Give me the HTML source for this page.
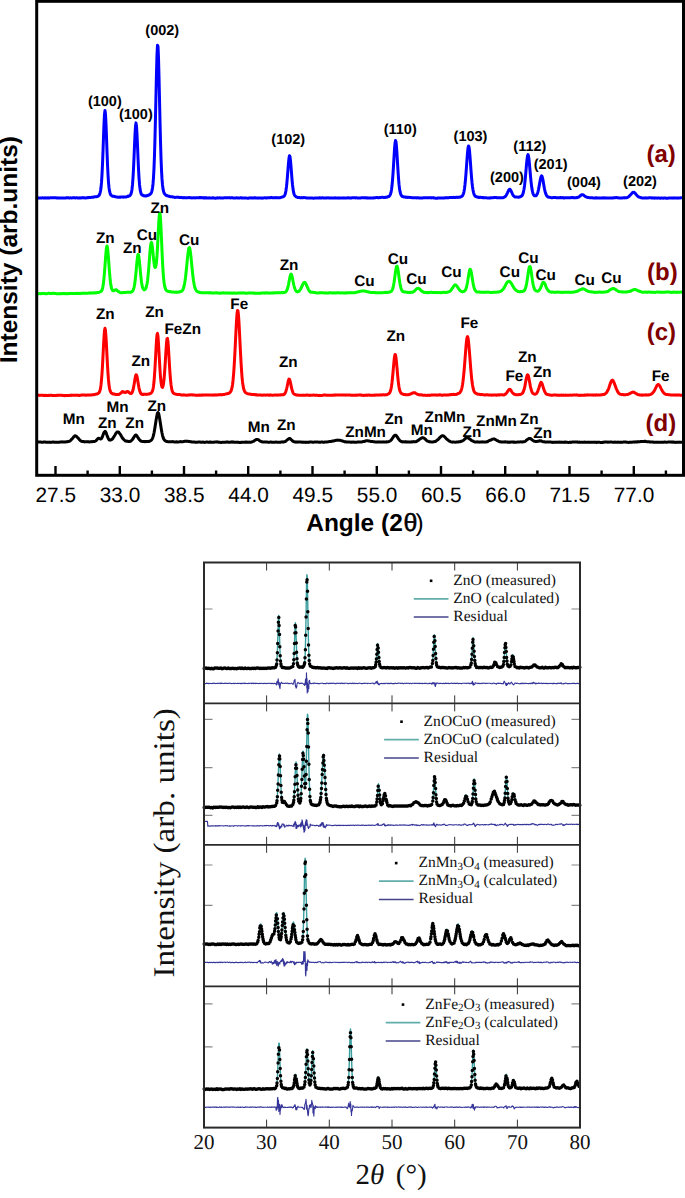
<!DOCTYPE html>
<html><head><meta charset="utf-8"><style>
html,body{margin:0;padding:0;background:#fff;}
svg{display:block;text-rendering:geometricPrecision;}
</style></head><body>
<svg width="685" height="1198" viewBox="0 0 685 1198">
<rect width="685" height="1198" fill="#fff"/>

<g fill="none" stroke-width="3" stroke-linejoin="round" stroke-linecap="round"><path d="M38.0,197.84 L38.5,197.98 L39.0,198.05 L39.5,197.95 L40.0,197.95 L40.5,197.93 L41.0,197.98 L41.5,198.06 L42.0,197.90 L42.5,197.78 L43.0,197.93 L43.5,197.91 L44.0,198.00 L44.5,197.83 L45.0,197.85 L45.5,197.94 L46.0,197.86 L46.5,198.02 L47.0,198.12 L47.5,197.92 L48.0,197.78 L48.5,197.84 L49.0,198.00 L49.5,197.95 L50.0,197.86 L50.5,197.86 L51.0,197.74 L51.5,197.71 L52.0,197.76 L52.5,197.81 L53.0,197.77 L53.5,197.73 L54.0,197.71 L54.5,197.76 L55.0,197.75 L55.5,197.66 L56.0,197.84 L56.5,197.88 L57.0,197.93 L57.5,197.84 L58.0,198.01 L58.5,198.09 L59.0,197.92 L59.5,197.87 L60.0,197.95 L60.5,198.00 L61.0,198.10 L61.5,198.02 L62.0,198.08 L62.5,198.08 L63.0,197.97 L63.5,197.97 L64.0,198.07 L64.5,198.12 L65.0,198.05 L65.5,198.03 L66.0,197.85 L66.5,197.78 L67.0,197.90 L67.5,197.87 L68.0,197.77 L68.5,197.82 L69.0,197.90 L69.5,197.94 L70.0,197.88 L70.5,197.86 L71.0,197.86 L71.5,197.94 L72.0,197.92 L72.5,197.87 L73.0,197.86 L73.5,197.71 L74.0,197.61 L74.5,197.74 L75.0,197.91 L75.5,197.91 L76.0,197.85 L76.5,197.74 L77.0,197.76 L77.5,197.92 L78.0,197.96 L78.5,197.92 L79.0,197.99 L79.5,197.85 L80.0,197.83 L80.5,197.94 L81.0,197.91 L81.5,197.85 L82.0,197.74 L82.5,197.75 L83.0,197.88 L83.5,197.68 L84.0,197.76 L84.5,197.83 L85.0,197.90 L85.5,197.89 L86.0,197.91 L86.5,197.82 L87.0,197.77 L87.5,197.69 L88.0,197.51 L88.5,197.63 L89.0,197.61 L89.5,197.47 L90.0,197.46 L90.5,197.44 L91.0,197.37 L91.5,197.30 L92.0,197.30 L92.5,197.31 L93.0,197.29 L93.5,197.21 L94.0,197.00 L94.5,196.89 L95.0,196.76 L95.5,196.75 L96.0,196.79 L96.5,196.74 L97.0,196.64 L97.5,196.50 L98.0,196.13 L98.5,195.89 L99.0,195.43 L99.5,194.52 L100.0,193.16 L100.5,191.01 L101.0,187.77 L101.5,182.41 L102.0,174.58 L102.5,164.23 L103.0,151.42 L103.5,137.28 L104.0,123.93 L104.5,114.16 L105.0,110.42 L105.5,114.10 L106.0,124.08 L106.5,137.39 L107.0,151.40 L107.5,164.23 L108.0,174.55 L108.5,182.32 L109.0,187.65 L109.5,190.99 L110.0,192.98 L110.5,194.38 L111.0,195.13 L111.5,195.51 L112.0,195.88 L112.5,196.22 L113.0,196.23 L113.5,196.26 L114.0,196.34 L114.5,196.58 L115.0,196.60 L115.5,196.78 L116.0,196.92 L116.5,196.98 L117.0,196.93 L117.5,197.13 L118.0,197.22 L118.5,197.20 L119.0,197.10 L119.5,197.15 L120.0,197.12 L120.5,197.14 L121.0,197.08 L121.5,197.12 L122.0,196.98 L122.5,196.94 L123.0,197.10 L123.5,197.17 L124.0,197.04 L124.5,197.10 L125.0,196.95 L125.5,197.02 L126.0,196.98 L126.5,196.82 L127.0,196.62 L127.5,196.37 L128.0,196.39 L128.5,196.09 L129.0,196.03 L129.5,195.89 L130.0,195.48 L130.5,194.71 L131.0,193.79 L131.5,192.14 L132.0,189.24 L132.5,184.64 L133.0,177.93 L133.5,168.95 L134.0,157.93 L134.5,146.01 L135.0,134.63 L135.5,126.12 L136.0,122.87 L136.5,126.11 L137.0,134.47 L137.5,145.83 L138.0,157.77 L138.5,168.81 L139.0,177.81 L139.5,184.21 L140.0,188.63 L140.5,191.47 L141.0,193.37 L141.5,194.44 L142.0,194.93 L142.5,195.18 L143.0,195.46 L143.5,195.70 L144.0,195.88 L144.5,195.83 L145.0,195.94 L145.5,195.94 L146.0,195.85 L146.5,195.90 L147.0,195.68 L147.5,195.61 L148.0,195.31 L148.5,195.05 L149.0,195.00 L149.5,194.63 L150.0,194.38 L150.5,193.94 L151.0,193.37 L151.5,192.29 L152.0,190.63 L152.5,187.99 L153.0,183.96 L153.5,177.51 L154.0,168.07 L154.5,154.83 L155.0,137.41 L155.5,116.76 L156.0,94.09 L156.5,72.16 L157.0,54.52 L157.5,45.20 L158.0,46.42 L158.5,57.92 L159.0,76.58 L159.5,98.84 L160.0,121.25 L160.5,141.24 L161.0,157.73 L161.5,170.17 L162.0,178.95 L162.5,184.89 L163.0,188.87 L163.5,191.26 L164.0,192.85 L164.5,193.74 L165.0,194.29 L165.5,194.85 L166.0,195.28 L166.5,195.39 L167.0,195.70 L167.5,195.78 L168.0,195.88 L168.5,196.21 L169.0,196.22 L169.5,196.31 L170.0,196.62 L170.5,196.69 L171.0,196.67 L171.5,196.68 L172.0,196.73 L172.5,196.93 L173.0,196.90 L173.5,197.12 L174.0,197.13 L174.5,197.33 L175.0,197.46 L175.5,197.37 L176.0,197.31 L176.5,197.34 L177.0,197.26 L177.5,197.37 L178.0,197.27 L178.5,197.20 L179.0,197.45 L179.5,197.42 L180.0,197.49 L180.5,197.51 L181.0,197.48 L181.5,197.39 L182.0,197.59 L182.5,197.75 L183.0,197.86 L183.5,197.69 L184.0,197.60 L184.5,197.66 L185.0,197.82 L185.5,197.80 L186.0,197.83 L186.5,197.85 L187.0,197.74 L187.5,197.75 L188.0,197.69 L188.5,197.63 L189.0,197.55 L189.5,197.55 L190.0,197.76 L190.5,197.75 L191.0,197.80 L191.5,197.84 L192.0,197.96 L192.5,197.88 L193.0,197.80 L193.5,197.75 L194.0,197.71 L194.5,197.85 L195.0,197.96 L195.5,197.86 L196.0,197.80 L196.5,197.82 L197.0,197.85 L197.5,197.87 L198.0,197.79 L198.5,197.66 L199.0,197.64 L199.5,197.57 L200.0,197.67 L200.5,197.60 L201.0,197.55 L201.5,197.68 L202.0,197.67 L202.5,197.82 L203.0,197.83 L203.5,197.95 L204.0,197.82 L204.5,197.84 L205.0,197.94 L205.5,197.79 L206.0,197.95 L206.5,197.83 L207.0,197.93 L207.5,198.06 L208.0,198.11 L208.5,197.99 L209.0,197.84 L209.5,197.86 L210.0,198.00 L210.5,197.90 L211.0,198.02 L211.5,197.88 L212.0,198.01 L212.5,197.83 L213.0,197.80 L213.5,197.95 L214.0,198.03 L214.5,198.11 L215.0,198.15 L215.5,198.15 L216.0,198.14 L216.5,197.97 L217.0,197.93 L217.5,197.82 L218.0,197.91 L218.5,197.96 L219.0,197.87 L219.5,197.76 L220.0,197.94 L220.5,198.03 L221.0,198.01 L221.5,197.99 L222.0,198.08 L222.5,198.02 L223.0,197.96 L223.5,197.90 L224.0,197.83 L224.5,197.72 L225.0,197.82 L225.5,197.83 L226.0,197.88 L226.5,197.76 L227.0,197.77 L227.5,197.70 L228.0,197.66 L228.5,197.67 L229.0,197.84 L229.5,197.84 L230.0,197.83 L230.5,197.90 L231.0,197.83 L231.5,197.71 L232.0,197.78 L232.5,197.83 L233.0,197.90 L233.5,197.89 L234.0,197.96 L234.5,198.02 L235.0,197.91 L235.5,197.92 L236.0,197.91 L236.5,197.84 L237.0,197.84 L237.5,197.88 L238.0,198.02 L238.5,198.12 L239.0,197.99 L239.5,198.02 L240.0,197.86 L240.5,197.75 L241.0,197.81 L241.5,197.96 L242.0,197.85 L242.5,197.95 L243.0,198.06 L243.5,197.96 L244.0,198.01 L244.5,198.09 L245.0,198.00 L245.5,198.04 L246.0,198.08 L246.5,198.06 L247.0,198.13 L247.5,198.19 L248.0,198.25 L248.5,198.17 L249.0,198.00 L249.5,197.90 L250.0,197.83 L250.5,197.88 L251.0,197.97 L251.5,197.82 L252.0,197.90 L252.5,197.97 L253.0,197.91 L253.5,197.92 L254.0,197.82 L254.5,197.92 L255.0,197.78 L255.5,197.96 L256.0,198.04 L256.5,198.04 L257.0,197.93 L257.5,198.05 L258.0,198.15 L258.5,197.97 L259.0,198.03 L259.5,198.09 L260.0,198.08 L260.5,198.09 L261.0,198.02 L261.5,198.11 L262.0,198.18 L262.5,198.06 L263.0,198.10 L263.5,198.01 L264.0,197.87 L264.5,197.82 L265.0,197.73 L265.5,197.89 L266.0,198.02 L266.5,197.86 L267.0,197.89 L267.5,197.85 L268.0,197.74 L268.5,197.71 L269.0,197.67 L269.5,197.79 L270.0,197.65 L270.5,197.61 L271.0,197.65 L271.5,197.55 L272.0,197.66 L272.5,197.72 L273.0,197.84 L273.5,197.72 L274.0,197.66 L274.5,197.69 L275.0,197.63 L275.5,197.67 L276.0,197.59 L276.5,197.66 L277.0,197.73 L277.5,197.77 L278.0,197.84 L278.5,197.75 L279.0,197.66 L279.5,197.69 L280.0,197.66 L280.5,197.56 L281.0,197.41 L281.5,197.24 L282.0,197.03 L282.5,197.03 L283.0,196.74 L283.5,196.60 L284.0,196.22 L284.5,195.70 L285.0,194.66 L285.5,193.03 L286.0,190.23 L286.5,186.50 L287.0,181.61 L287.5,175.61 L288.0,169.13 L288.5,162.87 L289.0,158.07 L289.5,155.67 L290.0,156.69 L290.5,160.64 L291.0,166.42 L291.5,172.93 L292.0,179.28 L292.5,184.68 L293.0,188.85 L293.5,191.91 L294.0,193.89 L294.5,195.10 L295.0,195.78 L295.5,196.26 L296.0,196.65 L296.5,196.99 L297.0,197.22 L297.5,197.30 L298.0,197.50 L298.5,197.50 L299.0,197.62 L299.5,197.58 L300.0,197.67 L300.5,197.81 L301.0,197.71 L301.5,197.61 L302.0,197.67 L302.5,197.70 L303.0,197.67 L303.5,197.55 L304.0,197.58 L304.5,197.62 L305.0,197.64 L305.5,197.80 L306.0,197.83 L306.5,197.90 L307.0,197.99 L307.5,198.02 L308.0,197.96 L308.5,198.00 L309.0,198.00 L309.5,198.00 L310.0,198.00 L310.5,197.93 L311.0,197.95 L311.5,197.97 L312.0,198.07 L312.5,198.10 L313.0,198.14 L313.5,198.15 L314.0,198.16 L314.5,198.12 L315.0,198.00 L315.5,197.90 L316.0,197.97 L316.5,198.06 L317.0,198.03 L317.5,197.89 L318.0,197.99 L318.5,197.96 L319.0,197.94 L319.5,197.80 L320.0,197.84 L320.5,197.93 L321.0,197.91 L321.5,197.87 L322.0,197.93 L322.5,197.78 L323.0,197.83 L323.5,197.99 L324.0,198.03 L324.5,197.97 L325.0,198.01 L325.5,198.02 L326.0,197.91 L326.5,197.82 L327.0,197.97 L327.5,197.89 L328.0,197.78 L328.5,197.92 L329.0,197.93 L329.5,197.89 L330.0,197.91 L330.5,197.99 L331.0,197.87 L331.5,197.94 L332.0,198.00 L332.5,198.08 L333.0,197.96 L333.5,197.99 L334.0,197.89 L334.5,197.92 L335.0,197.83 L335.5,197.95 L336.0,198.06 L336.5,197.97 L337.0,197.88 L337.5,198.03 L338.0,198.07 L338.5,198.13 L339.0,197.93 L339.5,198.05 L340.0,198.06 L340.5,197.96 L341.0,197.94 L341.5,198.01 L342.0,198.08 L342.5,197.94 L343.0,197.98 L343.5,197.86 L344.0,198.03 L344.5,197.98 L345.0,198.09 L345.5,198.11 L346.0,198.09 L346.5,197.97 L347.0,197.97 L347.5,197.85 L348.0,197.77 L348.5,197.88 L349.0,197.85 L349.5,197.95 L350.0,197.87 L350.5,197.95 L351.0,198.01 L351.5,197.93 L352.0,197.81 L352.5,197.81 L353.0,197.84 L353.5,197.75 L354.0,197.71 L354.5,197.64 L355.0,197.75 L355.5,197.92 L356.0,197.83 L356.5,197.72 L357.0,197.84 L357.5,197.96 L358.0,198.08 L358.5,198.07 L359.0,197.97 L359.5,198.05 L360.0,197.90 L360.5,197.96 L361.0,197.82 L361.5,197.81 L362.0,197.84 L362.5,197.82 L363.0,197.74 L363.5,197.71 L364.0,197.86 L364.5,197.86 L365.0,197.89 L365.5,197.80 L366.0,197.89 L366.5,197.83 L367.0,197.87 L367.5,197.99 L368.0,198.10 L368.5,197.89 L369.0,197.97 L369.5,198.04 L370.0,197.93 L370.5,197.87 L371.0,197.88 L371.5,197.99 L372.0,197.91 L372.5,198.00 L373.0,198.02 L373.5,197.85 L374.0,197.96 L374.5,197.76 L375.0,197.66 L375.5,197.74 L376.0,197.61 L376.5,197.61 L377.0,197.54 L377.5,197.58 L378.0,197.72 L378.5,197.83 L379.0,197.64 L379.5,197.51 L380.0,197.65 L380.5,197.49 L381.0,197.45 L381.5,197.36 L382.0,197.28 L382.5,197.20 L383.0,197.31 L383.5,197.40 L384.0,197.44 L384.5,197.49 L385.0,197.45 L385.5,197.32 L386.0,197.27 L386.5,197.30 L387.0,197.19 L387.5,196.94 L388.0,196.64 L388.5,196.61 L389.0,196.34 L389.5,195.85 L390.0,195.22 L390.5,194.15 L391.0,192.43 L391.5,189.64 L392.0,185.77 L392.5,180.48 L393.0,173.66 L393.5,165.87 L394.0,157.35 L394.5,149.41 L395.0,143.36 L395.5,140.58 L396.0,141.85 L396.5,146.82 L397.0,154.10 L397.5,162.67 L398.0,170.79 L398.5,178.20 L399.0,184.15 L399.5,188.61 L400.0,191.50 L400.5,193.41 L401.0,194.84 L401.5,195.62 L402.0,196.08 L402.5,196.56 L403.0,196.61 L403.5,196.80 L404.0,196.92 L404.5,196.92 L405.0,197.02 L405.5,197.20 L406.0,197.39 L406.5,197.27 L407.0,197.35 L407.5,197.29 L408.0,197.46 L408.5,197.38 L409.0,197.31 L409.5,197.38 L410.0,197.53 L410.5,197.52 L411.0,197.46 L411.5,197.62 L412.0,197.74 L412.5,197.85 L413.0,197.76 L413.5,197.73 L414.0,197.66 L414.5,197.71 L415.0,197.68 L415.5,197.66 L416.0,197.79 L416.5,197.93 L417.0,197.92 L417.5,197.77 L418.0,197.83 L418.5,197.81 L419.0,197.96 L419.5,197.99 L420.0,198.04 L420.5,198.04 L421.0,197.99 L421.5,198.06 L422.0,198.10 L422.5,197.96 L423.0,197.82 L423.5,197.79 L424.0,197.82 L424.5,197.71 L425.0,197.71 L425.5,197.77 L426.0,197.66 L426.5,197.82 L427.0,197.87 L427.5,197.81 L428.0,197.77 L428.5,197.75 L429.0,197.73 L429.5,197.85 L430.0,197.85 L430.5,197.86 L431.0,197.76 L431.5,197.91 L432.0,197.85 L432.5,197.80 L433.0,197.69 L433.5,197.88 L434.0,197.87 L434.5,197.99 L435.0,198.08 L435.5,198.15 L436.0,198.16 L436.5,198.19 L437.0,198.22 L437.5,198.20 L438.0,197.98 L438.5,197.95 L439.0,197.94 L439.5,198.06 L440.0,198.07 L440.5,198.06 L441.0,198.07 L441.5,197.95 L442.0,198.04 L442.5,198.02 L443.0,197.93 L443.5,197.88 L444.0,198.00 L444.5,197.95 L445.0,197.80 L445.5,197.69 L446.0,197.77 L446.5,197.79 L447.0,197.90 L447.5,197.76 L448.0,197.73 L448.5,197.80 L449.0,197.64 L449.5,197.54 L450.0,197.60 L450.5,197.55 L451.0,197.46 L451.5,197.45 L452.0,197.54 L452.5,197.57 L453.0,197.44 L453.5,197.35 L454.0,197.51 L454.5,197.54 L455.0,197.42 L455.5,197.53 L456.0,197.34 L456.5,197.29 L457.0,197.39 L457.5,197.40 L458.0,197.25 L458.5,197.31 L459.0,197.23 L459.5,197.21 L460.0,197.17 L460.5,196.94 L461.0,196.77 L461.5,196.49 L462.0,196.22 L462.5,195.68 L463.0,194.81 L463.5,193.49 L464.0,191.56 L464.5,188.50 L465.0,184.42 L465.5,179.41 L466.0,173.32 L466.5,166.39 L467.0,159.29 L467.5,152.80 L468.0,148.12 L468.5,145.99 L469.0,146.91 L469.5,150.57 L470.0,156.59 L470.5,163.48 L471.0,170.42 L471.5,176.87 L472.0,182.49 L472.5,186.74 L473.0,189.96 L473.5,192.30 L474.0,194.06 L474.5,195.18 L475.0,195.97 L475.5,196.36 L476.0,196.63 L476.5,196.81 L477.0,196.93 L477.5,197.04 L478.0,197.21 L478.5,197.39 L479.0,197.36 L479.5,197.41 L480.0,197.37 L480.5,197.34 L481.0,197.40 L481.5,197.46 L482.0,197.51 L482.5,197.67 L483.0,197.55 L483.5,197.61 L484.0,197.77 L484.5,197.80 L485.0,197.78 L485.5,197.71 L486.0,197.67 L486.5,197.81 L487.0,197.89 L487.5,197.89 L488.0,197.95 L488.5,198.01 L489.0,198.03 L489.5,197.90 L490.0,197.84 L490.5,197.90 L491.0,197.81 L491.5,197.86 L492.0,197.82 L492.5,197.75 L493.0,197.73 L493.5,197.62 L494.0,197.61 L494.5,197.62 L495.0,197.51 L495.5,197.48 L496.0,197.48 L496.5,197.66 L497.0,197.70 L497.5,197.64 L498.0,197.80 L498.5,197.69 L499.0,197.69 L499.5,197.75 L500.0,197.77 L500.5,197.71 L501.0,197.76 L501.5,197.69 L502.0,197.70 L502.5,197.63 L503.0,197.68 L503.5,197.60 L504.0,197.29 L504.5,196.97 L505.0,196.83 L505.5,196.28 L506.0,195.54 L506.5,194.72 L507.0,193.79 L507.5,192.86 L508.0,191.66 L508.5,190.64 L509.0,189.86 L509.5,189.23 L510.0,189.31 L510.5,189.99 L511.0,190.85 L511.5,191.91 L512.0,192.98 L512.5,194.17 L513.0,195.18 L513.5,195.72 L514.0,196.27 L514.5,196.61 L515.0,196.91 L515.5,196.93 L516.0,196.96 L516.5,196.97 L517.0,197.02 L517.5,197.12 L518.0,197.19 L518.5,197.20 L519.0,197.14 L519.5,196.88 L520.0,196.74 L520.5,196.66 L521.0,196.37 L521.5,196.07 L522.0,195.69 L522.5,194.77 L523.0,193.68 L523.5,191.75 L524.0,189.18 L524.5,185.88 L525.0,181.38 L525.5,176.16 L526.0,170.36 L526.5,164.67 L527.0,159.67 L527.5,155.94 L528.0,154.60 L528.5,156.00 L529.0,159.54 L529.5,164.53 L530.0,170.40 L530.5,176.08 L531.0,181.28 L531.5,185.50 L532.0,189.11 L532.5,191.66 L533.0,193.51 L533.5,194.75 L534.0,195.31 L534.5,195.69 L535.0,195.82 L535.5,195.87 L536.0,195.73 L536.5,195.16 L537.0,194.33 L537.5,193.28 L538.0,191.66 L538.5,189.48 L539.0,186.91 L539.5,184.15 L540.0,181.29 L540.5,178.79 L541.0,176.80 L541.5,175.92 L542.0,176.21 L542.5,177.82 L543.0,180.26 L543.5,183.26 L544.0,186.16 L544.5,188.82 L545.0,191.15 L545.5,193.03 L546.0,194.40 L546.5,195.45 L547.0,196.04 L547.5,196.64 L548.0,196.98 L548.5,197.15 L549.0,197.13 L549.5,197.19 L550.0,197.35 L550.5,197.46 L551.0,197.59 L551.5,197.71 L552.0,197.63 L552.5,197.64 L553.0,197.60 L553.5,197.51 L554.0,197.46 L554.5,197.47 L555.0,197.42 L555.5,197.53 L556.0,197.66 L556.5,197.71 L557.0,197.78 L557.5,197.70 L558.0,197.64 L558.5,197.71 L559.0,197.85 L559.5,197.82 L560.0,197.67 L560.5,197.57 L561.0,197.59 L561.5,197.70 L562.0,197.61 L562.5,197.60 L563.0,197.73 L563.5,197.91 L564.0,197.84 L564.5,197.88 L565.0,197.87 L565.5,197.73 L566.0,197.71 L566.5,197.65 L567.0,197.64 L567.5,197.79 L568.0,197.86 L568.5,197.72 L569.0,197.64 L569.5,197.77 L570.0,197.68 L570.5,197.68 L571.0,197.66 L571.5,197.58 L572.0,197.52 L572.5,197.51 L573.0,197.57 L573.5,197.78 L574.0,197.83 L574.5,197.74 L575.0,197.79 L575.5,197.70 L576.0,197.68 L576.5,197.57 L577.0,197.63 L577.5,197.42 L578.0,197.31 L578.5,197.07 L579.0,196.82 L579.5,196.43 L580.0,196.08 L580.5,195.57 L581.0,195.20 L581.5,194.88 L582.0,194.67 L582.5,194.64 L583.0,194.78 L583.5,195.01 L584.0,195.50 L584.5,195.92 L585.0,196.31 L585.5,196.53 L586.0,196.88 L586.5,197.06 L587.0,197.22 L587.5,197.41 L588.0,197.57 L588.5,197.60 L589.0,197.62 L589.5,197.71 L590.0,197.76 L590.5,197.77 L591.0,197.69 L591.5,197.72 L592.0,197.82 L592.5,197.86 L593.0,197.89 L593.5,198.00 L594.0,198.04 L594.5,198.06 L595.0,197.88 L595.5,197.83 L596.0,197.92 L596.5,197.82 L597.0,197.97 L597.5,197.85 L598.0,197.99 L598.5,197.89 L599.0,198.00 L599.5,198.09 L600.0,197.99 L600.5,198.09 L601.0,197.94 L601.5,198.05 L602.0,197.98 L602.5,197.95 L603.0,197.83 L603.5,197.89 L604.0,197.84 L604.5,197.92 L605.0,198.02 L605.5,198.02 L606.0,197.85 L606.5,198.01 L607.0,198.12 L607.5,198.11 L608.0,198.02 L608.5,198.01 L609.0,198.11 L609.5,198.04 L610.0,198.10 L610.5,198.08 L611.0,198.01 L611.5,198.12 L612.0,198.04 L612.5,198.04 L613.0,197.87 L613.5,197.88 L614.0,197.75 L614.5,197.87 L615.0,197.73 L615.5,197.65 L616.0,197.62 L616.5,197.60 L617.0,197.69 L617.5,197.72 L618.0,197.70 L618.5,197.91 L619.0,198.03 L619.5,198.03 L620.0,198.08 L620.5,198.11 L621.0,197.96 L621.5,198.03 L622.0,197.89 L622.5,197.90 L623.0,197.83 L623.5,197.72 L624.0,197.82 L624.5,197.92 L625.0,197.79 L625.5,197.85 L626.0,197.70 L626.5,197.64 L627.0,197.63 L627.5,197.48 L628.0,197.05 L628.5,196.72 L629.0,196.32 L629.5,195.83 L630.0,195.44 L630.5,194.85 L631.0,194.31 L631.5,193.74 L632.0,193.18 L632.5,192.59 L633.0,192.37 L633.5,192.39 L634.0,192.36 L634.5,192.70 L635.0,193.13 L635.5,193.62 L636.0,194.29 L636.5,195.01 L637.0,195.38 L637.5,196.02 L638.0,196.40 L638.5,196.86 L639.0,197.02 L639.5,197.31 L640.0,197.35 L640.5,197.45 L641.0,197.72 L641.5,197.81 L642.0,197.92 L642.5,197.89 L643.0,197.88 L643.5,197.88 L644.0,197.96 L644.5,198.01 L645.0,197.89 L645.5,197.87 L646.0,197.90 L646.5,197.92 L647.0,198.05 L647.5,198.11 L648.0,197.95 L648.5,197.91 L649.0,197.80 L649.5,197.70 L650.0,197.64 L650.5,197.64 L651.0,197.81 L651.5,197.90 L652.0,198.00 L652.5,197.92 L653.0,197.83 L653.5,198.01 L654.0,198.09 L654.5,198.18 L655.0,197.97 L655.5,197.94 L656.0,197.98 L656.5,198.05 L657.0,198.15 L657.5,198.10 L658.0,198.03 L658.5,197.86 L659.0,197.98 L659.5,198.12 L660.0,198.20 L660.5,198.18 L661.0,198.07 L661.5,197.96 L662.0,198.05 L662.5,198.15 L663.0,198.24 L663.5,198.06 L664.0,198.06 L664.5,198.04 L665.0,198.00 L665.5,198.08 L666.0,198.18 L666.5,198.18 L667.0,198.18 L667.5,198.18 L668.0,198.16 L668.5,198.12 L669.0,198.00 L669.5,198.08 L670.0,197.93 L670.5,197.99 L671.0,197.95 L671.5,197.98 L672.0,198.02 L672.5,198.00 L673.0,198.14 L673.5,198.01 L674.0,197.86 L674.5,198.03 L675.0,197.96 L675.5,197.90 L676.0,197.90 L676.5,197.95 L677.0,198.11 L677.5,198.13 L678.0,198.03 L678.5,198.03 L679.0,198.00 L679.5,197.99 L680.0,197.97 L680.5,197.87 L681.0,197.87 L681.5,197.87 L682.0,197.82" stroke="#0000ff" /><path d="M38.0,293.70 L38.5,293.79 L39.0,293.59 L39.5,293.45 L40.0,293.58 L40.5,293.64 L41.0,293.67 L41.5,293.57 L42.0,293.60 L42.5,293.61 L43.0,293.62 L43.5,293.49 L44.0,293.48 L44.5,293.47 L45.0,293.56 L45.5,293.70 L46.0,293.78 L46.5,293.72 L47.0,293.65 L47.5,293.54 L48.0,293.40 L48.5,293.29 L49.0,293.35 L49.5,293.35 L50.0,293.36 L50.5,293.53 L51.0,293.53 L51.5,293.54 L52.0,293.46 L52.5,293.33 L53.0,293.33 L53.5,293.27 L54.0,293.35 L54.5,293.54 L55.0,293.58 L55.5,293.46 L56.0,293.59 L56.5,293.65 L57.0,293.67 L57.5,293.74 L58.0,293.74 L58.5,293.75 L59.0,293.63 L59.5,293.73 L60.0,293.79 L60.5,293.60 L61.0,293.64 L61.5,293.65 L62.0,293.59 L62.5,293.56 L63.0,293.53 L63.5,293.64 L64.0,293.59 L64.5,293.65 L65.0,293.55 L65.5,293.63 L66.0,293.70 L66.5,293.61 L67.0,293.58 L67.5,293.67 L68.0,293.67 L68.5,293.59 L69.0,293.46 L69.5,293.40 L70.0,293.47 L70.5,293.36 L71.0,293.50 L71.5,293.41 L72.0,293.53 L72.5,293.44 L73.0,293.57 L73.5,293.58 L74.0,293.53 L74.5,293.50 L75.0,293.51 L75.5,293.50 L76.0,293.41 L76.5,293.32 L77.0,293.34 L77.5,293.48 L78.0,293.48 L78.5,293.32 L79.0,293.43 L79.5,293.47 L80.0,293.56 L80.5,293.40 L81.0,293.46 L81.5,293.29 L82.0,293.34 L82.5,293.27 L83.0,293.20 L83.5,293.34 L84.0,293.21 L84.5,293.24 L85.0,293.36 L85.5,293.26 L86.0,293.17 L86.5,293.31 L87.0,293.27 L87.5,293.32 L88.0,293.15 L88.5,293.12 L89.0,293.05 L89.5,293.14 L90.0,293.02 L90.5,293.19 L91.0,293.03 L91.5,293.12 L92.0,292.96 L92.5,292.92 L93.0,293.04 L93.5,292.92 L94.0,292.84 L94.5,292.92 L95.0,292.87 L95.5,292.72 L96.0,292.88 L96.5,292.73 L97.0,292.56 L97.5,292.51 L98.0,292.53 L98.5,292.55 L99.0,292.32 L99.5,292.18 L100.0,291.90 L100.5,291.71 L101.0,291.46 L101.5,290.94 L102.0,290.07 L102.5,288.55 L103.0,286.25 L103.5,282.83 L104.0,278.15 L104.5,272.24 L105.0,265.59 L105.5,258.53 L106.0,252.05 L106.5,247.50 L107.0,245.96 L107.5,247.51 L108.0,252.12 L108.5,258.44 L109.0,265.44 L109.5,272.01 L110.0,277.95 L110.5,282.45 L111.0,285.86 L111.5,288.15 L112.0,289.48 L112.5,290.40 L113.0,290.75 L113.5,290.78 L114.0,290.62 L114.5,290.36 L115.0,290.01 L115.5,289.85 L116.0,289.73 L116.5,289.96 L117.0,290.34 L117.5,290.86 L118.0,291.18 L118.5,291.59 L119.0,291.88 L119.5,292.21 L120.0,292.44 L120.5,292.65 L121.0,292.76 L121.5,292.69 L122.0,292.68 L122.5,292.70 L123.0,292.56 L123.5,292.46 L124.0,292.50 L124.5,292.43 L125.0,292.56 L125.5,292.50 L126.0,292.40 L126.5,292.35 L127.0,292.32 L127.5,292.27 L128.0,292.32 L128.5,292.31 L129.0,292.24 L129.5,292.25 L130.0,292.10 L130.5,292.16 L131.0,292.16 L131.5,292.00 L132.0,291.66 L132.5,291.21 L133.0,290.54 L133.5,289.32 L134.0,287.68 L134.5,285.29 L135.0,281.84 L135.5,277.41 L136.0,272.35 L136.5,266.65 L137.0,261.17 L137.5,256.87 L138.0,254.45 L138.5,254.59 L139.0,257.55 L139.5,262.12 L140.0,267.47 L140.5,273.09 L141.0,277.93 L141.5,281.96 L142.0,285.15 L142.5,287.32 L143.0,288.51 L143.5,289.31 L144.0,289.68 L144.5,289.74 L145.0,289.44 L145.5,288.95 L146.0,287.86 L146.5,286.29 L147.0,283.99 L147.5,280.90 L148.0,276.44 L148.5,271.17 L149.0,264.83 L149.5,258.20 L150.0,251.73 L150.5,246.38 L151.0,243.14 L151.5,242.44 L152.0,244.34 L152.5,248.29 L153.0,253.23 L153.5,258.44 L154.0,262.78 L154.5,265.95 L155.0,267.50 L155.5,267.23 L156.0,265.46 L156.5,261.71 L157.0,255.67 L157.5,247.41 L158.0,237.56 L158.5,227.41 L159.0,218.80 L159.5,213.48 L160.0,213.33 L160.5,218.47 L161.0,227.81 L161.5,239.20 L162.0,250.93 L162.5,261.63 L163.0,270.41 L163.5,277.17 L164.0,282.12 L164.5,285.41 L165.0,287.58 L165.5,289.02 L166.0,290.00 L166.5,290.53 L167.0,290.96 L167.5,291.05 L168.0,291.21 L168.5,291.54 L169.0,291.53 L169.5,291.63 L170.0,291.61 L170.5,291.62 L171.0,291.88 L171.5,292.09 L172.0,292.15 L172.5,292.05 L173.0,292.03 L173.5,292.00 L174.0,292.11 L174.5,292.19 L175.0,292.17 L175.5,292.17 L176.0,292.05 L176.5,292.08 L177.0,292.21 L177.5,292.24 L178.0,292.04 L178.5,292.00 L179.0,292.01 L179.5,291.84 L180.0,291.86 L180.5,291.68 L181.0,291.53 L181.5,291.18 L182.0,290.90 L182.5,290.33 L183.0,289.41 L183.5,288.01 L184.0,286.26 L184.5,283.83 L185.0,280.94 L185.5,277.42 L186.0,272.99 L186.5,268.16 L187.0,263.02 L187.5,257.90 L188.0,253.38 L188.5,249.93 L189.0,247.90 L189.5,247.65 L190.0,249.47 L190.5,252.67 L191.0,257.16 L191.5,262.21 L192.0,267.42 L192.5,272.41 L193.0,276.71 L193.5,280.52 L194.0,283.58 L194.5,286.05 L195.0,288.01 L195.5,289.34 L196.0,290.09 L196.5,290.76 L197.0,291.29 L197.5,291.72 L198.0,291.95 L198.5,292.16 L199.0,292.09 L199.5,292.32 L200.0,292.44 L200.5,292.50 L201.0,292.64 L201.5,292.74 L202.0,292.59 L202.5,292.71 L203.0,292.78 L203.5,292.67 L204.0,292.77 L204.5,292.79 L205.0,292.70 L205.5,292.82 L206.0,292.72 L206.5,292.79 L207.0,292.79 L207.5,292.74 L208.0,292.80 L208.5,292.82 L209.0,292.76 L209.5,292.94 L210.0,292.81 L210.5,292.70 L211.0,292.77 L211.5,292.92 L212.0,292.98 L212.5,293.05 L213.0,293.02 L213.5,293.06 L214.0,292.99 L214.5,292.92 L215.0,292.94 L215.5,292.82 L216.0,292.75 L216.5,292.90 L217.0,292.84 L217.5,292.97 L218.0,293.07 L218.5,293.03 L219.0,293.08 L219.5,293.15 L220.0,293.22 L220.5,293.06 L221.0,292.95 L221.5,292.94 L222.0,292.96 L222.5,292.92 L223.0,292.81 L223.5,292.90 L224.0,293.08 L224.5,293.03 L225.0,293.05 L225.5,293.02 L226.0,293.01 L226.5,293.13 L227.0,293.05 L227.5,293.10 L228.0,293.08 L228.5,293.09 L229.0,293.20 L229.5,293.03 L230.0,293.14 L230.5,293.06 L231.0,293.10 L231.5,293.18 L232.0,293.19 L232.5,293.12 L233.0,293.21 L233.5,293.04 L234.0,293.09 L234.5,293.05 L235.0,293.06 L235.5,293.17 L236.0,293.23 L236.5,293.22 L237.0,293.11 L237.5,293.02 L238.0,293.02 L238.5,292.95 L239.0,292.92 L239.5,293.10 L240.0,292.97 L240.5,293.10 L241.0,293.05 L241.5,293.01 L242.0,292.97 L242.5,292.87 L243.0,292.92 L243.5,292.86 L244.0,292.90 L244.5,292.89 L245.0,293.06 L245.5,293.18 L246.0,293.13 L246.5,293.15 L247.0,293.25 L247.5,293.14 L248.0,292.99 L248.5,292.93 L249.0,292.88 L249.5,292.98 L250.0,292.96 L250.5,292.95 L251.0,293.07 L251.5,292.98 L252.0,293.09 L252.5,293.12 L253.0,293.07 L253.5,293.16 L254.0,293.07 L254.5,293.18 L255.0,293.26 L255.5,293.20 L256.0,293.21 L256.5,293.29 L257.0,293.28 L257.5,293.28 L258.0,293.32 L258.5,293.36 L259.0,293.34 L259.5,293.39 L260.0,293.21 L260.5,293.19 L261.0,293.19 L261.5,293.10 L262.0,293.04 L262.5,292.94 L263.0,293.09 L263.5,293.02 L264.0,293.01 L264.5,293.13 L265.0,292.99 L265.5,293.13 L266.0,292.98 L266.5,292.84 L267.0,292.84 L267.5,292.84 L268.0,293.01 L268.5,293.11 L269.0,293.15 L269.5,293.07 L270.0,293.05 L270.5,292.95 L271.0,293.05 L271.5,292.98 L272.0,292.91 L272.5,292.96 L273.0,292.84 L273.5,292.81 L274.0,292.97 L274.5,292.83 L275.0,292.74 L275.5,292.70 L276.0,292.68 L276.5,292.71 L277.0,292.68 L277.5,292.68 L278.0,292.64 L278.5,292.61 L279.0,292.70 L279.5,292.67 L280.0,292.65 L280.5,292.75 L281.0,292.60 L281.5,292.50 L282.0,292.64 L282.5,292.59 L283.0,292.64 L283.5,292.46 L284.0,292.41 L284.5,292.41 L285.0,292.17 L285.5,291.98 L286.0,291.57 L286.5,290.86 L287.0,290.03 L287.5,288.58 L288.0,286.74 L288.5,284.52 L289.0,281.87 L289.5,279.29 L290.0,276.80 L290.5,274.93 L291.0,274.04 L291.5,274.53 L292.0,276.11 L292.5,278.40 L293.0,280.93 L293.5,283.47 L294.0,285.81 L294.5,287.60 L295.0,289.01 L295.5,290.29 L296.0,290.89 L296.5,291.48 L297.0,291.75 L297.5,291.92 L298.0,291.69 L298.5,291.46 L299.0,291.27 L299.5,290.68 L300.0,290.01 L300.5,289.27 L301.0,288.32 L301.5,287.23 L302.0,286.21 L302.5,284.95 L303.0,284.05 L303.5,283.18 L304.0,282.42 L304.5,282.36 L305.0,282.50 L305.5,283.15 L306.0,284.12 L306.5,285.14 L307.0,286.37 L307.5,287.44 L308.0,288.48 L308.5,289.62 L309.0,290.50 L309.5,291.11 L310.0,291.63 L310.5,292.07 L311.0,292.16 L311.5,292.33 L312.0,292.34 L312.5,292.34 L313.0,292.34 L313.5,292.38 L314.0,292.35 L314.5,292.39 L315.0,292.47 L315.5,292.60 L316.0,292.76 L316.5,292.89 L317.0,292.93 L317.5,292.90 L318.0,293.00 L318.5,292.85 L319.0,292.72 L319.5,292.85 L320.0,292.89 L320.5,292.79 L321.0,292.77 L321.5,292.73 L322.0,292.75 L322.5,292.76 L323.0,292.76 L323.5,292.88 L324.0,292.97 L324.5,292.95 L325.0,292.92 L325.5,292.84 L326.0,292.93 L326.5,293.06 L327.0,292.92 L327.5,292.97 L328.0,293.00 L328.5,293.01 L329.0,292.83 L329.5,292.86 L330.0,292.77 L330.5,292.71 L331.0,292.78 L331.5,292.85 L332.0,292.90 L332.5,292.96 L333.0,293.00 L333.5,292.95 L334.0,292.79 L334.5,292.90 L335.0,292.99 L335.5,293.05 L336.0,293.03 L336.5,292.84 L337.0,292.76 L337.5,292.67 L338.0,292.77 L338.5,292.81 L339.0,292.73 L339.5,292.91 L340.0,293.04 L340.5,293.10 L341.0,293.02 L341.5,292.91 L342.0,292.80 L342.5,292.91 L343.0,292.95 L343.5,292.86 L344.0,292.97 L344.5,292.95 L345.0,292.89 L345.5,292.85 L346.0,292.91 L346.5,292.87 L347.0,292.91 L347.5,292.77 L348.0,292.84 L348.5,292.77 L349.0,292.90 L349.5,292.79 L350.0,292.74 L350.5,292.76 L351.0,292.73 L351.5,292.75 L352.0,292.87 L352.5,292.73 L353.0,292.80 L353.5,292.81 L354.0,292.83 L354.5,292.72 L355.0,292.63 L355.5,292.51 L356.0,292.43 L356.5,292.27 L357.0,292.10 L357.5,292.03 L358.0,291.85 L358.5,291.76 L359.0,291.68 L359.5,291.50 L360.0,291.29 L360.5,291.23 L361.0,291.24 L361.5,291.03 L362.0,291.00 L362.5,291.00 L363.0,291.08 L363.5,291.11 L364.0,291.05 L364.5,291.03 L365.0,291.25 L365.5,291.29 L366.0,291.29 L366.5,291.59 L367.0,291.64 L367.5,291.74 L368.0,291.85 L368.5,291.94 L369.0,292.16 L369.5,292.23 L370.0,292.31 L370.5,292.38 L371.0,292.56 L371.5,292.45 L372.0,292.54 L372.5,292.47 L373.0,292.44 L373.5,292.55 L374.0,292.55 L374.5,292.47 L375.0,292.56 L375.5,292.73 L376.0,292.76 L376.5,292.73 L377.0,292.81 L377.5,292.89 L378.0,292.72 L378.5,292.64 L379.0,292.79 L379.5,292.87 L380.0,292.71 L380.5,292.75 L381.0,292.82 L381.5,292.79 L382.0,292.79 L382.5,292.73 L383.0,292.60 L383.5,292.50 L384.0,292.38 L384.5,292.46 L385.0,292.36 L385.5,292.42 L386.0,292.39 L386.5,292.36 L387.0,292.50 L387.5,292.40 L388.0,292.34 L388.5,292.24 L389.0,292.10 L389.5,291.96 L390.0,291.89 L390.5,291.83 L391.0,291.41 L391.5,291.13 L392.0,290.45 L392.5,289.21 L393.0,287.72 L393.5,285.51 L394.0,282.72 L394.5,279.23 L395.0,275.53 L395.5,271.81 L396.0,268.68 L396.5,266.56 L397.0,266.07 L397.5,267.32 L398.0,269.84 L398.5,273.20 L399.0,277.02 L399.5,280.56 L400.0,283.67 L400.5,286.23 L401.0,288.22 L401.5,289.66 L402.0,290.63 L402.5,291.36 L403.0,291.57 L403.5,291.83 L404.0,291.85 L404.5,292.04 L405.0,292.11 L405.5,292.07 L406.0,292.10 L406.5,292.23 L407.0,292.27 L407.5,292.44 L408.0,292.38 L408.5,292.34 L409.0,292.48 L409.5,292.48 L410.0,292.32 L410.5,292.40 L411.0,292.30 L411.5,292.37 L412.0,292.27 L412.5,292.18 L413.0,292.05 L413.5,291.72 L414.0,291.49 L414.5,290.87 L415.0,290.36 L415.5,289.97 L416.0,289.30 L416.5,288.90 L417.0,288.66 L417.5,288.42 L418.0,288.39 L418.5,288.29 L419.0,288.56 L419.5,288.98 L420.0,289.43 L420.5,289.90 L421.0,290.49 L421.5,290.82 L422.0,291.10 L422.5,291.51 L423.0,291.94 L423.5,292.22 L424.0,292.37 L424.5,292.37 L425.0,292.55 L425.5,292.42 L426.0,292.39 L426.5,292.53 L427.0,292.66 L427.5,292.60 L428.0,292.71 L428.5,292.55 L429.0,292.59 L429.5,292.45 L430.0,292.41 L430.5,292.37 L431.0,292.28 L431.5,292.34 L432.0,292.41 L432.5,292.40 L433.0,292.50 L433.5,292.39 L434.0,292.45 L434.5,292.49 L435.0,292.49 L435.5,292.64 L436.0,292.50 L436.5,292.50 L437.0,292.50 L437.5,292.48 L438.0,292.64 L438.5,292.63 L439.0,292.61 L439.5,292.57 L440.0,292.53 L440.5,292.66 L441.0,292.70 L441.5,292.68 L442.0,292.52 L442.5,292.53 L443.0,292.40 L443.5,292.37 L444.0,292.24 L444.5,292.35 L445.0,292.50 L445.5,292.49 L446.0,292.45 L446.5,292.31 L447.0,292.24 L447.5,292.16 L448.0,292.04 L448.5,291.84 L449.0,291.58 L449.5,291.44 L450.0,291.23 L450.5,290.85 L451.0,290.29 L451.5,289.46 L452.0,288.68 L452.5,288.02 L453.0,287.33 L453.5,286.51 L454.0,285.80 L454.5,285.28 L455.0,284.86 L455.5,284.88 L456.0,285.05 L456.5,285.62 L457.0,286.22 L457.5,287.00 L458.0,287.77 L458.5,288.53 L459.0,289.21 L459.5,289.96 L460.0,290.51 L460.5,290.85 L461.0,291.14 L461.5,291.47 L462.0,291.64 L462.5,291.71 L463.0,291.79 L463.5,291.53 L464.0,291.36 L464.5,291.06 L465.0,290.49 L465.5,289.81 L466.0,288.72 L466.5,286.96 L467.0,284.80 L467.5,282.19 L468.0,279.19 L468.5,275.94 L469.0,273.05 L469.5,270.64 L470.0,269.29 L470.5,269.51 L471.0,271.03 L471.5,273.48 L472.0,276.51 L472.5,279.82 L473.0,282.83 L473.5,285.30 L474.0,287.45 L474.5,288.97 L475.0,290.01 L475.5,290.79 L476.0,291.35 L476.5,291.74 L477.0,291.93 L477.5,292.06 L478.0,292.06 L478.5,291.96 L479.0,292.02 L479.5,291.96 L480.0,292.18 L480.5,292.16 L481.0,292.22 L481.5,292.31 L482.0,292.21 L482.5,292.34 L483.0,292.28 L483.5,292.16 L484.0,292.24 L484.5,292.24 L485.0,292.39 L485.5,292.36 L486.0,292.23 L486.5,292.12 L487.0,292.04 L487.5,292.13 L488.0,292.26 L488.5,292.14 L489.0,292.15 L489.5,292.19 L490.0,292.35 L490.5,292.48 L491.0,292.54 L491.5,292.51 L492.0,292.47 L492.5,292.33 L493.0,292.34 L493.5,292.21 L494.0,292.16 L494.5,292.28 L495.0,292.27 L495.5,292.31 L496.0,292.25 L496.5,292.13 L497.0,292.11 L497.5,292.09 L498.0,291.95 L498.5,292.00 L499.0,292.02 L499.5,291.74 L500.0,291.49 L500.5,291.39 L501.0,291.17 L501.5,290.73 L502.0,290.35 L502.5,289.78 L503.0,289.34 L503.5,288.69 L504.0,287.93 L504.5,287.01 L505.0,286.13 L505.5,285.24 L506.0,284.31 L506.5,283.37 L507.0,282.53 L507.5,281.97 L508.0,281.61 L508.5,281.38 L509.0,281.29 L509.5,281.50 L510.0,281.72 L510.5,282.20 L511.0,283.01 L511.5,283.68 L512.0,284.48 L512.5,285.52 L513.0,286.33 L513.5,287.12 L514.0,287.91 L514.5,288.76 L515.0,289.22 L515.5,289.90 L516.0,290.28 L516.5,290.67 L517.0,290.95 L517.5,291.06 L518.0,291.41 L518.5,291.42 L519.0,291.62 L519.5,291.77 L520.0,291.75 L520.5,291.87 L521.0,291.67 L521.5,291.53 L522.0,291.50 L522.5,291.31 L523.0,291.32 L523.5,291.12 L524.0,290.86 L524.5,290.23 L525.0,289.25 L525.5,288.18 L526.0,286.37 L526.5,284.09 L527.0,281.18 L527.5,277.98 L528.0,274.51 L528.5,271.09 L529.0,268.25 L529.5,266.63 L530.0,266.62 L530.5,267.90 L531.0,270.42 L531.5,273.78 L532.0,277.34 L532.5,280.77 L533.0,283.71 L533.5,286.17 L534.0,287.83 L534.5,289.26 L535.0,289.96 L535.5,290.44 L536.0,290.70 L536.5,291.03 L537.0,291.11 L537.5,291.21 L538.0,291.17 L538.5,290.96 L539.0,290.48 L539.5,289.76 L540.0,289.07 L540.5,288.11 L541.0,286.83 L541.5,285.62 L542.0,284.27 L542.5,283.10 L543.0,282.45 L543.5,282.22 L544.0,282.50 L544.5,283.18 L545.0,284.00 L545.5,285.26 L546.0,286.63 L546.5,287.82 L547.0,288.84 L547.5,289.64 L548.0,290.22 L548.5,290.85 L549.0,291.40 L549.5,291.53 L550.0,291.83 L550.5,292.06 L551.0,292.06 L551.5,292.20 L552.0,292.09 L552.5,292.07 L553.0,292.13 L553.5,292.27 L554.0,292.27 L554.5,292.14 L555.0,292.30 L555.5,292.31 L556.0,292.38 L556.5,292.26 L557.0,292.22 L557.5,292.11 L558.0,292.07 L558.5,292.12 L559.0,292.14 L559.5,292.24 L560.0,292.35 L560.5,292.29 L561.0,292.42 L561.5,292.43 L562.0,292.35 L562.5,292.24 L563.0,292.40 L563.5,292.42 L564.0,292.25 L564.5,292.32 L565.0,292.28 L565.5,292.26 L566.0,292.35 L566.5,292.25 L567.0,292.20 L567.5,292.24 L568.0,292.37 L568.5,292.22 L569.0,292.34 L569.5,292.39 L570.0,292.25 L570.5,292.30 L571.0,292.32 L571.5,292.35 L572.0,292.32 L572.5,292.21 L573.0,292.19 L573.5,292.07 L574.0,292.04 L574.5,291.97 L575.0,291.79 L575.5,291.66 L576.0,291.55 L576.5,291.43 L577.0,291.31 L577.5,291.21 L578.0,290.90 L578.5,290.67 L579.0,290.35 L579.5,290.00 L580.0,289.64 L580.5,289.56 L581.0,289.45 L581.5,289.32 L582.0,289.03 L582.5,288.86 L583.0,288.79 L583.5,288.88 L584.0,289.09 L584.5,289.21 L585.0,289.53 L585.5,289.93 L586.0,290.34 L586.5,290.52 L587.0,290.66 L587.5,291.05 L588.0,291.25 L588.5,291.40 L589.0,291.49 L589.5,291.60 L590.0,291.70 L590.5,291.77 L591.0,291.82 L591.5,291.94 L592.0,292.12 L592.5,292.10 L593.0,292.11 L593.5,292.15 L594.0,292.28 L594.5,292.34 L595.0,292.46 L595.5,292.29 L596.0,292.37 L596.5,292.27 L597.0,292.28 L597.5,292.27 L598.0,292.28 L598.5,292.21 L599.0,292.09 L599.5,291.98 L600.0,292.18 L600.5,292.30 L601.0,292.25 L601.5,292.11 L602.0,292.22 L602.5,292.20 L603.0,292.16 L603.5,292.17 L604.0,292.01 L604.5,291.90 L605.0,291.97 L605.5,291.96 L606.0,291.98 L606.5,291.77 L607.0,291.72 L607.5,291.58 L608.0,291.27 L608.5,291.08 L609.0,290.62 L609.5,290.16 L610.0,289.96 L610.5,289.52 L611.0,289.24 L611.5,289.05 L612.0,288.87 L612.5,288.60 L613.0,288.62 L613.5,288.47 L614.0,288.61 L614.5,288.92 L615.0,289.14 L615.5,289.34 L616.0,289.80 L616.5,290.14 L617.0,290.49 L617.5,290.85 L618.0,291.17 L618.5,291.35 L619.0,291.58 L619.5,291.68 L620.0,291.70 L620.5,291.74 L621.0,291.77 L621.5,291.73 L622.0,291.88 L622.5,291.92 L623.0,292.10 L623.5,291.97 L624.0,292.09 L624.5,292.00 L625.0,291.96 L625.5,291.92 L626.0,292.07 L626.5,292.07 L627.0,291.99 L627.5,291.82 L628.0,291.62 L628.5,291.53 L629.0,291.60 L629.5,291.42 L630.0,291.31 L630.5,291.21 L631.0,290.83 L631.5,290.56 L632.0,290.34 L632.5,290.07 L633.0,289.88 L633.5,289.81 L634.0,289.59 L634.5,289.62 L635.0,289.57 L635.5,289.70 L636.0,289.72 L636.5,290.00 L637.0,290.16 L637.5,290.48 L638.0,290.81 L638.5,291.00 L639.0,291.01 L639.5,291.18 L640.0,291.51 L640.5,291.68 L641.0,291.86 L641.5,291.91 L642.0,292.10 L642.5,292.23 L643.0,292.24 L643.5,292.25 L644.0,292.11 L644.5,291.98 L645.0,291.96 L645.5,292.09 L646.0,292.23 L646.5,292.30 L647.0,292.38 L647.5,292.19 L648.0,292.05 L648.5,292.02 L649.0,291.93 L649.5,292.04 L650.0,292.22 L650.5,292.34 L651.0,292.18 L651.5,292.24 L652.0,292.28 L652.5,292.31 L653.0,292.25 L653.5,292.16 L654.0,292.29 L654.5,292.39 L655.0,292.40 L655.5,292.36 L656.0,292.18 L656.5,292.12 L657.0,292.07 L657.5,292.04 L658.0,292.00 L658.5,292.12 L659.0,292.20 L659.5,292.11 L660.0,292.26 L660.5,292.10 L661.0,292.27 L661.5,292.28 L662.0,292.30 L662.5,292.21 L663.0,292.27 L663.5,292.36 L664.0,292.23 L664.5,292.11 L665.0,292.23 L665.5,292.15 L666.0,292.05 L666.5,292.09 L667.0,292.03 L667.5,292.00 L668.0,291.99 L668.5,291.93 L669.0,292.11 L669.5,292.16 L670.0,292.22 L670.5,292.15 L671.0,292.25 L671.5,292.37 L672.0,292.47 L672.5,292.25 L673.0,292.18 L673.5,292.06 L674.0,292.09 L674.5,292.17 L675.0,292.21 L675.5,292.16 L676.0,292.31 L676.5,292.31 L677.0,292.42 L677.5,292.33 L678.0,292.33 L678.5,292.17 L679.0,292.18 L679.5,292.23 L680.0,292.14 L680.5,292.19 L681.0,292.08 L681.5,292.10 L682.0,292.15" stroke="#00ff00" /><path d="M38.0,395.28 L38.5,395.32 L39.0,395.29 L39.5,395.34 L40.0,395.38 L40.5,395.25 L41.0,395.13 L41.5,395.30 L42.0,395.24 L42.5,395.20 L43.0,395.39 L43.5,395.37 L44.0,395.47 L44.5,395.43 L45.0,395.44 L45.5,395.31 L46.0,395.36 L46.5,395.47 L47.0,395.44 L47.5,395.48 L48.0,395.49 L48.5,395.32 L49.0,395.40 L49.5,395.41 L50.0,395.33 L50.5,395.19 L51.0,395.35 L51.5,395.34 L52.0,395.40 L52.5,395.50 L53.0,395.51 L53.5,395.59 L54.0,395.48 L54.5,395.53 L55.0,395.45 L55.5,395.55 L56.0,395.59 L56.5,395.39 L57.0,395.26 L57.5,395.20 L58.0,395.38 L58.5,395.34 L59.0,395.37 L59.5,395.30 L60.0,395.31 L60.5,395.28 L61.0,395.24 L61.5,395.29 L62.0,395.32 L62.5,395.44 L63.0,395.46 L63.5,395.54 L64.0,395.58 L64.5,395.64 L65.0,395.59 L65.5,395.40 L66.0,395.48 L66.5,395.56 L67.0,395.60 L67.5,395.53 L68.0,395.52 L68.5,395.37 L69.0,395.44 L69.5,395.41 L70.0,395.31 L70.5,395.17 L71.0,395.31 L71.5,395.44 L72.0,395.27 L72.5,395.36 L73.0,395.30 L73.5,395.18 L74.0,395.14 L74.5,395.25 L75.0,395.36 L75.5,395.19 L76.0,395.24 L76.5,395.10 L77.0,395.20 L77.5,395.16 L78.0,395.29 L78.5,395.41 L79.0,395.35 L79.5,395.45 L80.0,395.32 L80.5,395.15 L81.0,395.19 L81.5,395.04 L82.0,394.99 L82.5,395.01 L83.0,395.08 L83.5,394.99 L84.0,394.89 L84.5,395.07 L85.0,395.02 L85.5,395.17 L86.0,395.26 L86.5,395.16 L87.0,395.11 L87.5,395.09 L88.0,395.10 L88.5,395.09 L89.0,395.06 L89.5,395.06 L90.0,395.14 L90.5,395.05 L91.0,394.96 L91.5,394.97 L92.0,394.82 L92.5,394.72 L93.0,394.83 L93.5,394.76 L94.0,394.69 L94.5,394.45 L95.0,394.38 L95.5,394.35 L96.0,394.11 L96.5,394.08 L97.0,394.00 L97.5,393.69 L98.0,393.53 L98.5,393.19 L99.0,392.73 L99.5,391.82 L100.0,390.52 L100.5,388.39 L101.0,384.89 L101.5,379.97 L102.0,373.57 L102.5,365.55 L103.0,356.00 L103.5,346.11 L104.0,337.15 L104.5,330.63 L105.0,328.23 L105.5,330.57 L106.0,337.01 L106.5,346.06 L107.0,355.90 L107.5,365.34 L108.0,373.63 L108.5,379.98 L109.0,384.85 L109.5,388.26 L110.0,390.38 L110.5,391.68 L111.0,392.65 L111.5,393.10 L112.0,393.37 L112.5,393.63 L113.0,393.90 L113.5,393.92 L114.0,394.02 L114.5,394.10 L115.0,394.32 L115.5,394.37 L116.0,394.53 L116.5,394.45 L117.0,394.43 L117.5,394.51 L118.0,394.61 L118.5,394.51 L119.0,394.29 L119.5,393.99 L120.0,393.73 L120.5,393.25 L121.0,392.90 L121.5,392.48 L122.0,391.91 L122.5,391.57 L123.0,391.67 L123.5,391.89 L124.0,392.26 L124.5,392.44 L125.0,392.43 L125.5,392.32 L126.0,392.21 L126.5,391.83 L127.0,391.52 L127.5,391.43 L128.0,391.59 L128.5,391.95 L129.0,392.56 L129.5,392.89 L130.0,393.11 L130.5,393.49 L131.0,393.58 L131.5,393.39 L132.0,392.65 L132.5,391.64 L133.0,390.06 L133.5,387.66 L134.0,384.93 L134.5,381.89 L135.0,378.81 L135.5,376.25 L136.0,374.77 L136.5,374.86 L137.0,376.43 L137.5,378.99 L138.0,382.18 L138.5,385.21 L139.0,388.01 L139.5,390.00 L140.0,391.72 L140.5,392.83 L141.0,393.61 L141.5,394.08 L142.0,394.37 L142.5,394.44 L143.0,394.31 L143.5,394.42 L144.0,394.32 L144.5,394.28 L145.0,394.35 L145.5,394.35 L146.0,394.30 L146.5,394.41 L147.0,394.36 L147.5,394.23 L148.0,394.07 L148.5,394.12 L149.0,393.99 L149.5,393.94 L150.0,393.70 L150.5,393.39 L151.0,393.13 L151.5,392.79 L152.0,391.96 L152.5,390.89 L153.0,389.10 L153.5,386.17 L154.0,381.79 L154.5,375.48 L155.0,367.73 L155.5,358.77 L156.0,349.13 L156.5,340.61 L157.0,334.83 L157.5,333.38 L158.0,336.58 L158.5,343.51 L159.0,352.52 L159.5,361.64 L160.0,369.98 L160.5,376.82 L161.0,381.85 L161.5,385.10 L162.0,387.05 L162.5,387.45 L163.0,386.22 L163.5,383.70 L164.0,379.56 L164.5,373.79 L165.0,366.56 L165.5,358.45 L166.0,350.22 L166.5,343.14 L167.0,338.78 L167.5,338.42 L168.0,342.06 L168.5,348.89 L169.0,357.29 L169.5,365.74 L170.0,373.30 L170.5,379.58 L171.0,384.41 L171.5,387.89 L172.0,390.27 L172.5,391.67 L173.0,392.65 L173.5,393.22 L174.0,393.53 L174.5,393.73 L175.0,393.91 L175.5,394.11 L176.0,394.19 L176.5,394.35 L177.0,394.40 L177.5,394.39 L178.0,394.48 L178.5,394.60 L179.0,394.51 L179.5,394.56 L180.0,394.61 L180.5,394.79 L181.0,394.93 L181.5,394.88 L182.0,395.00 L182.5,395.06 L183.0,394.95 L183.5,394.93 L184.0,394.83 L184.5,394.96 L185.0,395.02 L185.5,395.12 L186.0,395.17 L186.5,395.18 L187.0,395.20 L187.5,395.17 L188.0,395.01 L188.5,395.05 L189.0,394.90 L189.5,394.84 L190.0,394.99 L190.5,394.87 L191.0,394.81 L191.5,394.77 L192.0,394.98 L192.5,394.91 L193.0,394.82 L193.5,395.00 L194.0,394.92 L194.5,395.07 L195.0,395.13 L195.5,395.22 L196.0,395.32 L196.5,395.28 L197.0,395.32 L197.5,395.11 L198.0,395.19 L198.5,395.17 L199.0,395.21 L199.5,395.06 L200.0,395.15 L200.5,395.26 L201.0,395.08 L201.5,395.04 L202.0,395.07 L202.5,395.18 L203.0,395.08 L203.5,394.98 L204.0,394.94 L204.5,395.02 L205.0,395.11 L205.5,395.07 L206.0,395.03 L206.5,395.01 L207.0,394.98 L207.5,394.98 L208.0,394.88 L208.5,394.93 L209.0,395.11 L209.5,395.06 L210.0,395.12 L210.5,394.99 L211.0,395.06 L211.5,395.12 L212.0,395.13 L212.5,395.09 L213.0,395.05 L213.5,395.07 L214.0,395.15 L214.5,394.98 L215.0,394.84 L215.5,394.94 L216.0,395.05 L216.5,395.00 L217.0,394.94 L217.5,394.97 L218.0,394.83 L218.5,394.75 L219.0,394.66 L219.5,394.71 L220.0,394.65 L220.5,394.57 L221.0,394.64 L221.5,394.76 L222.0,394.63 L222.5,394.65 L223.0,394.56 L223.5,394.61 L224.0,394.54 L224.5,394.37 L225.0,394.22 L225.5,394.02 L226.0,393.98 L226.5,393.89 L227.0,393.72 L227.5,393.61 L228.0,393.45 L228.5,393.40 L229.0,393.07 L229.5,392.95 L230.0,392.49 L230.5,391.89 L231.0,390.94 L231.5,389.66 L232.0,387.71 L232.5,384.79 L233.0,380.73 L233.5,375.43 L234.0,368.67 L234.5,360.31 L235.0,350.84 L235.5,340.68 L236.0,330.36 L236.5,321.03 L237.0,313.96 L237.5,310.41 L238.0,310.87 L238.5,315.36 L239.0,322.94 L239.5,332.30 L240.0,342.49 L240.5,352.58 L241.0,361.80 L241.5,369.91 L242.0,376.55 L242.5,381.71 L243.0,385.35 L243.5,388.14 L244.0,389.91 L244.5,391.14 L245.0,392.06 L245.5,392.49 L246.0,392.80 L246.5,393.24 L247.0,393.41 L247.5,393.57 L248.0,393.77 L248.5,393.97 L249.0,393.92 L249.5,394.01 L250.0,394.12 L250.5,394.23 L251.0,394.24 L251.5,394.37 L252.0,394.58 L252.5,394.58 L253.0,394.63 L253.5,394.54 L254.0,394.54 L254.5,394.67 L255.0,394.59 L255.5,394.78 L256.0,394.93 L256.5,394.79 L257.0,394.96 L257.5,394.91 L258.0,394.99 L258.5,395.06 L259.0,394.97 L259.5,395.02 L260.0,395.05 L260.5,395.13 L261.0,395.02 L261.5,395.09 L262.0,395.21 L262.5,395.21 L263.0,395.17 L263.5,395.02 L264.0,395.02 L264.5,394.99 L265.0,395.08 L265.5,395.13 L266.0,395.13 L266.5,395.02 L267.0,395.08 L267.5,395.12 L268.0,395.02 L268.5,395.16 L269.0,395.18 L269.5,395.04 L270.0,395.19 L270.5,395.05 L271.0,395.02 L271.5,395.11 L272.0,395.13 L272.5,395.14 L273.0,395.17 L273.5,395.13 L274.0,395.06 L274.5,394.97 L275.0,394.88 L275.5,395.00 L276.0,395.10 L276.5,395.10 L277.0,395.16 L277.5,395.08 L278.0,394.99 L278.5,394.96 L279.0,395.08 L279.5,394.91 L280.0,394.92 L280.5,394.84 L281.0,394.93 L281.5,394.86 L282.0,394.78 L282.5,394.72 L283.0,394.67 L283.5,394.63 L284.0,394.35 L284.5,394.08 L285.0,393.34 L285.5,392.37 L286.0,390.95 L286.5,389.11 L287.0,387.08 L287.5,384.72 L288.0,382.20 L288.5,380.14 L289.0,379.08 L289.5,379.32 L290.0,380.72 L290.5,382.89 L291.0,385.34 L291.5,387.62 L292.0,389.72 L292.5,391.33 L293.0,392.62 L293.5,393.52 L294.0,393.98 L294.5,394.28 L295.0,394.62 L295.5,394.61 L296.0,394.83 L296.5,395.01 L297.0,395.16 L297.5,395.09 L298.0,395.10 L298.5,395.13 L299.0,395.16 L299.5,395.29 L300.0,395.30 L300.5,395.19 L301.0,395.28 L301.5,395.24 L302.0,395.25 L302.5,395.29 L303.0,395.11 L303.5,395.21 L304.0,395.25 L304.5,395.23 L305.0,395.22 L305.5,395.20 L306.0,395.11 L306.5,395.15 L307.0,395.02 L307.5,395.08 L308.0,395.16 L308.5,395.16 L309.0,395.20 L309.5,395.34 L310.0,395.42 L310.5,395.25 L311.0,395.33 L311.5,395.34 L312.0,395.17 L312.5,395.14 L313.0,395.09 L313.5,395.00 L314.0,395.08 L314.5,395.26 L315.0,395.20 L315.5,395.32 L316.0,395.35 L316.5,395.21 L317.0,395.32 L317.5,395.33 L318.0,395.43 L318.5,395.44 L319.0,395.45 L319.5,395.34 L320.0,395.40 L320.5,395.48 L321.0,395.52 L321.5,395.42 L322.0,395.44 L322.5,395.38 L323.0,395.22 L323.5,395.09 L324.0,395.01 L324.5,394.99 L325.0,394.97 L325.5,395.05 L326.0,395.17 L326.5,395.20 L327.0,395.19 L327.5,395.25 L328.0,395.19 L328.5,395.20 L329.0,395.29 L329.5,395.25 L330.0,395.15 L330.5,395.30 L331.0,395.35 L331.5,395.28 L332.0,395.23 L332.5,395.24 L333.0,395.27 L333.5,395.18 L334.0,395.05 L334.5,395.02 L335.0,395.18 L335.5,395.09 L336.0,395.12 L336.5,395.07 L337.0,395.04 L337.5,395.00 L338.0,395.04 L338.5,395.00 L339.0,394.94 L339.5,394.91 L340.0,394.91 L340.5,395.01 L341.0,394.95 L341.5,394.89 L342.0,394.98 L342.5,395.03 L343.0,395.16 L343.5,395.05 L344.0,395.08 L344.5,395.09 L345.0,395.00 L345.5,395.21 L346.0,395.13 L346.5,395.04 L347.0,395.09 L347.5,395.04 L348.0,395.13 L348.5,395.12 L349.0,395.04 L349.5,394.96 L350.0,395.11 L350.5,395.08 L351.0,395.21 L351.5,395.21 L352.0,395.35 L352.5,395.25 L353.0,395.17 L353.5,395.12 L354.0,395.24 L354.5,395.28 L355.0,395.22 L355.5,395.10 L356.0,395.19 L356.5,395.34 L357.0,395.33 L357.5,395.15 L358.0,395.03 L358.5,394.96 L359.0,394.94 L359.5,394.88 L360.0,394.85 L360.5,395.00 L361.0,395.18 L361.5,395.10 L362.0,395.27 L362.5,395.25 L363.0,395.32 L363.5,395.41 L364.0,395.48 L364.5,395.25 L365.0,395.18 L365.5,395.21 L366.0,395.34 L366.5,395.17 L367.0,395.11 L367.5,395.24 L368.0,395.10 L368.5,395.09 L369.0,395.06 L369.5,395.15 L370.0,395.28 L370.5,395.14 L371.0,395.22 L371.5,395.27 L372.0,395.33 L372.5,395.29 L373.0,395.37 L373.5,395.25 L374.0,395.18 L374.5,395.08 L375.0,395.17 L375.5,395.14 L376.0,395.05 L376.5,394.96 L377.0,395.05 L377.5,395.08 L378.0,395.13 L378.5,395.06 L379.0,395.04 L379.5,394.92 L380.0,395.00 L380.5,394.84 L381.0,394.86 L381.5,394.95 L382.0,394.98 L382.5,394.81 L383.0,394.73 L383.5,394.84 L384.0,394.85 L384.5,394.91 L385.0,394.93 L385.5,394.79 L386.0,394.81 L386.5,394.74 L387.0,394.54 L387.5,394.35 L388.0,394.06 L388.5,393.84 L389.0,393.68 L389.5,393.02 L390.0,392.24 L390.5,390.85 L391.0,388.85 L391.5,386.22 L392.0,382.49 L392.5,377.77 L393.0,372.33 L393.5,366.69 L394.0,361.27 L394.5,356.79 L395.0,354.44 L395.5,354.91 L396.0,357.63 L396.5,362.33 L397.0,367.93 L397.5,373.77 L398.0,379.06 L398.5,383.57 L399.0,387.03 L399.5,389.47 L400.0,391.15 L400.5,392.23 L401.0,393.14 L401.5,393.51 L402.0,393.71 L402.5,394.12 L403.0,394.18 L403.5,394.44 L404.0,394.38 L404.5,394.46 L405.0,394.46 L405.5,394.64 L406.0,394.70 L406.5,394.75 L407.0,394.81 L407.5,394.87 L408.0,394.73 L408.5,394.67 L409.0,394.53 L409.5,394.27 L410.0,394.23 L410.5,394.04 L411.0,393.89 L411.5,393.52 L412.0,393.28 L412.5,393.05 L413.0,392.95 L413.5,392.70 L414.0,392.68 L414.5,392.80 L415.0,392.86 L415.5,393.16 L416.0,393.52 L416.5,393.77 L417.0,394.07 L417.5,394.32 L418.0,394.42 L418.5,394.54 L419.0,394.84 L419.5,394.86 L420.0,394.90 L420.5,394.83 L421.0,394.82 L421.5,394.80 L422.0,395.01 L422.5,395.10 L423.0,395.21 L423.5,395.32 L424.0,395.28 L424.5,395.36 L425.0,395.29 L425.5,395.21 L426.0,395.31 L426.5,395.37 L427.0,395.42 L427.5,395.32 L428.0,395.34 L428.5,395.24 L429.0,395.35 L429.5,395.40 L430.0,395.25 L430.5,395.33 L431.0,395.17 L431.5,395.03 L432.0,395.11 L432.5,395.05 L433.0,395.07 L433.5,395.11 L434.0,394.97 L434.5,395.08 L435.0,395.01 L435.5,395.01 L436.0,394.98 L436.5,395.08 L437.0,395.15 L437.5,395.06 L438.0,394.94 L438.5,394.91 L439.0,394.93 L439.5,394.83 L440.0,394.79 L440.5,394.94 L441.0,395.03 L441.5,395.16 L442.0,395.26 L442.5,395.29 L443.0,395.16 L443.5,395.01 L444.0,394.94 L444.5,394.93 L445.0,394.94 L445.5,394.95 L446.0,394.90 L446.5,395.01 L447.0,394.91 L447.5,394.88 L448.0,394.99 L448.5,395.03 L449.0,394.91 L449.5,394.79 L450.0,394.87 L450.5,394.68 L451.0,394.58 L451.5,394.61 L452.0,394.63 L452.5,394.51 L453.0,394.39 L453.5,394.33 L454.0,394.44 L454.5,394.41 L455.0,394.52 L455.5,394.51 L456.0,394.54 L456.5,394.24 L457.0,394.04 L457.5,393.80 L458.0,393.70 L458.5,393.52 L459.0,393.19 L459.5,392.94 L460.0,392.39 L460.5,391.72 L461.0,390.72 L461.5,389.47 L462.0,387.50 L462.5,384.79 L463.0,381.22 L463.5,376.91 L464.0,371.76 L464.5,365.84 L465.0,359.44 L465.5,352.84 L466.0,346.46 L466.5,341.12 L467.0,337.72 L467.5,336.56 L468.0,337.77 L468.5,341.35 L469.0,346.53 L469.5,352.68 L470.0,359.23 L470.5,365.64 L471.0,371.74 L471.5,377.13 L472.0,381.59 L472.5,385.01 L473.0,387.68 L473.5,389.74 L474.0,391.18 L474.5,392.13 L475.0,392.73 L475.5,393.18 L476.0,393.38 L476.5,393.54 L477.0,393.81 L477.5,394.11 L478.0,394.20 L478.5,394.24 L479.0,394.26 L479.5,394.33 L480.0,394.49 L480.5,394.51 L481.0,394.69 L481.5,394.58 L482.0,394.56 L482.5,394.62 L483.0,394.63 L483.5,394.78 L484.0,394.89 L484.5,395.00 L485.0,394.98 L485.5,394.80 L486.0,394.85 L486.5,394.87 L487.0,394.88 L487.5,394.82 L488.0,394.91 L488.5,395.04 L489.0,394.89 L489.5,394.96 L490.0,394.92 L490.5,394.94 L491.0,395.07 L491.5,395.18 L492.0,395.16 L492.5,395.02 L493.0,395.13 L493.5,395.00 L494.0,394.96 L494.5,395.07 L495.0,394.99 L495.5,394.92 L496.0,395.08 L496.5,395.19 L497.0,395.08 L497.5,395.02 L498.0,394.94 L498.5,394.84 L499.0,394.81 L499.5,395.00 L500.0,394.86 L500.5,394.81 L501.0,394.76 L501.5,394.68 L502.0,394.75 L502.5,394.85 L503.0,394.93 L503.5,394.90 L504.0,394.88 L504.5,394.55 L505.0,394.30 L505.5,394.17 L506.0,393.62 L506.5,393.04 L507.0,392.43 L507.5,391.65 L508.0,390.93 L508.5,390.10 L509.0,389.51 L509.5,389.41 L510.0,389.34 L510.5,389.85 L511.0,390.34 L511.5,391.24 L512.0,392.02 L512.5,392.74 L513.0,393.20 L513.5,393.57 L514.0,394.06 L514.5,394.22 L515.0,394.34 L515.5,394.59 L516.0,394.77 L516.5,394.64 L517.0,394.81 L517.5,394.79 L518.0,394.72 L518.5,394.57 L519.0,394.54 L519.5,394.67 L520.0,394.52 L520.5,394.33 L521.0,394.12 L521.5,393.85 L522.0,393.54 L522.5,393.21 L523.0,392.30 L523.5,391.13 L524.0,389.77 L524.5,387.93 L525.0,385.63 L525.5,382.78 L526.0,379.93 L526.5,377.53 L527.0,375.60 L527.5,374.78 L528.0,375.05 L528.5,376.39 L529.0,378.69 L529.5,381.50 L530.0,384.34 L530.5,386.87 L531.0,388.99 L531.5,390.70 L532.0,391.93 L532.5,392.83 L533.0,393.52 L533.5,393.76 L534.0,394.00 L534.5,394.21 L535.0,394.26 L535.5,393.99 L536.0,393.88 L536.5,393.53 L537.0,392.75 L537.5,391.81 L538.0,390.59 L538.5,389.08 L539.0,387.68 L539.5,385.97 L540.0,384.51 L540.5,383.14 L541.0,382.35 L541.5,382.61 L542.0,383.51 L542.5,384.99 L543.0,386.62 L543.5,388.28 L544.0,389.92 L544.5,391.13 L545.0,392.26 L545.5,393.09 L546.0,393.59 L546.5,394.07 L547.0,394.31 L547.5,394.51 L548.0,394.61 L548.5,394.66 L549.0,394.70 L549.5,394.81 L550.0,395.00 L550.5,395.13 L551.0,395.20 L551.5,395.24 L552.0,395.11 L552.5,395.23 L553.0,395.11 L553.5,394.98 L554.0,395.00 L554.5,395.09 L555.0,395.04 L555.5,395.09 L556.0,395.03 L556.5,395.18 L557.0,395.14 L557.5,395.12 L558.0,395.13 L558.5,395.23 L559.0,395.34 L559.5,395.28 L560.0,395.21 L560.5,395.22 L561.0,395.06 L561.5,395.06 L562.0,395.18 L562.5,395.25 L563.0,395.08 L563.5,395.20 L564.0,395.15 L564.5,395.29 L565.0,395.20 L565.5,395.10 L566.0,395.12 L566.5,395.24 L567.0,395.19 L567.5,395.29 L568.0,395.31 L568.5,395.22 L569.0,395.13 L569.5,395.14 L570.0,395.11 L570.5,395.08 L571.0,395.15 L571.5,395.26 L572.0,395.25 L572.5,395.11 L573.0,395.04 L573.5,395.03 L574.0,395.10 L574.5,395.00 L575.0,394.92 L575.5,394.93 L576.0,394.93 L576.5,394.85 L577.0,394.95 L577.5,395.14 L578.0,395.15 L578.5,395.22 L579.0,395.29 L579.5,395.35 L580.0,395.41 L580.5,395.31 L581.0,395.31 L581.5,395.14 L582.0,395.25 L582.5,395.18 L583.0,395.16 L583.5,395.27 L584.0,395.16 L584.5,395.06 L585.0,395.17 L585.5,395.19 L586.0,395.04 L586.5,394.92 L587.0,394.93 L587.5,394.84 L588.0,395.02 L588.5,394.95 L589.0,394.92 L589.5,394.94 L590.0,394.99 L590.5,395.00 L591.0,395.06 L591.5,395.11 L592.0,395.08 L592.5,394.95 L593.0,395.13 L593.5,395.16 L594.0,395.00 L594.5,394.99 L595.0,395.08 L595.5,395.21 L596.0,395.01 L596.5,394.86 L597.0,394.89 L597.5,394.89 L598.0,395.02 L598.5,395.09 L599.0,394.99 L599.5,394.93 L600.0,394.93 L600.5,395.02 L601.0,394.86 L601.5,394.79 L602.0,394.63 L602.5,394.66 L603.0,394.47 L603.5,394.56 L604.0,394.43 L604.5,394.26 L605.0,393.88 L605.5,393.50 L606.0,393.09 L606.5,392.66 L607.0,391.93 L607.5,390.97 L608.0,390.07 L608.5,388.87 L609.0,387.49 L609.5,385.93 L610.0,384.41 L610.5,383.16 L611.0,381.79 L611.5,380.85 L612.0,380.31 L612.5,380.12 L613.0,380.54 L613.5,381.39 L614.0,382.54 L614.5,383.85 L615.0,385.13 L615.5,386.44 L616.0,387.85 L616.5,389.11 L617.0,390.21 L617.5,391.36 L618.0,392.10 L618.5,392.88 L619.0,393.52 L619.5,393.76 L620.0,394.18 L620.5,394.33 L621.0,394.38 L621.5,394.42 L622.0,394.40 L622.5,394.52 L623.0,394.58 L623.5,394.76 L624.0,394.88 L624.5,394.73 L625.0,394.73 L625.5,394.71 L626.0,394.63 L626.5,394.57 L627.0,394.50 L627.5,394.54 L628.0,394.40 L628.5,394.16 L629.0,393.93 L629.5,393.74 L630.0,393.52 L630.5,393.16 L631.0,392.94 L631.5,392.56 L632.0,392.37 L632.5,392.23 L633.0,392.04 L633.5,392.19 L634.0,392.31 L634.5,392.57 L635.0,392.90 L635.5,393.26 L636.0,393.56 L636.5,393.72 L637.0,394.11 L637.5,394.44 L638.0,394.59 L638.5,394.72 L639.0,394.73 L639.5,394.93 L640.0,395.01 L640.5,394.92 L641.0,395.03 L641.5,395.16 L642.0,395.06 L642.5,395.18 L643.0,395.10 L643.5,394.96 L644.0,395.02 L644.5,394.95 L645.0,395.01 L645.5,395.00 L646.0,394.85 L646.5,394.86 L647.0,394.96 L647.5,394.91 L648.0,394.88 L648.5,394.93 L649.0,394.82 L649.5,394.71 L650.0,394.62 L650.5,394.55 L651.0,394.22 L651.5,393.83 L652.0,393.59 L652.5,393.16 L653.0,392.53 L653.5,391.98 L654.0,391.27 L654.5,390.33 L655.0,389.44 L655.5,388.43 L656.0,387.40 L656.5,386.30 L657.0,385.30 L657.5,384.79 L658.0,384.56 L658.5,384.53 L659.0,384.88 L659.5,385.54 L660.0,386.30 L660.5,387.36 L661.0,388.41 L661.5,389.40 L662.0,390.27 L662.5,391.21 L663.0,391.96 L663.5,392.71 L664.0,393.16 L664.5,393.59 L665.0,393.86 L665.5,394.14 L666.0,394.39 L666.5,394.44 L667.0,394.45 L667.5,394.60 L668.0,394.62 L668.5,394.73 L669.0,394.70 L669.5,394.67 L670.0,394.78 L670.5,394.98 L671.0,395.10 L671.5,395.09 L672.0,395.04 L672.5,394.92 L673.0,394.89 L673.5,394.89 L674.0,395.08 L674.5,394.96 L675.0,395.13 L675.5,395.11 L676.0,395.09 L676.5,395.02 L677.0,395.18 L677.5,395.06 L678.0,395.10 L678.5,395.11 L679.0,395.02 L679.5,394.96 L680.0,395.16 L680.5,395.23 L681.0,395.27 L681.5,395.35 L682.0,395.16" stroke="#ff0000" /><path d="M38.0,442.09 L38.5,441.99 L39.0,442.01 L39.5,441.96 L40.0,441.89 L40.5,441.94 L41.0,442.13 L41.5,442.23 L42.0,442.29 L42.5,442.17 L43.0,442.18 L43.5,442.10 L44.0,442.02 L44.5,441.94 L45.0,441.92 L45.5,442.12 L46.0,442.23 L46.5,442.30 L47.0,442.34 L47.5,442.19 L48.0,442.12 L48.5,442.17 L49.0,442.23 L49.5,442.31 L50.0,442.38 L50.5,442.18 L51.0,442.20 L51.5,442.23 L52.0,442.21 L52.5,442.09 L53.0,442.09 L53.5,441.98 L54.0,442.16 L54.5,442.26 L55.0,442.23 L55.5,442.14 L56.0,442.25 L56.5,442.23 L57.0,442.31 L57.5,442.35 L58.0,442.28 L58.5,442.20 L59.0,442.20 L59.5,442.14 L60.0,442.02 L60.5,441.98 L61.0,442.10 L61.5,441.95 L62.0,441.84 L62.5,441.94 L63.0,441.90 L63.5,441.95 L64.0,441.95 L64.5,441.91 L65.0,442.08 L65.5,441.94 L66.0,441.89 L66.5,441.78 L67.0,441.81 L67.5,441.68 L68.0,441.57 L68.5,441.55 L69.0,441.32 L69.5,441.13 L70.0,440.97 L70.5,440.47 L71.0,439.92 L71.5,439.40 L72.0,438.99 L72.5,438.45 L73.0,437.77 L73.5,437.16 L74.0,436.57 L74.5,436.18 L75.0,435.81 L75.5,435.84 L76.0,436.08 L76.5,436.48 L77.0,436.92 L77.5,437.52 L78.0,437.88 L78.5,438.41 L79.0,439.14 L79.5,439.73 L80.0,440.15 L80.5,440.67 L81.0,441.00 L81.5,441.33 L82.0,441.42 L82.5,441.47 L83.0,441.59 L83.5,441.59 L84.0,441.66 L84.5,441.89 L85.0,441.85 L85.5,441.74 L86.0,441.66 L86.5,441.65 L87.0,441.82 L87.5,441.82 L88.0,441.79 L88.5,441.72 L89.0,441.92 L89.5,441.90 L90.0,441.82 L90.5,441.71 L91.0,441.63 L91.5,441.60 L92.0,441.73 L92.5,441.65 L93.0,441.54 L93.5,441.57 L94.0,441.48 L94.5,441.56 L95.0,441.24 L95.5,440.97 L96.0,440.64 L96.5,440.07 L97.0,439.63 L97.5,439.02 L98.0,438.50 L98.5,438.30 L99.0,438.26 L99.5,438.53 L100.0,438.75 L100.5,439.03 L101.0,438.99 L101.5,438.49 L102.0,437.53 L102.5,436.39 L103.0,435.07 L103.5,433.69 L104.0,432.47 L104.5,431.80 L105.0,431.39 L105.5,431.60 L106.0,432.63 L106.5,433.86 L107.0,435.35 L107.5,436.61 L108.0,437.88 L108.5,438.83 L109.0,439.57 L109.5,440.02 L110.0,440.17 L110.5,440.02 L111.0,439.79 L111.5,439.63 L112.0,439.31 L112.5,438.85 L113.0,438.09 L113.5,437.37 L114.0,436.62 L114.5,435.76 L115.0,434.94 L115.5,434.05 L116.0,433.28 L116.5,432.64 L117.0,432.05 L117.5,431.90 L118.0,431.97 L118.5,431.99 L119.0,432.57 L119.5,433.28 L120.0,434.01 L120.5,434.64 L121.0,435.63 L121.5,436.34 L122.0,437.32 L122.5,438.10 L123.0,438.62 L123.5,439.14 L124.0,439.73 L124.5,440.20 L125.0,440.62 L125.5,441.01 L126.0,441.08 L126.5,441.08 L127.0,441.36 L127.5,441.28 L128.0,441.48 L128.5,441.37 L129.0,441.47 L129.5,441.49 L130.0,441.46 L130.5,441.23 L131.0,441.03 L131.5,440.50 L132.0,440.03 L132.5,439.33 L133.0,438.70 L133.5,437.93 L134.0,437.04 L134.5,436.24 L135.0,435.46 L135.5,434.98 L136.0,435.04 L136.5,435.37 L137.0,436.07 L137.5,436.84 L138.0,437.55 L138.5,438.35 L139.0,439.21 L139.5,439.87 L140.0,440.24 L140.5,440.79 L141.0,441.19 L141.5,441.24 L142.0,441.41 L142.5,441.47 L143.0,441.62 L143.5,441.58 L144.0,441.52 L144.5,441.55 L145.0,441.70 L145.5,441.54 L146.0,441.42 L146.5,441.48 L147.0,441.59 L147.5,441.53 L148.0,441.45 L148.5,441.49 L149.0,441.45 L149.5,441.16 L150.0,441.12 L150.5,440.76 L151.0,440.37 L151.5,440.00 L152.0,439.25 L152.5,438.36 L153.0,436.90 L153.5,435.28 L154.0,432.97 L154.5,430.25 L155.0,427.28 L155.5,423.98 L156.0,420.69 L156.5,417.70 L157.0,415.12 L157.5,413.18 L158.0,412.53 L158.5,413.20 L159.0,414.97 L159.5,417.67 L160.0,420.79 L160.5,424.00 L161.0,427.23 L161.5,430.40 L162.0,432.99 L162.5,435.27 L163.0,437.15 L163.5,438.46 L164.0,439.46 L164.5,440.15 L165.0,440.54 L165.5,441.00 L166.0,441.18 L166.5,441.44 L167.0,441.45 L167.5,441.62 L168.0,441.73 L168.5,441.76 L169.0,441.74 L169.5,441.65 L170.0,441.77 L170.5,441.75 L171.0,441.83 L171.5,441.73 L172.0,441.65 L172.5,441.61 L173.0,441.79 L173.5,441.74 L174.0,441.91 L174.5,441.88 L175.0,441.92 L175.5,441.89 L176.0,441.94 L176.5,441.82 L177.0,441.83 L177.5,442.00 L178.0,441.88 L178.5,441.93 L179.0,441.87 L179.5,441.80 L180.0,441.66 L180.5,441.54 L181.0,441.72 L181.5,441.78 L182.0,441.80 L182.5,441.78 L183.0,441.78 L183.5,441.52 L184.0,441.44 L184.5,441.34 L185.0,441.28 L185.5,441.33 L186.0,441.32 L186.5,441.38 L187.0,441.19 L187.5,441.24 L188.0,441.31 L188.5,441.41 L189.0,441.47 L189.5,441.61 L190.0,441.58 L190.5,441.77 L191.0,441.77 L191.5,441.84 L192.0,442.00 L192.5,442.06 L193.0,442.00 L193.5,441.94 L194.0,441.93 L194.5,442.01 L195.0,442.19 L195.5,442.28 L196.0,442.20 L196.5,442.15 L197.0,442.23 L197.5,442.13 L198.0,442.10 L198.5,441.96 L199.0,441.92 L199.5,441.99 L200.0,442.09 L200.5,442.14 L201.0,442.10 L201.5,442.24 L202.0,442.25 L202.5,442.11 L203.0,441.99 L203.5,442.18 L204.0,442.31 L204.5,442.39 L205.0,442.35 L205.5,442.23 L206.0,442.08 L206.5,442.03 L207.0,441.98 L207.5,442.16 L208.0,442.28 L208.5,442.32 L209.0,442.17 L209.5,442.08 L210.0,442.04 L210.5,442.21 L211.0,442.09 L211.5,442.20 L212.0,442.24 L212.5,442.23 L213.0,442.35 L213.5,442.22 L214.0,442.21 L214.5,442.09 L215.0,441.99 L215.5,441.90 L216.0,441.92 L216.5,441.88 L217.0,441.83 L217.5,442.08 L218.0,442.04 L218.5,442.19 L219.0,442.25 L219.5,442.29 L220.0,442.30 L220.5,442.39 L221.0,442.44 L221.5,442.42 L222.0,442.36 L222.5,442.36 L223.0,442.37 L223.5,442.32 L224.0,442.28 L224.5,442.14 L225.0,442.25 L225.5,442.22 L226.0,442.07 L226.5,442.00 L227.0,442.16 L227.5,442.09 L228.0,442.08 L228.5,442.16 L229.0,442.27 L229.5,442.19 L230.0,442.15 L230.5,442.13 L231.0,442.00 L231.5,442.16 L232.0,442.02 L232.5,442.20 L233.0,442.08 L233.5,442.01 L234.0,442.16 L234.5,442.26 L235.0,442.15 L235.5,442.17 L236.0,442.16 L236.5,442.22 L237.0,442.11 L237.5,442.22 L238.0,442.35 L238.5,442.36 L239.0,442.42 L239.5,442.47 L240.0,442.34 L240.5,442.39 L241.0,442.42 L241.5,442.36 L242.0,442.18 L242.5,442.21 L243.0,442.31 L243.5,442.20 L244.0,442.23 L244.5,442.32 L245.0,442.29 L245.5,442.10 L246.0,442.15 L246.5,442.06 L247.0,442.18 L247.5,442.21 L248.0,442.11 L248.5,442.22 L249.0,442.20 L249.5,442.09 L250.0,442.15 L250.5,442.18 L251.0,442.16 L251.5,442.10 L252.0,441.93 L252.5,441.75 L253.0,441.50 L253.5,441.20 L254.0,441.02 L254.5,440.60 L255.0,440.13 L255.5,439.92 L256.0,439.68 L256.5,439.55 L257.0,439.53 L257.5,439.52 L258.0,439.62 L258.5,439.78 L259.0,440.22 L259.5,440.67 L260.0,441.00 L260.5,441.12 L261.0,441.50 L261.5,441.76 L262.0,441.86 L262.5,441.79 L263.0,441.99 L263.5,442.07 L264.0,442.12 L264.5,441.98 L265.0,442.09 L265.5,441.96 L266.0,442.01 L266.5,441.94 L267.0,441.95 L267.5,442.12 L268.0,442.20 L268.5,442.28 L269.0,442.17 L269.5,442.13 L270.0,442.16 L270.5,442.02 L271.0,442.03 L271.5,442.20 L272.0,442.26 L272.5,442.33 L273.0,442.22 L273.5,442.25 L274.0,442.30 L274.5,442.32 L275.0,442.24 L275.5,442.11 L276.0,441.97 L276.5,442.14 L277.0,442.26 L277.5,442.16 L278.0,442.22 L278.5,442.16 L279.0,442.19 L279.5,442.26 L280.0,442.16 L280.5,442.18 L281.0,442.07 L281.5,442.07 L282.0,441.92 L282.5,441.88 L283.0,441.84 L283.5,441.97 L284.0,441.79 L284.5,441.79 L285.0,441.50 L285.5,441.45 L286.0,441.02 L286.5,440.53 L287.0,440.03 L287.5,439.72 L288.0,439.28 L288.5,438.97 L289.0,438.65 L289.5,438.44 L290.0,438.56 L290.5,438.91 L291.0,439.53 L291.5,439.90 L292.0,440.32 L292.5,440.89 L293.0,441.12 L293.5,441.57 L294.0,441.69 L294.5,441.86 L295.0,442.00 L295.5,442.16 L296.0,442.03 L296.5,442.16 L297.0,442.05 L297.5,442.14 L298.0,441.99 L298.5,442.11 L299.0,442.02 L299.5,441.97 L300.0,441.88 L300.5,441.91 L301.0,441.92 L301.5,442.14 L302.0,442.17 L302.5,442.12 L303.0,442.28 L303.5,442.14 L304.0,442.06 L304.5,442.22 L305.0,442.34 L305.5,442.34 L306.0,442.43 L306.5,442.21 L307.0,442.32 L307.5,442.33 L308.0,442.33 L308.5,442.38 L309.0,442.19 L309.5,442.09 L310.0,442.00 L310.5,442.04 L311.0,442.09 L311.5,442.12 L312.0,442.09 L312.5,442.18 L313.0,442.28 L313.5,442.32 L314.0,442.13 L314.5,442.03 L315.0,441.98 L315.5,441.95 L316.0,442.03 L316.5,441.98 L317.0,442.07 L317.5,442.04 L318.0,442.03 L318.5,442.13 L319.0,442.26 L319.5,442.13 L320.0,442.09 L320.5,442.25 L321.0,442.13 L321.5,441.98 L322.0,441.93 L322.5,442.09 L323.0,442.16 L323.5,442.28 L324.0,442.22 L324.5,442.04 L325.0,441.99 L325.5,442.07 L326.0,442.03 L326.5,441.91 L327.0,441.89 L327.5,441.88 L328.0,441.83 L328.5,441.81 L329.0,441.67 L329.5,441.52 L330.0,441.61 L330.5,441.62 L331.0,441.50 L331.5,441.29 L332.0,441.15 L332.5,441.09 L333.0,441.10 L333.5,440.94 L334.0,440.94 L334.5,440.76 L335.0,440.51 L335.5,440.43 L336.0,440.36 L336.5,440.30 L337.0,440.30 L337.5,440.11 L338.0,440.13 L338.5,440.28 L339.0,440.23 L339.5,440.21 L340.0,440.28 L340.5,440.41 L341.0,440.59 L341.5,440.73 L342.0,440.96 L342.5,441.01 L343.0,441.14 L343.5,441.36 L344.0,441.49 L344.5,441.73 L345.0,441.91 L345.5,441.85 L346.0,441.84 L346.5,441.91 L347.0,441.96 L347.5,441.95 L348.0,442.09 L348.5,442.00 L349.0,442.02 L349.5,441.93 L350.0,442.09 L350.5,442.13 L351.0,442.27 L351.5,442.11 L352.0,442.17 L352.5,442.18 L353.0,442.03 L353.5,442.15 L354.0,442.25 L354.5,442.08 L355.0,442.22 L355.5,442.27 L356.0,442.25 L356.5,442.21 L357.0,442.10 L357.5,441.96 L358.0,441.98 L358.5,442.11 L359.0,441.99 L359.5,441.98 L360.0,441.90 L360.5,441.94 L361.0,442.04 L361.5,442.06 L362.0,441.86 L362.5,441.73 L363.0,441.47 L363.5,441.42 L364.0,441.43 L364.5,441.40 L365.0,441.11 L365.5,440.99 L366.0,440.77 L366.5,440.71 L367.0,440.81 L367.5,440.71 L368.0,440.83 L368.5,440.98 L369.0,441.08 L369.5,441.01 L370.0,441.22 L370.5,441.41 L371.0,441.61 L371.5,441.48 L372.0,441.42 L372.5,441.48 L373.0,441.62 L373.5,441.70 L374.0,441.67 L374.5,441.82 L375.0,441.94 L375.5,442.02 L376.0,442.04 L376.5,442.06 L377.0,442.13 L377.5,441.98 L378.0,441.99 L378.5,441.91 L379.0,441.84 L379.5,441.99 L380.0,441.96 L380.5,441.94 L381.0,441.91 L381.5,441.98 L382.0,441.89 L382.5,441.98 L383.0,441.86 L383.5,442.05 L384.0,441.93 L384.5,442.03 L385.0,442.03 L385.5,441.99 L386.0,441.91 L386.5,441.86 L387.0,441.93 L387.5,441.88 L388.0,441.82 L388.5,441.63 L389.0,441.54 L389.5,441.23 L390.0,440.97 L390.5,440.66 L391.0,440.19 L391.5,439.63 L392.0,438.95 L392.5,438.07 L393.0,437.43 L393.5,436.67 L394.0,436.01 L394.5,435.58 L395.0,435.23 L395.5,435.16 L396.0,435.41 L396.5,435.91 L397.0,436.59 L397.5,437.36 L398.0,438.11 L398.5,438.91 L399.0,439.56 L399.5,440.13 L400.0,440.69 L400.5,441.01 L401.0,441.41 L401.5,441.68 L402.0,441.73 L402.5,441.91 L403.0,441.84 L403.5,441.77 L404.0,441.99 L404.5,441.85 L405.0,441.75 L405.5,441.94 L406.0,441.81 L406.5,441.92 L407.0,441.96 L407.5,441.90 L408.0,441.86 L408.5,442.04 L409.0,442.00 L409.5,441.93 L410.0,441.93 L410.5,442.02 L411.0,441.95 L411.5,441.83 L412.0,441.96 L412.5,441.83 L413.0,441.72 L413.5,441.61 L414.0,441.82 L414.5,441.77 L415.0,441.79 L415.5,441.70 L416.0,441.70 L416.5,441.44 L417.0,441.16 L417.5,440.95 L418.0,440.47 L418.5,440.11 L419.0,439.83 L419.5,439.43 L420.0,438.99 L420.5,438.71 L421.0,438.28 L421.5,438.04 L422.0,437.80 L422.5,437.62 L423.0,437.70 L423.5,437.86 L424.0,438.08 L424.5,438.47 L425.0,438.85 L425.5,439.34 L426.0,439.88 L426.5,440.36 L427.0,440.80 L427.5,440.99 L428.0,441.26 L428.5,441.54 L429.0,441.61 L429.5,441.81 L430.0,441.71 L430.5,441.88 L431.0,441.99 L431.5,442.08 L432.0,442.09 L432.5,442.04 L433.0,441.90 L433.5,441.86 L434.0,441.84 L434.5,441.68 L435.0,441.52 L435.5,441.42 L436.0,441.05 L436.5,440.69 L437.0,440.21 L437.5,439.97 L438.0,439.56 L438.5,439.11 L439.0,438.48 L439.5,437.85 L440.0,437.34 L440.5,436.96 L441.0,436.45 L441.5,436.06 L442.0,435.79 L442.5,435.81 L443.0,435.72 L443.5,436.04 L444.0,436.20 L444.5,436.71 L445.0,437.29 L445.5,437.79 L446.0,438.39 L446.5,438.83 L447.0,439.23 L447.5,439.68 L448.0,440.05 L448.5,440.52 L449.0,440.85 L449.5,441.15 L450.0,441.48 L450.5,441.68 L451.0,441.83 L451.5,441.99 L452.0,442.10 L452.5,442.13 L453.0,442.03 L453.5,442.01 L454.0,442.07 L454.5,442.12 L455.0,442.19 L455.5,442.19 L456.0,442.17 L456.5,442.02 L457.0,442.03 L457.5,441.90 L458.0,441.93 L458.5,441.80 L459.0,441.64 L459.5,441.79 L460.0,441.82 L460.5,441.63 L461.0,441.35 L461.5,441.30 L462.0,441.16 L462.5,440.76 L463.0,440.55 L463.5,440.27 L464.0,439.85 L464.5,439.33 L465.0,438.78 L465.5,438.30 L466.0,438.02 L466.5,437.90 L467.0,437.84 L467.5,437.77 L468.0,438.03 L468.5,438.15 L469.0,438.55 L469.5,438.86 L470.0,439.17 L470.5,439.56 L471.0,440.12 L471.5,440.42 L472.0,440.63 L472.5,440.97 L473.0,441.19 L473.5,441.44 L474.0,441.62 L474.5,441.80 L475.0,441.99 L475.5,441.95 L476.0,442.02 L476.5,441.91 L477.0,441.87 L477.5,441.80 L478.0,441.98 L478.5,441.95 L479.0,442.04 L479.5,442.15 L480.0,442.08 L480.5,441.98 L481.0,441.92 L481.5,441.95 L482.0,441.93 L482.5,441.82 L483.0,441.97 L483.5,442.01 L484.0,442.09 L484.5,442.12 L485.0,442.09 L485.5,442.07 L486.0,441.99 L486.5,441.81 L487.0,441.75 L487.5,441.68 L488.0,441.31 L488.5,440.99 L489.0,440.70 L489.5,440.49 L490.0,440.37 L490.5,440.11 L491.0,439.95 L491.5,439.63 L492.0,439.42 L492.5,439.16 L493.0,439.11 L493.5,439.00 L494.0,438.91 L494.5,439.04 L495.0,439.28 L495.5,439.63 L496.0,439.80 L496.5,440.20 L497.0,440.52 L497.5,440.63 L498.0,440.95 L498.5,441.27 L499.0,441.54 L499.5,441.69 L500.0,441.72 L500.5,441.81 L501.0,441.91 L501.5,441.98 L502.0,441.91 L502.5,442.08 L503.0,442.09 L503.5,441.96 L504.0,441.94 L504.5,441.86 L505.0,441.92 L505.5,441.85 L506.0,441.94 L506.5,441.92 L507.0,442.08 L507.5,442.17 L508.0,442.06 L508.5,442.17 L509.0,442.18 L509.5,442.09 L510.0,442.22 L510.5,442.04 L511.0,442.04 L511.5,442.09 L512.0,442.00 L512.5,442.03 L513.0,442.17 L513.5,442.11 L514.0,442.17 L514.5,442.06 L515.0,442.22 L515.5,442.33 L516.0,442.16 L516.5,442.22 L517.0,442.14 L517.5,441.98 L518.0,441.93 L518.5,442.04 L519.0,442.04 L519.5,442.06 L520.0,441.95 L520.5,441.87 L521.0,441.87 L521.5,441.91 L522.0,442.01 L522.5,441.94 L523.0,441.83 L523.5,441.87 L524.0,441.78 L524.5,441.64 L525.0,441.46 L525.5,441.10 L526.0,440.64 L526.5,440.12 L527.0,439.76 L527.5,439.40 L528.0,439.09 L528.5,438.82 L529.0,438.51 L529.5,438.38 L530.0,438.56 L530.5,438.60 L531.0,438.90 L531.5,439.33 L532.0,439.80 L532.5,440.26 L533.0,440.53 L533.5,440.89 L534.0,441.08 L534.5,441.29 L535.0,441.38 L535.5,441.46 L536.0,441.57 L536.5,441.54 L537.0,441.39 L537.5,441.32 L538.0,441.27 L538.5,441.07 L539.0,440.90 L539.5,440.83 L540.0,440.89 L540.5,440.80 L541.0,441.01 L541.5,441.04 L542.0,441.37 L542.5,441.44 L543.0,441.72 L543.5,441.69 L544.0,441.83 L544.5,441.85 L545.0,442.03 L545.5,442.15 L546.0,442.04 L546.5,441.93 L547.0,442.07 L547.5,442.07 L548.0,442.05 L548.5,442.04 L549.0,442.03 L549.5,442.09 L550.0,442.08 L550.5,441.99 L551.0,442.03 L551.5,442.22 L552.0,442.28 L552.5,442.31 L553.0,442.40 L553.5,442.31 L554.0,442.23 L554.5,442.30 L555.0,442.14 L555.5,442.23 L556.0,442.11 L556.5,442.16 L557.0,442.17 L557.5,442.25 L558.0,442.10 L558.5,442.17 L559.0,442.27 L559.5,442.11 L560.0,442.18 L560.5,442.12 L561.0,442.21 L561.5,442.34 L562.0,442.14 L562.5,442.13 L563.0,442.14 L563.5,442.30 L564.0,442.39 L564.5,442.19 L565.0,442.08 L565.5,442.08 L566.0,442.20 L566.5,442.28 L567.0,442.27 L567.5,442.37 L568.0,442.41 L568.5,442.46 L569.0,442.41 L569.5,442.27 L570.0,442.32 L570.5,442.34 L571.0,442.42 L571.5,442.25 L572.0,442.09 L572.5,442.07 L573.0,442.03 L573.5,442.04 L574.0,441.95 L574.5,442.06 L575.0,442.07 L575.5,442.04 L576.0,441.96 L576.5,442.05 L577.0,441.97 L577.5,442.15 L578.0,442.09 L578.5,442.24 L579.0,442.11 L579.5,442.10 L580.0,442.21 L580.5,442.21 L581.0,442.19 L581.5,442.30 L582.0,442.17 L582.5,442.28 L583.0,442.26 L583.5,442.17 L584.0,442.13 L584.5,442.08 L585.0,442.15 L585.5,442.15 L586.0,442.16 L586.5,442.22 L587.0,442.32 L587.5,442.34 L588.0,442.23 L588.5,442.27 L589.0,442.30 L589.5,442.39 L590.0,442.30 L590.5,442.27 L591.0,442.33 L591.5,442.24 L592.0,442.17 L592.5,442.21 L593.0,442.17 L593.5,442.28 L594.0,442.21 L594.5,442.12 L595.0,442.17 L595.5,442.21 L596.0,442.35 L596.5,442.43 L597.0,442.34 L597.5,442.28 L598.0,442.30 L598.5,442.27 L599.0,442.27 L599.5,442.22 L600.0,442.32 L600.5,442.40 L601.0,442.42 L601.5,442.43 L602.0,442.47 L602.5,442.31 L603.0,442.41 L603.5,442.25 L604.0,442.12 L604.5,442.14 L605.0,442.05 L605.5,442.02 L606.0,442.10 L606.5,442.02 L607.0,442.04 L607.5,442.05 L608.0,442.22 L608.5,442.09 L609.0,442.12 L609.5,442.13 L610.0,442.05 L610.5,442.04 L611.0,442.05 L611.5,442.05 L612.0,442.11 L612.5,442.15 L613.0,442.15 L613.5,442.14 L614.0,442.19 L614.5,442.18 L615.0,442.07 L615.5,442.15 L616.0,442.14 L616.5,442.26 L617.0,442.13 L617.5,442.16 L618.0,442.11 L618.5,442.17 L619.0,442.27 L619.5,442.29 L620.0,442.28 L620.5,442.38 L621.0,442.24 L621.5,442.37 L622.0,442.30 L622.5,442.30 L623.0,442.15 L623.5,442.02 L624.0,441.97 L624.5,442.04 L625.0,442.01 L625.5,442.15 L626.0,442.05 L626.5,442.14 L627.0,442.27 L627.5,442.30 L628.0,442.39 L628.5,442.42 L629.0,442.45 L629.5,442.23 L630.0,442.21 L630.5,442.13 L631.0,442.12 L631.5,442.20 L632.0,442.25 L632.5,442.12 L633.0,442.02 L633.5,441.91 L634.0,442.03 L634.5,442.14 L635.0,441.98 L635.5,441.87 L636.0,441.79 L636.5,441.97 L637.0,441.81 L637.5,441.83 L638.0,441.92 L638.5,441.75 L639.0,441.76 L639.5,441.65 L640.0,441.64 L640.5,441.57 L641.0,441.40 L641.5,441.49 L642.0,441.43 L642.5,441.52 L643.0,441.47 L643.5,441.54 L644.0,441.51 L644.5,441.32 L645.0,441.19 L645.5,441.41 L646.0,441.48 L646.5,441.60 L647.0,441.71 L647.5,441.67 L648.0,441.76 L648.5,441.82 L649.0,441.71 L649.5,441.79 L650.0,441.97 L650.5,442.00 L651.0,442.10 L651.5,441.96 L652.0,441.98 L652.5,442.02 L653.0,442.07 L653.5,442.20 L654.0,442.18 L654.5,442.19 L655.0,442.19 L655.5,442.23 L656.0,442.24 L656.5,442.19 L657.0,442.12 L657.5,442.24 L658.0,442.18 L658.5,442.24 L659.0,442.15 L659.5,442.31 L660.0,442.18 L660.5,442.16 L661.0,442.13 L661.5,442.26 L662.0,442.30 L662.5,442.20 L663.0,442.12 L663.5,442.21 L664.0,442.19 L664.5,442.09 L665.0,442.00 L665.5,442.12 L666.0,442.19 L666.5,442.28 L667.0,442.13 L667.5,442.14 L668.0,442.05 L668.5,442.11 L669.0,442.05 L669.5,442.01 L670.0,442.08 L670.5,442.02 L671.0,442.16 L671.5,442.07 L672.0,442.03 L672.5,442.16 L673.0,442.10 L673.5,442.06 L674.0,442.19 L674.5,442.21 L675.0,442.30 L675.5,442.38 L676.0,442.46 L676.5,442.26 L677.0,442.20 L677.5,442.19 L678.0,442.12 L678.5,442.26 L679.0,442.20 L679.5,442.33 L680.0,442.16 L680.5,442.15 L681.0,442.20 L681.5,442.29 L682.0,442.25" stroke="#000" /></g>
<rect x="36.7" y="1.3" width="646.8" height="474" fill="none" stroke="#000" stroke-width="3"/>
<path d="M55.5,474 V466 M87.6,474 V470.5 M119.8,474 V466 M151.9,474 V470.5 M184.0,474 V466 M216.1,474 V470.5 M248.2,474 V466 M280.4,474 V470.5 M312.5,474 V466 M344.6,474 V470.5 M376.8,474 V466 M408.9,474 V470.5 M441.0,474 V466 M473.1,474 V470.5 M505.2,474 V466 M537.4,474 V470.5 M569.5,474 V466 M601.6,474 V470.5 M633.8,474 V466 M665.9,474 V470.5" stroke="#000" stroke-width="2.4" fill="none"/>
<g font-family="Liberation Sans" font-weight="bold" font-size="15.3" fill="#000"><text x="87.9" y="105.5" font-size="14.5">(100)</text><text x="118.9" y="118.6" font-size="14.5">(100)</text><text x="145.3" y="34.5" font-size="14.5">(002)</text><text x="271.3" y="143.7" font-size="14.5">(102)</text><text x="383.7" y="134.0" font-size="14.5">(110)</text><text x="453.6" y="140.7" font-size="14.5">(103)</text><text x="490.0" y="181.9" font-size="14.5">(200)</text><text x="513.3" y="150.8" font-size="14.5">(112)</text><text x="533.7" y="169.4" font-size="14.5">(201)</text><text x="567.0" y="187.2" font-size="14.5">(004)</text><text x="623.1" y="185.5" font-size="14.5">(202)</text><text x="95.9" y="243.2">Zn</text><text x="123.0" y="252.8">Zn</text><text x="136.7" y="240.3">Cu</text><text x="150.5" y="212.5">Zn</text><text x="179.0" y="244.6">Cu</text><text x="279.7" y="269.5">Zn</text><text x="354.2" y="286.0">Cu</text><text x="387.8" y="263.5">Cu</text><text x="406.3" y="284.3">Cu</text><text x="441.2" y="277.2">Cu</text><text x="499.6" y="277.2">Cu</text><text x="518.2" y="263.1">Cu</text><text x="535.4" y="280.2">Cu</text><text x="574.5" y="284.7">Cu</text><text x="601.3" y="283.2">Cu</text><text x="96.0" y="318.9">Zn</text><text x="131.4" y="366.4">Zn</text><text x="145.2" y="317.0">Zn</text><text x="164.5" y="334.0">FeZn</text><text x="230.3" y="309.3">Fe</text><text x="278.9" y="366.5">Zn</text><text x="386.5" y="341.1">Zn</text><text x="460.4" y="327.9">Fe</text><text x="505.4" y="381.2">Fe</text><text x="518.0" y="361.5">Zn</text><text x="533.0" y="376.9">Zn</text><text x="651.7" y="380.5">Fe</text><text x="62.7" y="423.8">Mn</text><text x="97.9" y="428.0">Zn</text><text x="106.6" y="411.7">Mn</text><text x="125.3" y="428.0">Zn</text><text x="147.5" y="410.5">Zn</text><text x="247.8" y="431.9">Mn</text><text x="277.0" y="430.3">Zn</text><text x="345.2" y="437.0">ZnMn</text><text x="384.5" y="423.5">Zn</text><text x="410.7" y="434.6">Mn</text><text x="424.6" y="422.1">ZnMn</text><text x="462.6" y="436.8">Zn</text><text x="476.1" y="426.0">ZnMn</text><text x="519.8" y="424.0">Zn</text><text x="533.3" y="438.3">Zn</text></g>
<g font-family="Liberation Sans" font-weight="bold" font-size="24" fill="#800000"><text x="646.5" y="162.0">(a)</text><text x="647.0" y="280.1">(b)</text><text x="646.7" y="340.0">(c)</text><text x="645.5" y="431.0">(d)</text></g>
<g font-family="Liberation Sans" font-size="20.8" fill="#000" text-anchor="middle"><text x="55.8" y="501.6">27.5</text><text x="120.0" y="501.6">33.0</text><text x="184.3" y="501.6">38.5</text><text x="248.6" y="501.6">44.0</text><text x="312.8" y="501.6">49.5</text><text x="377.1" y="501.6">55.0</text><text x="441.3" y="501.6">60.5</text><text x="505.6" y="501.6">66.0</text><text x="569.8" y="501.6">71.5</text><text x="634.0" y="501.6">77.0</text></g>
<text x="306.2" y="531.3" font-family="Liberation Sans" font-weight="bold" font-size="24.5">Angle (2</text>
<text x="403.6" y="531.3" font-family="Liberation Sans" font-size="25" stroke="#000" stroke-width="0.5">&#952;</text>
<text x="415.6" y="531.3" font-family="Liberation Sans" font-size="24.5">)</text>
<text transform="translate(17.1,363.3) rotate(-90)" font-family="Liberation Sans" font-weight="bold" font-size="24.5">Intensity (arb.units)</text>

<path d="M204.0,668.4 L204.5,668.4 L205.0,668.4 L205.5,668.4 L206.0,668.4 L206.5,668.4 L207.0,668.4 L207.5,668.4 L208.0,668.4 L208.5,668.4 L209.0,668.4 L209.5,668.4 L210.0,668.4 L210.5,668.4 L211.0,668.4 L211.5,668.4 L212.0,668.4 L212.5,668.4 L213.0,668.4 L213.5,668.4 L214.0,668.4 L214.5,668.4 L215.0,668.4 L215.5,668.4 L216.0,668.4 L216.5,668.4 L217.0,668.4 L217.5,668.4 L218.0,668.4 L218.5,668.4 L219.0,668.4 L219.5,668.4 L220.0,668.4 L220.5,668.4 L221.0,668.4 L221.5,668.4 L222.0,668.4 L222.5,668.3 L223.0,668.3 L223.5,668.3 L224.0,668.3 L224.5,668.3 L225.0,668.3 L225.5,668.3 L226.0,668.3 L226.5,668.3 L227.0,668.3 L227.5,668.3 L228.0,668.3 L228.5,668.3 L229.0,668.3 L229.5,668.3 L230.0,668.3 L230.5,668.3 L231.0,668.3 L231.5,668.3 L232.0,668.3 L232.5,668.3 L233.0,668.3 L233.5,668.3 L234.0,668.3 L234.5,668.3 L235.0,668.3 L235.5,668.3 L236.0,668.3 L236.5,668.3 L237.0,668.3 L237.5,668.3 L238.0,668.3 L238.5,668.3 L239.0,668.3 L239.5,668.3 L240.0,668.3 L240.5,668.3 L241.0,668.3 L241.5,668.3 L242.0,668.3 L242.5,668.3 L243.0,668.3 L243.5,668.3 L244.0,668.3 L244.5,668.3 L245.0,668.3 L245.5,668.3 L246.0,668.3 L246.5,668.3 L247.0,668.3 L247.5,668.3 L248.0,668.3 L248.5,668.3 L249.0,668.3 L249.5,668.3 L250.0,668.3 L250.5,668.3 L251.0,668.3 L251.5,668.3 L252.0,668.3 L252.5,668.3 L253.0,668.3 L253.5,668.3 L254.0,668.3 L254.5,668.3 L255.0,668.3 L255.5,668.2 L256.0,668.2 L256.4,668.2 L256.8,668.2 L257.2,668.2 L257.6,668.2 L258.0,668.2 L258.4,668.2 L258.8,668.2 L259.2,668.2 L259.6,668.2 L260.0,668.2 L260.4,668.2 L260.8,668.2 L261.2,668.2 L261.6,668.2 L262.0,668.2 L262.4,668.2 L262.8,668.2 L263.2,668.2 L263.6,668.2 L264.0,668.2 L264.4,668.2 L264.8,668.2 L265.2,668.2 L265.6,668.2 L266.0,668.2 L266.4,668.1 L266.8,668.1 L267.2,668.1 L267.6,668.1 L268.0,668.1 L268.4,668.1 L268.8,668.1 L269.2,668.1 L269.6,668.1 L270.0,668.0 L270.4,668.0 L270.8,668.0 L271.2,668.0 L271.6,668.0 L272.0,667.9 L272.4,667.9 L272.8,667.8 L273.2,667.8 L273.6,667.7 L274.0,667.6 L274.4,667.5 L274.8,667.4 L275.2,667.2 L275.6,666.9 L276.0,666.3 L276.4,665.1 L276.7,663.1 L276.9,660.9 L277.0,659.5 L277.1,657.8 L277.2,655.8 L277.3,653.6 L277.4,651.0 L277.5,648.2 L277.6,645.1 L277.7,641.8 L277.8,638.3 L277.9,634.7 L278.0,631.2 L278.1,627.7 L278.2,624.4 L278.3,621.4 L278.4,618.9 L278.5,617.0 L278.7,615.4 L278.9,617.0 L279.0,618.9 L279.1,621.4 L279.2,624.4 L279.3,627.6 L279.4,631.1 L279.5,634.7 L279.6,638.3 L279.7,641.8 L279.8,645.1 L279.9,648.2 L280.0,651.0 L280.1,653.5 L280.2,655.8 L280.3,657.7 L280.4,659.4 L280.5,660.9 L280.7,663.0 L280.9,664.5 L281.2,665.8 L281.6,666.6 L282.0,667.0 L282.4,667.2 L282.8,667.4 L283.2,667.5 L283.6,667.6 L284.0,667.6 L284.4,667.7 L284.8,667.7 L285.2,667.8 L285.6,667.8 L286.0,667.8 L286.4,667.8 L286.8,667.8 L287.2,667.8 L287.6,667.8 L288.0,667.8 L288.4,667.8 L288.8,667.8 L289.2,667.7 L289.6,667.7 L290.0,667.6 L290.4,667.6 L290.8,667.5 L291.2,667.4 L291.6,667.3 L292.0,667.1 L292.4,666.8 L292.8,666.2 L293.2,664.9 L293.4,663.6 L293.6,661.7 L293.7,660.5 L293.8,659.1 L293.9,657.4 L294.0,655.5 L294.1,653.3 L294.2,650.9 L294.3,648.2 L294.4,645.4 L294.5,642.4 L294.6,639.3 L294.7,636.3 L294.8,633.3 L294.9,630.4 L295.0,627.9 L295.1,625.8 L295.2,624.1 L295.4,622.8 L295.6,624.1 L295.7,625.7 L295.8,627.9 L295.9,630.4 L296.0,633.2 L296.1,636.2 L296.2,639.3 L296.3,642.4 L296.4,645.3 L296.5,648.2 L296.6,650.8 L296.7,653.2 L296.8,655.4 L296.9,657.3 L297.0,659.0 L297.1,660.4 L297.2,661.6 L297.4,663.5 L297.6,664.8 L298.0,666.1 L298.4,666.6 L298.8,666.9 L299.2,667.0 L299.6,667.1 L300.0,667.1 L300.4,667.1 L300.8,667.1 L301.2,667.1 L301.6,667.0 L302.0,666.9 L302.4,666.8 L302.8,666.6 L303.2,666.3 L303.6,665.9 L304.0,665.2 L304.4,663.7 L304.6,662.4 L304.8,660.3 L304.9,658.9 L305.0,657.2 L305.1,655.2 L305.2,652.9 L305.3,650.1 L305.4,646.8 L305.5,643.1 L305.6,639.0 L305.7,634.3 L305.8,629.3 L305.9,623.8 L306.0,618.0 L306.1,612.0 L306.2,605.9 L306.3,599.9 L306.4,594.0 L306.5,588.5 L306.6,583.6 L306.7,579.6 L306.8,576.5 L306.9,574.6 L307.2,576.5 L307.3,579.6 L307.4,583.6 L307.5,588.5 L307.6,594.0 L307.7,599.9 L307.8,606.0 L307.9,612.1 L308.0,618.1 L308.1,623.9 L308.2,629.3 L308.3,634.4 L308.4,639.0 L308.5,643.2 L308.6,646.9 L308.7,650.1 L308.8,652.9 L308.9,655.3 L309.0,657.3 L309.1,659.0 L309.2,660.4 L309.4,662.4 L309.6,663.8 L309.9,665.0 L310.3,665.9 L310.7,666.3 L311.1,666.7 L311.5,666.9 L311.9,667.1 L312.3,667.2 L312.7,667.3 L313.1,667.4 L313.5,667.5 L313.9,667.6 L314.3,667.6 L314.7,667.7 L315.1,667.7 L315.5,667.8 L315.9,667.8 L316.3,667.8 L316.7,667.8 L317.1,667.9 L317.5,667.9 L317.9,667.9 L318.3,667.9 L318.7,667.9 L319.1,667.9 L319.5,668.0 L319.9,668.0 L320.3,668.0 L320.7,668.0 L321.1,668.0 L321.5,668.0 L321.9,668.0 L322.3,668.0 L322.7,668.0 L323.1,668.0 L323.5,668.0 L323.9,668.0 L324.3,668.0 L324.7,668.0 L325.1,668.0 L325.5,668.0 L325.9,668.0 L326.3,668.0 L326.7,668.1 L327.1,668.1 L327.5,668.1 L327.9,668.1 L328.3,668.1 L328.7,668.1 L329.1,668.1 L329.5,668.1 L329.9,668.1 L330.3,668.1 L330.7,668.1 L331.1,668.1 L331.5,668.1 L331.9,668.1 L332.3,668.1 L332.7,668.1 L333.1,668.1 L333.5,668.1 L333.9,668.1 L334.3,668.1 L334.7,668.1 L335.1,668.1 L335.5,668.1 L335.9,668.1 L336.3,668.1 L336.7,668.1 L337.1,668.1 L337.5,668.1 L337.9,668.1 L338.3,668.1 L338.7,668.1 L339.1,668.1 L339.5,668.1 L339.9,668.1 L340.3,668.1 L340.7,668.1 L341.1,668.1 L341.5,668.1 L341.9,668.1 L342.3,668.1 L342.7,668.1 L343.1,668.1 L343.5,668.1 L343.9,668.1 L344.3,668.1 L344.7,668.1 L345.1,668.1 L345.5,668.1 L345.9,668.1 L346.3,668.1 L346.7,668.1 L347.1,668.1 L347.5,668.1 L347.9,668.1 L348.3,668.1 L348.7,668.1 L349.1,668.1 L349.5,668.1 L349.9,668.1 L350.3,668.1 L350.7,668.1 L351.1,668.1 L351.5,668.1 L351.9,668.1 L352.3,668.1 L352.7,668.1 L353.1,668.0 L353.5,668.0 L353.9,668.0 L354.3,668.0 L354.7,668.0 L355.1,668.0 L355.5,668.0 L355.9,668.0 L356.3,668.0 L356.7,668.0 L357.1,668.0 L357.5,668.0 L357.9,668.0 L358.3,668.0 L358.7,668.0 L359.1,668.0 L359.5,668.0 L359.9,668.0 L360.3,668.0 L360.7,668.0 L361.1,668.0 L361.5,668.0 L361.9,668.0 L362.3,668.0 L362.7,668.0 L363.1,668.0 L363.5,668.0 L363.9,668.0 L364.3,668.0 L364.7,668.0 L365.1,668.0 L365.5,668.0 L365.9,668.0 L366.3,668.0 L366.7,668.0 L367.1,668.0 L367.5,668.0 L367.9,668.0 L368.3,668.0 L368.7,667.9 L369.1,667.9 L369.5,667.9 L369.9,667.9 L370.3,667.9 L370.7,667.9 L371.1,667.9 L371.5,667.8 L371.9,667.8 L372.3,667.8 L372.7,667.7 L373.1,667.7 L373.5,667.6 L373.9,667.5 L374.3,667.4 L374.7,667.2 L375.1,666.7 L375.5,665.6 L375.8,664.2 L376.0,662.7 L376.2,660.8 L376.4,658.5 L376.5,657.2 L376.6,655.8 L376.7,654.3 L376.8,652.8 L376.9,651.3 L377.0,649.8 L377.1,648.3 L377.2,647.0 L377.4,644.8 L377.7,643.5 L378.0,644.8 L378.2,647.0 L378.3,648.3 L378.4,649.8 L378.5,651.3 L378.6,652.8 L378.7,654.3 L378.8,655.8 L378.9,657.2 L379.0,658.5 L379.1,659.7 L379.3,661.8 L379.5,663.5 L379.7,664.7 L380.0,666.0 L380.4,666.9 L380.8,667.3 L381.2,667.4 L381.6,667.6 L382.0,667.6 L382.4,667.7 L382.8,667.7 L383.2,667.8 L383.6,667.8 L384.0,667.8 L384.4,667.8 L384.8,667.9 L385.2,667.9 L385.6,667.9 L386.0,667.9 L386.4,667.9 L386.8,667.9 L387.2,667.9 L387.6,667.9 L388.0,667.9 L388.4,667.9 L388.8,667.9 L389.2,667.9 L389.6,667.9 L390.0,667.9 L390.4,667.9 L390.8,667.9 L391.2,667.9 L391.6,667.9 L392.0,667.9 L392.4,668.0 L392.8,668.0 L393.2,668.0 L393.6,668.0 L394.0,668.0 L394.4,668.0 L394.8,668.0 L395.2,668.0 L395.6,668.0 L396.0,668.0 L396.4,668.0 L396.8,668.0 L397.2,668.0 L397.6,668.0 L398.0,668.0 L398.4,668.0 L398.8,668.0 L399.2,668.0 L399.6,668.0 L400.0,668.0 L400.4,668.0 L400.8,668.0 L401.2,667.9 L401.6,667.9 L402.0,667.9 L402.4,667.9 L402.8,667.9 L403.2,667.9 L403.6,667.9 L404.0,667.9 L404.4,667.9 L404.8,667.9 L405.2,667.9 L405.6,667.9 L406.0,667.9 L406.4,667.9 L406.8,667.9 L407.2,667.9 L407.6,667.9 L408.0,667.9 L408.4,667.9 L408.8,667.9 L409.2,667.9 L409.6,667.9 L410.0,667.9 L410.4,667.9 L410.8,667.9 L411.2,667.9 L411.6,667.9 L412.0,667.9 L412.4,667.9 L412.8,667.9 L413.2,667.9 L413.6,667.9 L414.0,667.9 L414.4,667.9 L414.8,667.9 L415.2,667.9 L415.6,667.9 L416.0,667.9 L416.4,667.9 L416.8,667.9 L417.2,667.9 L417.6,667.9 L418.0,667.9 L418.4,667.9 L418.8,667.9 L419.2,667.9 L419.6,667.9 L420.0,667.9 L420.4,667.9 L420.8,667.9 L421.2,667.9 L421.6,667.9 L422.0,667.9 L422.4,667.9 L422.8,667.8 L423.2,667.8 L423.6,667.8 L424.0,667.8 L424.4,667.8 L424.8,667.8 L425.2,667.8 L425.6,667.8 L426.0,667.8 L426.4,667.8 L426.8,667.7 L427.2,667.7 L427.6,667.7 L428.0,667.7 L428.4,667.6 L428.8,667.6 L429.2,667.5 L429.6,667.5 L430.0,667.4 L430.4,667.3 L430.8,667.2 L431.2,666.9 L431.6,666.5 L432.0,665.5 L432.3,664.1 L432.5,662.6 L432.7,660.6 L432.8,659.4 L432.9,658.1 L433.0,656.6 L433.1,654.9 L433.2,653.1 L433.3,651.2 L433.4,649.2 L433.5,647.1 L433.6,645.1 L433.7,643.0 L433.8,641.1 L433.9,639.3 L434.0,637.7 L434.1,636.3 L434.3,634.7 L434.7,636.3 L434.8,637.7 L434.9,639.3 L435.0,641.1 L435.1,643.0 L435.2,645.1 L435.3,647.1 L435.4,649.2 L435.5,651.2 L435.6,653.1 L435.7,654.9 L435.8,656.6 L435.9,658.1 L436.0,659.4 L436.1,660.6 L436.3,662.6 L436.5,664.1 L436.8,665.5 L437.2,666.5 L437.6,666.9 L438.0,667.2 L438.4,667.3 L438.8,667.4 L439.2,667.5 L439.6,667.5 L440.0,667.6 L440.4,667.6 L440.8,667.6 L441.2,667.7 L441.6,667.7 L442.0,667.7 L442.4,667.7 L442.8,667.7 L443.2,667.7 L443.6,667.8 L444.0,667.8 L444.4,667.8 L444.8,667.8 L445.2,667.8 L445.6,667.8 L446.0,667.8 L446.4,667.8 L446.8,667.8 L447.2,667.8 L447.6,667.8 L448.0,667.8 L448.4,667.8 L448.8,667.8 L449.2,667.8 L449.6,667.8 L450.0,667.8 L450.4,667.8 L450.8,667.8 L451.2,667.8 L451.6,667.8 L452.0,667.8 L452.4,667.8 L452.8,667.8 L453.2,667.8 L453.6,667.8 L454.0,667.8 L454.4,667.8 L454.8,667.8 L455.2,667.8 L455.6,667.8 L456.0,667.8 L456.4,667.8 L456.8,667.8 L457.2,667.8 L457.6,667.8 L458.0,667.8 L458.4,667.8 L458.8,667.8 L459.2,667.8 L459.6,667.8 L460.0,667.8 L460.4,667.8 L460.8,667.8 L461.2,667.8 L461.6,667.8 L462.0,667.8 L462.4,667.7 L462.8,667.7 L463.2,667.7 L463.6,667.7 L464.0,667.7 L464.4,667.7 L464.8,667.7 L465.2,667.7 L465.6,667.7 L466.0,667.6 L466.4,667.6 L466.8,667.6 L467.2,667.6 L467.6,667.5 L468.0,667.5 L468.4,667.4 L468.8,667.3 L469.2,667.2 L469.6,667.1 L470.0,666.9 L470.4,666.4 L470.8,665.3 L471.1,663.7 L471.3,662.2 L471.5,660.1 L471.6,658.8 L471.7,657.4 L471.8,655.9 L471.9,654.3 L472.0,652.5 L472.1,650.7 L472.2,648.8 L472.3,646.9 L472.4,645.1 L472.5,643.3 L472.6,641.6 L472.7,640.2 L472.8,639.0 L473.0,637.5 L473.4,639.0 L473.5,640.2 L473.6,641.6 L473.7,643.3 L473.8,645.1 L473.9,646.9 L474.0,648.8 L474.1,650.7 L474.2,652.5 L474.3,654.3 L474.4,655.9 L474.5,657.4 L474.6,658.8 L474.7,660.1 L474.9,662.1 L475.1,663.7 L475.4,665.3 L475.8,666.4 L476.2,666.8 L476.6,667.1 L477.0,667.2 L477.4,667.3 L477.8,667.4 L478.2,667.4 L478.6,667.5 L479.0,667.5 L479.4,667.6 L479.8,667.6 L480.2,667.6 L480.6,667.6 L481.0,667.6 L481.4,667.6 L481.8,667.6 L482.2,667.7 L482.6,667.7 L483.0,667.7 L483.4,667.7 L483.8,667.7 L484.2,667.7 L484.6,667.7 L485.0,667.7 L485.4,667.7 L485.8,667.7 L486.2,667.7 L486.6,667.7 L487.0,667.7 L487.4,667.7 L487.8,667.7 L488.2,667.7 L488.6,667.6 L489.0,667.6 L489.4,667.6 L489.8,667.6 L490.2,667.6 L490.6,667.6 L491.0,667.5 L491.4,667.5 L491.8,667.4 L492.2,667.2 L492.6,666.9 L493.0,666.4 L493.4,665.6 L493.8,664.5 L494.2,663.3 L494.6,662.2 L495.0,661.5 L495.4,661.5 L495.8,662.2 L496.2,663.3 L496.6,664.5 L497.0,665.5 L497.4,666.3 L497.8,666.8 L498.2,667.1 L498.6,667.3 L499.0,667.3 L499.4,667.4 L499.8,667.4 L500.2,667.3 L500.6,667.3 L501.0,667.3 L501.4,667.2 L501.8,667.1 L502.2,666.9 L502.6,666.6 L503.0,665.9 L503.4,664.3 L503.6,663.0 L503.8,661.2 L504.0,659.1 L504.1,657.8 L504.2,656.5 L504.3,655.0 L504.4,653.5 L504.5,651.9 L504.6,650.4 L504.7,648.8 L504.8,647.4 L504.9,646.0 L505.0,644.8 L505.2,643.0 L505.6,643.0 L505.8,644.8 L505.9,646.0 L506.0,647.3 L506.1,648.8 L506.2,650.3 L506.3,651.9 L506.4,653.5 L506.5,655.0 L506.6,656.4 L506.7,657.8 L506.8,659.0 L507.0,661.2 L507.2,662.9 L507.4,664.2 L507.7,665.4 L508.1,666.3 L508.5,666.7 L508.9,666.8 L509.3,666.8 L509.7,666.7 L510.1,666.4 L510.5,665.7 L510.9,664.4 L511.2,662.8 L511.4,661.6 L511.6,660.2 L511.8,658.7 L512.0,657.2 L512.2,655.9 L512.5,654.6 L512.9,654.6 L513.2,656.0 L513.4,657.3 L513.6,658.8 L513.8,660.3 L514.0,661.7 L514.2,663.0 L514.5,664.5 L514.9,665.9 L515.3,666.7 L515.7,667.1 L516.1,667.2 L516.5,667.3 L516.9,667.4 L517.3,667.4 L517.7,667.5 L518.1,667.5 L518.5,667.5 L518.9,667.5 L519.3,667.6 L519.7,667.6 L520.1,667.6 L520.5,667.6 L520.9,667.6 L521.3,667.6 L521.7,667.6 L522.1,667.6 L522.5,667.6 L522.9,667.6 L523.3,667.6 L523.7,667.6 L524.1,667.6 L524.5,667.6 L524.9,667.6 L525.3,667.6 L525.7,667.6 L526.1,667.6 L526.5,667.6 L526.9,667.6 L527.3,667.6 L527.7,667.6 L528.1,667.6 L528.5,667.6 L528.9,667.6 L529.3,667.6 L529.7,667.6 L530.1,667.6 L530.5,667.6 L530.9,667.5 L531.3,667.4 L531.7,667.3 L532.1,667.0 L532.5,666.7 L532.9,666.2 L533.3,665.6 L533.7,665.1 L534.1,664.6 L534.5,664.5 L534.9,664.6 L535.3,665.1 L535.7,665.6 L536.1,666.2 L536.5,666.7 L536.9,667.0 L537.3,667.3 L537.7,667.4 L538.1,667.5 L538.5,667.5 L538.9,667.6 L539.3,667.6 L539.7,667.6 L540.1,667.6 L540.5,667.6 L540.9,667.6 L541.3,667.6 L541.7,667.6 L542.1,667.6 L542.5,667.6 L542.9,667.6 L543.3,667.6 L543.7,667.6 L544.1,667.6 L544.5,667.6 L544.9,667.6 L545.3,667.6 L545.7,667.6 L546.1,667.6 L546.5,667.6 L546.9,667.6 L547.3,667.6 L547.7,667.6 L548.1,667.6 L548.5,667.6 L548.9,667.6 L549.3,667.6 L549.7,667.6 L550.1,667.6 L550.5,667.6 L550.9,667.6 L551.3,667.6 L551.7,667.6 L552.1,667.6 L552.5,667.6 L552.9,667.6 L553.3,667.6 L553.7,667.6 L554.1,667.6 L554.5,667.6 L554.9,667.6 L555.3,667.6 L555.7,667.6 L556.1,667.6 L556.5,667.5 L556.9,667.5 L557.3,667.5 L557.7,667.4 L558.1,667.3 L558.5,667.2 L558.9,666.9 L559.3,666.4 L559.7,665.8 L560.1,665.1 L560.5,664.3 L560.9,663.6 L561.3,663.3 L561.7,663.4 L562.1,663.9 L562.5,664.7 L562.9,665.5 L563.3,666.1 L563.7,666.7 L564.1,667.0 L564.5,667.3 L564.9,667.4 L565.3,667.5 L565.7,667.5 L566.1,667.5 L566.5,667.5 L566.9,667.5 L567.3,667.6 L567.7,667.6 L568.1,667.6 L568.5,667.6 L568.9,667.6 L569.3,667.6 L569.7,667.6 L570.1,667.6 L570.5,667.6 L570.9,667.6 L571.3,667.6 L571.7,667.6 L572.1,667.6 L572.5,667.6 L572.9,667.6 L573.3,667.6 L573.7,667.6 L574.1,667.6 L574.5,667.6 L574.9,667.6 L575.3,667.6 L575.7,667.6 L576.1,667.6 L576.5,667.6 L576.9,667.6 L577.3,667.6 L577.7,667.6 L578.1,667.6 L578.5,667.6 L578.9,667.6 L579.3,667.6 L579.7,667.6" fill="none" stroke="#3a9e9e" stroke-width="1.4" stroke-linejoin="round"/>
<path d="M204.2 668.4h0M205.2 668.2h0M206.3 668.1h0M207.3 668.5h0M208.4 668.2h0M209.4 668.4h0M210.5 668.7h0M211.5 668.2h0M212.6 668.7h0M213.6 668.7h0M214.7 668.1h0M215.7 668.1h0M216.8 668.1h0M217.8 668.2h0M218.9 668.2h0M219.9 668.2h0M221.0 668.1h0M222.0 668.7h0M223.1 668.6h0M224.1 668.1h0M225.2 668.0h0M226.2 668.4h0M227.3 668.4h0M228.3 668.0h0M229.4 668.4h0M230.4 668.5h0M231.5 668.5h0M232.5 668.2h0M233.6 668.5h0M234.6 668.6h0M235.7 668.4h0M236.7 668.7h0M237.8 668.3h0M238.8 668.3h0M239.9 668.1h0M240.9 668.6h0M242.0 668.1h0M243.0 668.4h0M244.1 668.4h0M245.1 668.1h0M246.2 668.6h0M247.2 668.4h0M248.3 668.2h0M249.3 668.4h0M250.4 668.4h0M251.4 668.4h0M252.5 668.3h0M253.5 668.6h0M254.6 668.2h0M255.6 668.4h0M256.7 668.0h0M257.7 668.1h0M258.8 668.3h0M259.8 668.4h0M260.9 668.2h0M261.9 668.5h0M263.0 668.3h0M264.0 668.4h0M265.1 668.2h0M266.1 668.5h0M267.2 668.3h0M268.2 668.0h0M269.3 668.1h0M270.4 668.2h0M271.4 667.9h0M272.5 667.7h0M273.5 667.8h0M274.6 667.8h0M275.6 667.2h0M276.3 665.6h0M276.7 664.0h0M277.0 659.9h0M277.4 652.7h0M277.7 643.5h0M278.1 631.1h0M278.4 622.3h0M278.8 617.4h0M279.1 625.5h0M279.5 634.6h0M279.8 646.8h0M280.2 655.7h0M280.5 660.9h0M280.9 664.0h0M281.2 666.0h0M282.3 667.5h0M283.3 667.5h0M284.4 667.8h0M285.4 668.0h0M286.5 668.1h0M287.5 667.9h0M288.6 668.0h0M289.6 667.9h0M290.7 667.5h0M291.7 667.1h0M292.8 666.5h0M293.5 663.7h0M293.8 659.7h0M294.2 653.4h0M294.5 643.6h0M294.9 633.0h0M295.2 625.6h0M295.6 627.1h0M295.9 632.7h0M296.3 642.9h0M296.6 652.3h0M297.0 658.7h0M297.3 663.1h0M297.7 664.9h0M298.4 666.4h0M299.4 667.2h0M300.5 667.1h0M301.5 666.9h0M302.6 667.2h0M303.6 666.3h0M304.3 664.6h0M304.7 662.8h0M305.0 657.7h0M305.4 649.7h0M305.7 635.3h0M306.1 617.1h0M306.4 599.1h0M306.8 582.0h0M307.1 579.8h0M307.5 591.3h0M307.8 611.7h0M308.2 628.6h0M308.5 645.0h0M308.9 655.3h0M309.2 660.6h0M309.6 663.9h0M310.3 666.1h0M311.3 666.5h0M312.4 667.3h0M313.4 667.5h0M314.5 667.4h0M315.5 667.7h0M316.6 667.7h0M317.6 667.6h0M318.7 668.1h0M319.7 667.7h0M320.8 667.9h0M321.8 668.3h0M322.9 667.9h0M323.9 667.9h0M325.0 668.3h0M326.0 668.3h0M327.1 668.4h0M328.1 667.8h0M329.2 667.8h0M330.2 668.1h0M331.3 668.1h0M332.3 668.3h0M333.4 668.4h0M334.4 668.0h0M335.5 667.9h0M336.5 667.8h0M337.6 668.1h0M338.6 667.9h0M339.7 667.8h0M340.7 667.9h0M341.8 668.1h0M342.8 668.1h0M343.9 667.7h0M344.9 667.8h0M346.0 668.2h0M347.0 667.7h0M348.1 668.2h0M349.1 668.3h0M350.2 668.3h0M351.2 667.9h0M352.3 668.0h0M353.3 668.3h0M354.4 668.1h0M355.4 668.1h0M356.5 668.0h0M357.5 668.4h0M358.6 667.8h0M359.6 668.3h0M360.7 668.0h0M361.7 668.2h0M362.8 667.9h0M363.8 667.7h0M364.9 668.0h0M365.9 668.3h0M367.0 668.3h0M368.0 668.1h0M369.1 667.8h0M370.1 667.7h0M371.2 668.2h0M372.2 667.7h0M373.3 667.7h0M374.3 667.6h0M375.4 666.4h0M375.7 664.7h0M376.1 662.3h0M376.4 658.9h0M376.8 654.2h0M377.1 649.4h0M377.5 645.3h0M378.2 648.1h0M378.5 652.2h0M378.9 657.4h0M379.2 661.5h0M379.6 664.2h0M379.9 666.1h0M381.0 667.4h0M382.0 667.8h0M383.1 667.8h0M384.1 667.5h0M385.2 667.7h0M386.2 667.9h0M387.3 667.6h0M388.3 667.8h0M389.4 667.9h0M390.4 667.8h0M391.5 667.8h0M392.5 667.9h0M393.6 667.7h0M394.6 668.2h0M395.7 667.9h0M396.7 667.7h0M397.8 668.2h0M398.8 667.8h0M399.9 668.0h0M400.9 667.7h0M402.0 667.7h0M403.0 667.9h0M404.1 667.8h0M405.1 668.1h0M406.2 668.0h0M407.2 667.8h0M408.3 668.0h0M409.3 667.6h0M410.4 667.6h0M411.4 667.7h0M412.5 667.8h0M413.5 667.7h0M414.6 667.8h0M415.6 668.2h0M416.7 668.2h0M417.7 667.6h0M418.8 667.9h0M419.8 668.2h0M420.9 667.8h0M421.9 667.8h0M423.0 667.6h0M424.0 667.7h0M425.1 667.7h0M426.1 667.6h0M427.2 667.6h0M428.2 667.9h0M429.3 667.4h0M430.3 667.0h0M431.4 666.9h0M432.4 663.4h0M432.8 660.5h0M433.1 655.5h0M433.5 649.3h0M433.8 642.3h0M434.2 636.6h0M434.9 640.8h0M435.2 646.5h0M435.6 653.6h0M435.9 658.6h0M436.3 662.8h0M436.6 665.1h0M437.3 666.7h0M438.4 667.2h0M439.4 667.3h0M440.5 667.8h0M441.5 667.4h0M442.6 667.6h0M443.6 667.6h0M444.7 667.7h0M445.7 667.7h0M446.8 668.1h0M447.8 668.1h0M448.9 667.5h0M449.9 667.8h0M451.0 667.7h0M452.0 668.1h0M453.1 667.7h0M454.1 667.7h0M455.2 667.5h0M456.2 667.6h0M457.3 668.0h0M458.3 667.7h0M459.4 667.9h0M460.4 667.9h0M461.5 668.1h0M462.5 668.1h0M463.6 667.6h0M464.6 667.7h0M465.7 667.5h0M466.7 667.7h0M467.8 667.8h0M468.8 667.4h0M469.9 666.9h0M470.9 664.7h0M471.3 663.0h0M471.6 659.4h0M472.0 654.2h0M472.3 648.3h0M472.7 642.3h0M473.0 639.6h0M473.7 645.7h0M474.1 651.2h0M474.4 656.6h0M474.8 660.6h0M475.1 663.6h0M475.5 665.5h0M476.5 667.4h0M477.6 667.3h0M478.6 667.8h0M479.7 667.6h0M480.7 667.5h0M481.8 667.4h0M482.8 667.8h0M483.9 667.3h0M484.9 667.5h0M486.0 667.6h0M487.0 667.5h0M488.1 668.0h0M489.1 667.7h0M490.2 667.3h0M491.2 667.4h0M492.3 667.3h0M493.3 666.0h0M494.0 664.5h0M494.7 662.2h0M495.8 662.8h0M496.5 664.5h0M497.5 666.5h0M498.6 667.0h0M499.6 667.6h0M500.7 667.2h0M501.7 666.9h0M502.8 666.2h0M503.5 664.5h0M503.8 661.5h0M504.2 657.4h0M504.5 652.6h0M504.9 647.7h0M505.2 644.8h0M505.6 643.4h0M505.9 647.4h0M506.3 651.5h0M506.6 657.5h0M507.0 660.9h0M507.3 664.2h0M508.0 666.1h0M509.1 666.8h0M510.1 666.3h0M510.8 664.9h0M511.5 661.6h0M511.9 659.1h0M512.2 656.3h0M513.3 657.0h0M513.6 659.3h0M514.0 661.5h0M514.3 664.0h0M515.0 666.5h0M516.1 667.0h0M517.1 667.7h0M518.2 667.5h0M519.2 667.9h0M520.3 667.3h0M521.3 667.4h0M522.4 667.4h0M523.4 667.8h0M524.5 668.0h0M525.5 667.4h0M526.6 667.4h0M527.6 667.6h0M528.7 667.9h0M529.7 667.5h0M530.8 667.3h0M531.8 666.9h0M532.9 666.0h0M533.9 664.9h0M535.0 664.9h0M536.0 666.1h0M537.1 666.9h0M538.1 667.3h0M539.2 667.8h0M540.2 667.7h0M541.3 667.7h0M542.3 667.3h0M543.4 667.9h0M544.4 667.9h0M545.5 667.3h0M546.5 667.7h0M547.6 667.8h0M548.6 667.8h0M549.7 667.4h0M550.7 667.7h0M551.8 667.7h0M552.8 667.4h0M553.9 667.7h0M554.9 667.3h0M556.0 667.3h0M557.0 667.8h0M558.1 667.5h0M559.1 666.4h0M560.2 665.3h0M561.2 663.7h0M562.3 664.5h0M563.0 666.0h0M564.0 666.8h0M565.1 667.7h0M566.1 667.4h0M567.2 667.6h0M568.2 667.4h0M569.3 667.8h0M570.3 667.7h0M571.4 667.5h0M572.4 667.9h0M573.5 667.3h0M574.5 667.6h0M575.6 667.7h0M576.6 667.8h0M577.7 667.6h0M578.7 667.6h0M579.8 667.3h0" fill="none" stroke="#000" stroke-width="3.5" stroke-linecap="round"/>
<path d="M204.0,683.5 L204.5,683.3 L205.0,683.6 L205.5,683.6 L206.0,683.5 L206.5,683.1 L207.0,683.5 L207.5,683.3 L208.0,683.3 L208.5,683.7 L209.0,683.4 L209.5,683.6 L210.0,683.3 L210.5,683.5 L211.0,683.5 L211.5,683.5 L212.0,683.6 L212.5,683.3 L213.0,683.4 L213.5,683.5 L214.0,683.1 L214.5,683.2 L215.0,683.6 L215.5,683.5 L216.0,683.4 L216.5,683.4 L217.0,683.6 L217.5,683.3 L218.0,683.3 L218.5,683.4 L219.0,683.5 L219.5,683.2 L220.0,683.1 L220.5,683.7 L221.0,683.1 L221.5,683.5 L222.0,683.1 L222.5,683.4 L223.0,683.4 L223.5,683.6 L224.0,683.4 L224.5,683.2 L225.0,683.5 L225.5,683.1 L226.0,683.4 L226.5,683.2 L227.0,683.2 L227.5,683.6 L228.0,683.4 L228.5,683.4 L229.0,683.3 L229.5,683.1 L230.0,683.4 L230.5,683.2 L231.0,683.4 L231.5,683.6 L232.0,683.6 L232.5,683.4 L233.0,683.6 L233.5,683.3 L234.0,683.4 L234.5,683.7 L235.0,683.2 L235.5,683.3 L236.0,683.4 L236.5,683.6 L237.0,683.4 L237.5,683.2 L238.0,683.6 L238.5,683.4 L239.0,683.3 L239.5,683.4 L240.0,683.6 L240.5,683.6 L241.0,683.1 L241.5,683.7 L242.0,683.4 L242.5,683.4 L243.0,683.6 L243.5,683.1 L244.0,683.4 L244.5,683.1 L245.0,683.7 L245.5,683.2 L246.0,683.5 L246.5,683.4 L247.0,683.6 L247.5,683.6 L248.0,683.4 L248.5,683.1 L249.0,683.6 L249.5,683.5 L250.0,683.2 L250.5,683.2 L251.0,683.1 L251.5,683.7 L252.0,683.2 L252.5,683.5 L253.0,683.1 L253.5,683.6 L254.0,683.3 L254.5,683.4 L255.0,683.2 L255.5,683.7 L256.0,683.2 L256.5,683.4 L257.0,683.2 L257.5,683.5 L258.0,683.5 L258.5,683.5 L259.0,683.7 L259.5,683.2 L260.0,683.5 L260.5,683.5 L261.0,683.2 L261.5,683.2 L262.0,683.4 L262.5,683.6 L263.0,683.3 L263.5,683.6 L264.0,683.5 L264.5,683.4 L265.0,683.4 L265.5,683.5 L266.0,683.6 L266.5,683.5 L267.0,683.2 L267.5,683.4 L268.0,683.6 L268.5,683.2 L269.0,683.2 L269.5,683.2 L270.0,683.4 L270.5,683.4 L271.0,683.7 L271.5,683.4 L272.0,683.3 L272.5,683.4 L273.0,683.7 L273.5,683.4 L274.0,683.6 L274.5,683.2 L275.0,683.5 L275.5,683.5 L276.0,684.1 L276.5,684.9 L276.8,681.7 L277.0,684.5 L277.5,681.2 L278.0,680.8 L278.2,678.9 L278.5,683.4 L278.8,684.9 L279.2,682.4 L279.5,687.3 L279.8,685.7 L280.0,688.7 L280.2,686.0 L280.5,683.4 L281.0,682.9 L281.5,682.2 L282.0,683.2 L282.5,683.5 L283.0,683.4 L283.5,683.2 L284.0,683.2 L284.5,683.5 L285.0,683.5 L285.5,683.1 L286.0,683.2 L286.5,683.4 L287.0,683.1 L287.5,683.1 L288.0,683.6 L288.5,683.6 L289.0,683.3 L289.5,683.6 L290.0,683.7 L290.5,683.5 L291.0,683.2 L291.5,683.3 L292.0,683.4 L292.5,683.9 L293.0,684.4 L293.5,683.5 L294.0,681.7 L294.2,680.4 L294.8,681.0 L295.0,679.2 L295.2,683.1 L295.5,686.6 L296.0,685.9 L296.2,688.1 L296.8,686.7 L297.0,683.7 L297.5,682.9 L298.0,682.4 L298.5,682.9 L299.0,683.3 L299.5,683.7 L300.0,683.2 L300.5,683.5 L301.0,683.1 L301.5,683.1 L302.0,683.5 L302.5,683.2 L303.0,683.5 L303.5,684.2 L304.0,684.2 L304.5,685.4 L305.0,682.8 L305.2,684.9 L305.5,679.3 L305.8,681.3 L306.0,678.4 L306.2,684.3 L306.5,672.7 L306.8,688.0 L307.0,678.4 L307.2,692.9 L307.5,682.8 L307.8,689.1 L308.0,691.8 L308.2,687.6 L308.5,684.5 L308.8,688.7 L309.0,681.0 L309.5,680.4 L309.8,681.9 L310.2,683.6 L310.8,683.5 L311.2,683.5 L311.8,683.7 L312.2,683.4 L312.8,683.2 L313.2,683.1 L313.8,683.7 L314.2,683.1 L314.8,683.1 L315.2,683.2 L315.8,683.4 L316.2,683.5 L316.8,683.4 L317.2,683.5 L317.8,683.4 L318.2,683.7 L318.8,683.6 L319.2,683.6 L319.8,683.6 L320.2,683.5 L320.8,683.3 L321.2,683.3 L321.8,683.3 L322.2,683.3 L322.8,683.3 L323.2,683.7 L323.8,683.5 L324.2,683.5 L324.8,683.6 L325.2,683.6 L325.8,683.7 L326.2,683.4 L326.8,683.1 L327.2,683.3 L327.8,683.3 L328.2,683.6 L328.8,683.5 L329.2,683.1 L329.8,683.6 L330.2,683.6 L330.8,683.3 L331.2,683.1 L331.8,683.4 L332.2,683.3 L332.8,683.5 L333.2,683.2 L333.8,683.3 L334.2,683.1 L334.8,683.6 L335.2,683.6 L335.8,683.5 L336.2,683.6 L336.8,683.2 L337.2,683.1 L337.8,683.2 L338.2,683.4 L338.8,683.5 L339.2,683.3 L339.8,683.2 L340.2,683.6 L340.8,683.3 L341.2,683.1 L341.8,683.4 L342.2,683.2 L342.8,683.6 L343.2,683.2 L343.8,683.5 L344.2,683.6 L344.8,683.1 L345.2,683.2 L345.8,683.2 L346.2,683.3 L346.8,683.3 L347.2,683.3 L347.8,683.6 L348.2,683.6 L348.8,683.6 L349.2,683.4 L349.8,683.4 L350.2,683.3 L350.8,683.3 L351.2,683.5 L351.8,683.7 L352.2,683.2 L352.8,683.1 L353.2,683.6 L353.8,683.2 L354.2,683.1 L354.8,683.6 L355.2,683.6 L355.8,683.4 L356.2,683.3 L356.8,683.5 L357.2,683.6 L357.8,683.5 L358.2,683.5 L358.8,683.2 L359.2,683.3 L359.8,683.1 L360.2,683.2 L360.8,683.4 L361.2,683.6 L361.8,683.6 L362.2,683.6 L362.8,683.5 L363.2,683.3 L363.8,683.4 L364.2,683.5 L364.8,683.1 L365.2,683.4 L365.8,683.3 L366.2,683.3 L366.8,683.3 L367.2,683.7 L367.8,683.3 L368.2,683.3 L368.8,683.3 L369.2,683.4 L369.8,683.5 L370.2,683.6 L370.8,683.4 L371.2,683.2 L371.8,683.2 L372.2,683.2 L372.8,683.1 L373.2,683.3 L373.8,683.7 L374.2,684.0 L374.8,683.4 L375.2,682.9 L375.8,683.2 L376.2,681.5 L376.8,682.9 L377.2,681.1 L377.5,683.8 L378.0,682.8 L378.5,684.6 L379.0,684.1 L379.5,684.8 L380.0,683.5 L380.5,683.5 L381.0,683.5 L381.5,683.3 L382.0,683.6 L382.5,683.7 L383.0,683.6 L383.5,683.7 L384.0,683.2 L384.5,683.6 L385.0,683.7 L385.5,683.3 L386.0,683.2 L386.5,683.2 L387.0,683.2 L387.5,683.6 L388.0,683.7 L388.5,683.3 L389.0,683.6 L389.5,683.6 L390.0,683.2 L390.5,683.2 L391.0,683.5 L391.5,683.3 L392.0,683.6 L392.5,683.6 L393.0,683.6 L393.5,683.5 L394.0,683.6 L394.5,683.6 L395.0,683.1 L395.5,683.3 L396.0,683.5 L396.5,683.6 L397.0,683.4 L397.5,683.5 L398.0,683.1 L398.5,683.2 L399.0,683.1 L399.5,683.3 L400.0,683.3 L400.5,683.4 L401.0,683.5 L401.5,683.4 L402.0,683.4 L402.5,683.1 L403.0,683.6 L403.5,683.6 L404.0,683.6 L404.5,683.3 L405.0,683.3 L405.5,683.3 L406.0,683.5 L406.5,683.2 L407.0,683.4 L407.5,683.3 L408.0,683.2 L408.5,683.2 L409.0,683.5 L409.5,683.7 L410.0,683.2 L410.5,683.2 L411.0,683.5 L411.5,683.6 L412.0,683.6 L412.5,683.3 L413.0,683.2 L413.5,683.3 L414.0,683.2 L414.5,683.4 L415.0,683.4 L415.5,683.4 L416.0,683.2 L416.5,683.2 L417.0,683.5 L417.5,683.4 L418.0,683.5 L418.5,683.5 L419.0,683.1 L419.5,683.6 L420.0,683.2 L420.5,683.5 L421.0,683.5 L421.5,683.4 L422.0,683.7 L422.5,683.2 L423.0,683.6 L423.5,683.4 L424.0,683.6 L424.5,683.3 L425.0,683.4 L425.5,683.4 L426.0,683.2 L426.5,683.3 L427.0,683.6 L427.5,683.7 L428.0,683.7 L428.5,683.7 L429.0,683.2 L429.5,683.6 L430.0,683.1 L430.5,683.4 L431.0,683.5 L431.5,684.1 L432.0,683.1 L432.5,683.9 L433.0,682.4 L433.5,683.7 L434.0,682.7 L434.5,682.9 L435.0,685.8 L435.5,686.3 L435.8,683.1 L436.0,684.4 L436.2,683.1 L436.8,683.4 L437.2,683.1 L437.8,683.0 L438.2,683.3 L438.8,683.5 L439.2,683.7 L439.8,683.2 L440.2,683.5 L440.8,683.3 L441.2,683.5 L441.8,683.5 L442.2,683.6 L442.8,683.4 L443.2,683.3 L443.8,683.4 L444.2,683.7 L444.8,683.4 L445.2,683.4 L445.8,683.1 L446.2,683.5 L446.8,683.4 L447.2,683.4 L447.8,683.2 L448.2,683.6 L448.8,683.3 L449.2,683.6 L449.8,683.5 L450.2,683.5 L450.8,683.2 L451.2,683.2 L451.8,683.1 L452.2,683.4 L452.8,683.5 L453.2,683.4 L453.8,683.5 L454.2,683.2 L454.8,683.3 L455.2,683.6 L455.8,683.3 L456.2,683.4 L456.8,683.4 L457.2,683.3 L457.8,683.1 L458.2,683.7 L458.8,683.6 L459.2,683.4 L459.8,683.2 L460.2,683.4 L460.8,683.6 L461.2,683.6 L461.8,683.6 L462.2,683.5 L462.8,683.3 L463.2,683.2 L463.8,683.2 L464.2,683.3 L464.8,683.2 L465.2,683.4 L465.8,683.3 L466.2,683.3 L466.8,683.6 L467.2,683.2 L467.8,683.3 L468.2,683.1 L468.8,683.5 L469.2,683.2 L469.8,683.8 L470.2,683.3 L470.8,683.5 L471.2,683.2 L471.8,683.6 L472.0,682.2 L472.5,681.3 L472.8,684.0 L473.2,685.1 L473.5,683.1 L473.8,684.9 L474.2,684.6 L474.8,684.4 L475.0,682.8 L475.5,682.9 L476.0,683.0 L476.5,683.2 L477.0,683.3 L477.5,683.3 L478.0,683.7 L478.5,683.2 L479.0,683.4 L479.5,683.4 L480.0,683.7 L480.5,683.4 L481.0,683.2 L481.5,683.2 L482.0,683.7 L482.5,683.2 L483.0,683.4 L483.5,683.1 L484.0,683.1 L484.5,683.2 L485.0,683.2 L485.5,683.6 L486.0,683.4 L486.5,683.3 L487.0,683.5 L487.5,683.3 L488.0,683.2 L488.5,683.3 L489.0,683.2 L489.5,683.2 L490.0,683.2 L490.5,683.4 L491.0,683.6 L491.5,683.7 L492.0,683.6 L492.5,683.5 L493.0,683.2 L493.5,683.0 L494.0,683.3 L494.5,683.3 L495.0,683.8 L495.5,683.8 L496.0,683.3 L496.5,684.2 L497.0,683.5 L497.5,683.3 L498.0,683.1 L498.5,683.5 L499.0,683.1 L499.5,683.5 L500.0,683.4 L500.5,683.3 L501.0,683.6 L501.5,683.7 L502.0,683.5 L502.5,683.6 L503.0,683.7 L503.5,683.8 L503.8,681.9 L504.2,681.2 L504.8,682.3 L505.2,682.9 L505.8,684.7 L506.2,685.5 L506.5,683.2 L506.8,685.4 L507.0,683.4 L507.5,684.4 L508.0,683.6 L508.5,682.7 L509.0,683.5 L509.5,683.4 L510.0,684.1 L510.5,683.0 L511.0,682.6 L511.5,682.1 L512.0,683.2 L512.5,683.5 L513.0,684.4 L513.5,684.9 L514.0,684.3 L514.5,683.9 L515.0,683.0 L515.5,683.1 L516.0,683.3 L516.5,683.5 L517.0,683.1 L517.5,683.2 L518.0,683.4 L518.5,683.6 L519.0,683.7 L519.5,683.7 L520.0,683.6 L520.5,683.7 L521.0,683.3 L521.5,683.3 L522.0,683.7 L522.5,683.2 L523.0,683.7 L523.5,683.3 L524.0,683.3 L524.5,683.4 L525.0,683.7 L525.5,683.2 L526.0,683.2 L526.5,683.5 L527.0,683.5 L527.5,683.5 L528.0,683.6 L528.5,683.5 L529.0,683.6 L529.5,683.2 L530.0,683.5 L530.5,683.7 L531.0,683.1 L531.5,683.1 L532.0,683.8 L532.5,682.8 L533.0,683.5 L533.5,682.3 L534.0,682.6 L534.5,682.9 L535.0,683.7 L535.5,683.1 L536.0,684.0 L536.5,683.2 L537.0,683.4 L537.5,683.5 L538.0,683.2 L538.5,683.0 L539.0,683.5 L539.5,683.3 L540.0,683.4 L540.5,683.2 L541.0,683.2 L541.5,683.1 L542.0,683.6 L542.5,683.6 L543.0,683.2 L543.5,683.4 L544.0,683.4 L544.5,683.4 L545.0,683.6 L545.5,683.5 L546.0,683.2 L546.5,683.6 L547.0,683.2 L547.5,683.6 L548.0,683.7 L548.5,683.4 L549.0,683.6 L549.5,683.4 L550.0,683.4 L550.5,683.5 L551.0,683.5 L551.5,683.4 L552.0,683.6 L552.5,683.7 L553.0,683.3 L553.5,683.7 L554.0,683.3 L554.5,683.5 L555.0,683.4 L555.5,683.6 L556.0,683.5 L556.5,683.6 L557.0,683.7 L557.5,683.3 L558.0,683.4 L558.5,683.1 L559.0,683.5 L559.5,683.3 L560.0,683.4 L560.5,683.4 L561.0,682.7 L561.5,683.2 L562.0,683.9 L562.5,683.8 L563.0,683.8 L563.5,683.9 L564.0,683.3 L564.5,683.6 L565.0,683.5 L565.5,683.1 L566.0,683.3 L566.5,683.2 L567.0,683.7 L567.5,683.6 L568.0,683.6 L568.5,683.7 L569.0,683.4 L569.5,683.5 L570.0,683.7 L570.5,683.6 L571.0,683.4 L571.5,683.6 L572.0,683.4 L572.5,683.3 L573.0,683.6 L573.5,683.3 L574.0,683.6 L574.5,683.2 L575.0,683.5 L575.5,683.6 L576.0,683.6 L576.5,683.5 L577.0,683.3 L577.5,683.4 L578.0,683.3 L578.5,683.7 L579.0,683.4 L579.5,683.1 L580.0,683.3" fill="none" stroke="#35359a" stroke-width="1.1" stroke-linejoin="round"/>
<path d="M204.0,807.6 L204.5,807.6 L205.0,807.6 L205.5,807.6 L206.0,807.6 L206.5,807.6 L207.0,807.6 L207.5,807.6 L208.0,807.6 L208.5,807.5 L209.0,807.5 L209.5,807.5 L210.0,807.5 L210.5,807.5 L211.0,807.5 L211.5,807.5 L212.0,807.5 L212.5,807.5 L213.0,807.5 L213.5,807.5 L214.0,807.5 L214.5,807.5 L215.0,807.5 L215.5,807.5 L216.0,807.5 L216.5,807.5 L217.0,807.5 L217.5,807.5 L218.0,807.5 L218.5,807.5 L219.0,807.5 L219.5,807.5 L220.0,807.5 L220.5,807.5 L221.0,807.5 L221.5,807.4 L222.0,807.4 L222.5,807.4 L223.0,807.4 L223.5,807.4 L224.0,807.4 L224.5,807.4 L225.0,807.4 L225.5,807.4 L226.0,807.4 L226.5,807.4 L227.0,807.4 L227.5,807.4 L228.0,807.4 L228.5,807.4 L229.0,807.4 L229.5,807.4 L230.0,807.4 L230.5,807.4 L231.0,807.4 L231.5,807.4 L232.0,807.4 L232.5,807.4 L233.0,807.4 L233.5,807.4 L234.0,807.3 L234.5,807.3 L235.0,807.3 L235.5,807.3 L236.0,807.3 L236.5,807.3 L237.0,807.3 L237.5,807.3 L238.0,807.3 L238.5,807.3 L239.0,807.3 L239.5,807.3 L240.0,807.3 L240.5,807.3 L241.0,807.3 L241.5,807.3 L242.0,807.3 L242.5,807.3 L243.0,807.3 L243.5,807.3 L244.0,807.3 L244.5,807.3 L245.0,807.3 L245.5,807.2 L246.0,807.2 L246.5,807.2 L247.0,807.2 L247.5,807.2 L248.0,807.2 L248.5,807.2 L249.0,807.2 L249.5,807.2 L250.0,807.2 L250.5,807.2 L251.0,807.2 L251.5,807.2 L252.0,807.2 L252.5,807.2 L253.0,807.2 L253.5,807.2 L254.0,807.2 L254.5,807.2 L255.0,807.1 L255.5,807.1 L256.0,807.1 L256.4,807.1 L256.8,807.1 L257.2,807.1 L257.6,807.1 L258.0,807.1 L258.4,807.1 L258.8,807.1 L259.2,807.1 L259.6,807.1 L260.0,807.1 L260.4,807.1 L260.8,807.1 L261.2,807.1 L261.6,807.1 L262.0,807.0 L262.4,807.0 L262.8,807.0 L263.2,807.0 L263.6,807.0 L264.0,807.0 L264.4,807.0 L264.8,807.0 L265.2,807.0 L265.6,807.0 L266.0,807.0 L266.4,806.9 L266.8,806.9 L267.2,806.9 L267.6,806.9 L268.0,806.9 L268.4,806.9 L268.8,806.8 L269.2,806.8 L269.6,806.8 L270.0,806.8 L270.4,806.7 L270.8,806.7 L271.2,806.7 L271.6,806.6 L272.0,806.6 L272.4,806.5 L272.8,806.5 L273.2,806.4 L273.6,806.3 L274.0,806.2 L274.4,806.1 L274.8,806.0 L275.2,805.7 L275.6,805.4 L276.0,804.9 L276.4,803.8 L276.7,802.4 L276.9,801.0 L277.1,799.1 L277.3,796.7 L277.4,795.2 L277.5,793.6 L277.6,791.8 L277.7,789.8 L277.8,787.6 L277.9,785.3 L278.0,782.9 L278.1,780.3 L278.2,777.6 L278.3,774.9 L278.4,772.1 L278.5,769.3 L278.6,766.6 L278.7,764.0 L278.8,761.5 L278.9,759.3 L279.0,757.4 L279.1,755.8 L279.3,754.0 L279.7,755.8 L279.8,757.4 L279.9,759.3 L280.0,761.5 L280.1,763.9 L280.2,766.5 L280.3,769.2 L280.4,771.9 L280.5,774.7 L280.6,777.4 L280.7,780.1 L280.8,782.6 L280.9,785.0 L281.0,787.3 L281.1,789.4 L281.2,791.3 L281.3,793.1 L281.4,794.6 L281.5,796.0 L281.6,797.2 L281.8,799.2 L282.0,800.6 L282.3,801.8 L282.7,802.3 L283.1,802.0 L283.5,801.4 L283.9,801.0 L284.3,800.8 L284.7,801.2 L285.1,802.0 L285.5,802.9 L285.9,803.9 L286.3,804.6 L286.7,805.2 L287.1,805.6 L287.5,805.8 L287.9,805.9 L288.3,806.0 L288.7,806.0 L289.1,806.0 L289.5,806.0 L289.9,806.0 L290.3,805.9 L290.7,805.8 L291.1,805.7 L291.5,805.6 L291.9,805.4 L292.3,805.2 L292.7,804.7 L293.1,803.8 L293.5,802.0 L293.7,800.7 L293.9,798.9 L294.1,796.6 L294.2,795.2 L294.3,793.7 L294.4,792.0 L294.5,790.2 L294.6,788.3 L294.7,786.2 L294.8,784.0 L294.9,781.8 L295.0,779.5 L295.1,777.1 L295.2,774.8 L295.3,772.5 L295.4,770.3 L295.5,768.3 L295.6,766.4 L295.7,764.8 L295.8,763.5 L296.0,761.9 L296.4,763.4 L296.5,764.7 L296.6,766.2 L296.7,768.1 L296.8,770.1 L296.9,772.2 L297.0,774.5 L297.1,776.8 L297.2,779.1 L297.3,781.4 L297.4,783.6 L297.5,785.7 L297.6,787.7 L297.7,789.6 L297.8,791.4 L297.9,793.0 L298.0,794.5 L298.1,795.8 L298.3,798.0 L298.5,799.7 L298.7,801.0 L299.1,802.4 L299.5,802.8 L299.9,802.4 L300.3,801.1 L300.6,799.2 L300.8,797.3 L301.0,794.8 L301.1,793.4 L301.2,791.7 L301.3,789.8 L301.4,787.8 L301.5,785.6 L301.6,783.2 L301.7,780.7 L301.8,778.1 L301.9,775.3 L302.0,772.5 L302.1,769.6 L302.2,766.7 L302.3,763.9 L302.4,761.2 L302.5,758.7 L302.6,756.4 L302.7,754.4 L302.8,752.8 L302.9,751.5 L303.3,751.3 L303.5,754.0 L303.6,755.8 L303.7,758.0 L303.8,760.4 L303.9,762.9 L304.0,765.6 L304.1,768.2 L304.2,770.9 L304.3,773.5 L304.4,775.9 L304.5,778.2 L304.6,780.4 L304.7,782.2 L304.8,783.9 L304.9,785.2 L305.1,786.8 L305.5,785.7 L305.6,784.3 L305.7,782.6 L305.8,780.3 L305.9,777.7 L306.0,774.6 L306.1,771.1 L306.2,767.1 L306.3,762.9 L306.4,758.3 L306.5,753.5 L306.6,748.5 L306.7,743.4 L306.8,738.4 L306.9,733.4 L307.0,728.8 L307.1,724.5 L307.2,720.8 L307.3,717.7 L307.4,715.4 L307.5,714.1 L307.8,715.6 L307.9,718.0 L308.0,721.2 L308.1,725.0 L308.2,729.4 L308.3,734.2 L308.4,739.2 L308.5,744.4 L308.6,749.7 L308.7,754.9 L308.8,759.9 L308.9,764.8 L309.0,769.4 L309.1,773.6 L309.2,777.6 L309.3,781.2 L309.4,784.4 L309.5,787.3 L309.6,789.9 L309.7,792.1 L309.8,794.0 L309.9,795.7 L310.0,797.1 L310.1,798.3 L310.3,800.2 L310.5,801.5 L310.8,802.8 L311.2,803.7 L311.6,804.2 L312.0,804.6 L312.4,804.8 L312.8,805.0 L313.2,805.1 L313.6,805.3 L314.0,805.3 L314.4,805.4 L314.8,805.5 L315.2,805.5 L315.6,805.5 L316.0,805.5 L316.4,805.5 L316.8,805.4 L317.2,805.4 L317.6,805.3 L318.0,805.1 L318.4,805.0 L318.8,804.7 L319.2,804.2 L319.6,803.3 L320.0,801.8 L320.3,800.2 L320.5,798.7 L320.7,796.9 L320.9,794.8 L321.0,793.6 L321.1,792.2 L321.2,790.8 L321.3,789.3 L321.4,787.7 L321.5,786.0 L321.6,784.2 L321.7,782.3 L321.8,780.3 L321.9,778.3 L322.0,776.3 L322.1,774.2 L322.2,772.1 L322.3,770.0 L322.4,768.0 L322.5,766.0 L322.6,764.0 L322.7,762.2 L322.8,760.5 L322.9,758.9 L323.0,757.6 L323.2,755.5 L323.5,754.3 L323.8,755.5 L324.0,757.6 L324.1,759.0 L324.2,760.5 L324.3,762.2 L324.4,764.1 L324.5,766.0 L324.6,768.0 L324.7,770.1 L324.8,772.2 L324.9,774.3 L325.0,776.4 L325.1,778.4 L325.2,780.4 L325.3,782.4 L325.4,784.3 L325.5,786.1 L325.6,787.8 L325.7,789.4 L325.8,790.9 L325.9,792.3 L326.0,793.7 L326.1,794.9 L326.3,797.1 L326.5,798.8 L326.7,800.3 L327.0,802.0 L327.4,803.4 L327.8,804.3 L328.2,804.8 L328.6,805.2 L329.0,805.4 L329.4,805.5 L329.8,805.7 L330.2,805.8 L330.6,805.9 L331.0,805.9 L331.4,806.0 L331.8,806.0 L332.2,806.1 L332.6,806.1 L333.0,806.2 L333.4,806.2 L333.8,806.2 L334.2,806.2 L334.6,806.3 L335.0,806.3 L335.4,806.3 L335.8,806.3 L336.2,806.3 L336.6,806.3 L337.0,806.4 L337.4,806.4 L337.8,806.4 L338.2,806.4 L338.6,806.4 L339.0,806.4 L339.4,806.4 L339.8,806.4 L340.2,806.4 L340.6,806.4 L341.0,806.4 L341.4,806.4 L341.8,806.4 L342.2,806.4 L342.6,806.4 L343.0,806.4 L343.4,806.4 L343.8,806.4 L344.2,806.4 L344.6,806.4 L345.0,806.4 L345.4,806.4 L345.8,806.4 L346.2,806.4 L346.6,806.4 L347.0,806.4 L347.4,806.4 L347.8,806.4 L348.2,806.4 L348.6,806.4 L349.0,806.4 L349.4,806.4 L349.8,806.4 L350.2,806.4 L350.6,806.4 L351.0,806.4 L351.4,806.4 L351.8,806.4 L352.2,806.4 L352.6,806.4 L353.0,806.4 L353.4,806.4 L353.8,806.4 L354.2,806.4 L354.6,806.4 L355.0,806.4 L355.4,806.4 L355.8,806.4 L356.2,806.4 L356.6,806.4 L357.0,806.4 L357.4,806.4 L357.8,806.4 L358.2,806.4 L358.6,806.4 L359.0,806.4 L359.4,806.4 L359.8,806.4 L360.2,806.4 L360.6,806.4 L361.0,806.4 L361.4,806.4 L361.8,806.4 L362.2,806.4 L362.6,806.4 L363.0,806.4 L363.4,806.4 L363.8,806.3 L364.2,806.3 L364.6,806.3 L365.0,806.3 L365.4,806.3 L365.8,806.3 L366.2,806.3 L366.6,806.3 L367.0,806.3 L367.4,806.3 L367.8,806.3 L368.2,806.3 L368.6,806.3 L369.0,806.3 L369.4,806.2 L369.8,806.2 L370.2,806.2 L370.6,806.2 L371.0,806.2 L371.4,806.2 L371.8,806.2 L372.2,806.1 L372.6,806.1 L373.0,806.1 L373.4,806.0 L373.8,806.0 L374.2,805.9 L374.6,805.8 L375.0,805.7 L375.4,805.5 L375.8,805.2 L376.2,804.4 L376.6,802.7 L376.8,801.3 L377.0,799.6 L377.2,797.5 L377.3,796.3 L377.4,795.0 L377.5,793.7 L377.6,792.3 L377.7,790.9 L377.8,789.5 L377.9,788.2 L378.0,787.0 L378.2,785.0 L378.5,783.8 L378.8,785.0 L379.0,786.9 L379.1,788.1 L379.2,789.4 L379.3,790.8 L379.4,792.2 L379.5,793.5 L379.6,794.9 L379.7,796.1 L379.9,798.4 L380.1,800.3 L380.3,801.8 L380.6,803.3 L381.0,804.3 L381.4,804.6 L381.8,804.4 L382.2,803.7 L382.6,802.6 L382.9,801.4 L383.2,799.9 L383.5,798.2 L383.8,796.4 L384.1,794.7 L384.4,793.5 L384.8,792.8 L385.2,793.5 L385.5,794.8 L385.8,796.5 L386.0,797.7 L386.2,798.9 L386.5,800.6 L386.8,802.0 L387.2,803.5 L387.6,804.5 L388.0,805.1 L388.4,805.5 L388.8,805.7 L389.2,805.8 L389.6,805.9 L390.0,805.9 L390.4,805.9 L390.8,806.0 L391.2,806.0 L391.6,806.0 L392.0,806.0 L392.4,806.0 L392.8,806.0 L393.2,806.1 L393.6,806.1 L394.0,806.1 L394.4,806.1 L394.8,806.1 L395.2,806.1 L395.6,806.1 L396.0,806.1 L396.4,806.1 L396.8,806.1 L397.2,806.1 L397.6,806.1 L398.0,806.1 L398.4,806.1 L398.8,806.1 L399.2,806.1 L399.6,806.1 L400.0,806.1 L400.4,806.1 L400.8,806.1 L401.2,806.1 L401.6,806.1 L402.0,806.1 L402.4,806.0 L402.8,806.0 L403.2,806.0 L403.6,806.0 L404.0,806.0 L404.4,806.0 L404.8,806.0 L405.2,806.0 L405.6,806.0 L406.0,806.0 L406.4,806.0 L406.8,806.0 L407.2,805.9 L407.6,805.9 L408.0,805.9 L408.4,805.9 L408.8,805.8 L409.2,805.8 L409.6,805.7 L410.0,805.6 L410.4,805.5 L410.8,805.3 L411.2,805.1 L411.6,804.9 L412.0,804.6 L412.4,804.3 L412.8,803.9 L413.2,803.5 L413.6,803.1 L414.0,802.7 L414.4,802.3 L414.8,802.0 L415.2,801.7 L415.6,801.5 L416.0,801.4 L416.4,801.5 L416.8,801.7 L417.2,801.9 L417.6,802.3 L418.0,802.7 L418.4,803.1 L418.8,803.5 L419.2,803.9 L419.6,804.2 L420.0,804.6 L420.4,804.8 L420.8,805.1 L421.2,805.2 L421.6,805.4 L422.0,805.5 L422.4,805.6 L422.8,805.6 L423.2,805.7 L423.6,805.7 L424.0,805.7 L424.4,805.7 L424.8,805.7 L425.2,805.7 L425.6,805.7 L426.0,805.7 L426.4,805.7 L426.8,805.7 L427.2,805.7 L427.6,805.7 L428.0,805.7 L428.4,805.6 L428.8,805.6 L429.2,805.6 L429.6,805.5 L430.0,805.5 L430.4,805.4 L430.8,805.3 L431.2,805.1 L431.6,804.8 L432.0,804.2 L432.4,802.9 L432.7,801.1 L432.9,799.2 L433.1,796.9 L433.2,795.5 L433.3,794.0 L433.4,792.4 L433.5,790.6 L433.6,788.8 L433.7,786.9 L433.8,785.0 L433.9,783.2 L434.0,781.4 L434.1,779.7 L434.2,778.3 L434.3,777.1 L434.5,775.6 L434.9,777.1 L435.0,778.3 L435.1,779.7 L435.2,781.4 L435.3,783.2 L435.4,785.0 L435.5,786.9 L435.6,788.8 L435.7,790.6 L435.8,792.3 L435.9,794.0 L436.0,795.5 L436.1,796.9 L436.2,798.1 L436.4,800.2 L436.6,801.7 L436.9,803.3 L437.3,804.4 L437.7,804.8 L438.1,805.1 L438.5,805.2 L438.9,805.3 L439.3,805.3 L439.7,805.4 L440.1,805.4 L440.5,805.4 L440.9,805.3 L441.3,805.3 L441.7,805.1 L442.1,804.8 L442.5,804.4 L442.9,803.7 L443.3,802.8 L443.7,801.7 L444.1,800.5 L444.5,799.5 L444.9,798.9 L445.3,798.9 L445.7,799.5 L446.1,800.6 L446.5,801.7 L446.9,802.8 L447.3,803.7 L447.7,804.4 L448.1,804.9 L448.5,805.2 L448.9,805.4 L449.3,805.5 L449.7,805.5 L450.1,805.5 L450.5,805.6 L450.9,805.6 L451.3,805.6 L451.7,805.6 L452.1,805.6 L452.5,805.6 L452.9,805.6 L453.3,805.6 L453.7,805.6 L454.1,805.6 L454.5,805.6 L454.9,805.6 L455.3,805.6 L455.7,805.6 L456.1,805.6 L456.5,805.6 L456.9,805.6 L457.3,805.6 L457.7,805.6 L458.1,805.5 L458.5,805.5 L458.9,805.5 L459.3,805.5 L459.7,805.5 L460.1,805.4 L460.5,805.4 L460.9,805.4 L461.3,805.3 L461.7,805.2 L462.1,805.0 L462.5,804.8 L462.9,804.3 L463.3,803.6 L463.7,802.7 L464.1,801.4 L464.5,799.8 L464.8,798.5 L465.1,797.2 L465.5,795.8 L465.9,794.9 L466.3,794.9 L466.7,795.7 L467.1,797.2 L467.4,798.4 L467.7,799.7 L468.1,801.2 L468.5,802.5 L468.9,803.4 L469.3,804.0 L469.7,804.4 L470.1,804.6 L470.5,804.6 L470.9,804.5 L471.3,804.3 L471.7,803.7 L472.1,802.3 L472.4,800.4 L472.6,798.5 L472.8,796.2 L472.9,794.8 L473.0,793.4 L473.1,791.8 L473.2,790.2 L473.3,788.5 L473.4,786.9 L473.5,785.2 L473.6,783.6 L473.7,782.2 L473.8,780.9 L474.0,779.0 L474.4,779.0 L474.6,780.9 L474.7,782.2 L474.8,783.6 L474.9,785.2 L475.0,786.9 L475.1,788.6 L475.2,790.3 L475.3,791.9 L475.4,793.4 L475.5,794.9 L475.6,796.2 L475.7,797.5 L475.9,799.6 L476.1,801.2 L476.4,802.8 L476.8,804.0 L477.2,804.5 L477.6,804.8 L478.0,804.9 L478.4,805.0 L478.8,805.1 L479.2,805.1 L479.6,805.1 L480.0,805.2 L480.4,805.2 L480.8,805.2 L481.2,805.2 L481.6,805.2 L482.0,805.2 L482.4,805.2 L482.8,805.2 L483.2,805.2 L483.6,805.2 L484.0,805.2 L484.4,805.2 L484.8,805.2 L485.2,805.1 L485.6,805.1 L486.0,805.1 L486.4,805.0 L486.8,804.9 L487.2,804.8 L487.6,804.7 L488.0,804.5 L488.4,804.3 L488.8,803.9 L489.2,803.5 L489.6,802.9 L490.0,802.2 L490.4,801.3 L490.8,800.2 L491.2,799.0 L491.6,797.6 L492.0,796.2 L492.4,794.8 L492.8,793.4 L493.2,792.3 L493.6,791.4 L494.0,790.9 L494.4,790.9 L494.8,791.4 L495.2,792.2 L495.6,793.4 L496.0,794.7 L496.4,796.2 L496.8,797.6 L497.2,798.9 L497.6,800.1 L498.0,801.2 L498.4,802.0 L498.8,802.7 L499.2,803.3 L499.6,803.7 L500.0,804.0 L500.4,804.2 L500.8,804.4 L501.2,804.5 L501.6,804.5 L502.0,804.5 L502.4,804.5 L502.8,804.4 L503.2,804.2 L503.6,803.8 L504.0,803.0 L504.3,801.7 L504.5,800.4 L504.7,798.7 L504.9,796.4 L505.0,795.1 L505.1,793.6 L505.2,792.0 L505.3,790.4 L505.4,788.6 L505.5,786.8 L505.6,785.0 L505.7,783.2 L505.8,781.4 L505.9,779.8 L506.0,778.4 L506.2,776.4 L506.6,776.4 L506.8,778.4 L506.9,779.8 L507.0,781.4 L507.1,783.1 L507.2,784.9 L507.3,786.8 L507.4,788.6 L507.5,790.3 L507.6,792.0 L507.7,793.6 L507.8,795.0 L507.9,796.4 L508.1,798.6 L508.3,800.3 L508.5,801.6 L508.8,802.8 L509.2,803.6 L509.6,803.8 L510.0,803.7 L510.4,803.2 L510.8,802.5 L511.2,801.3 L511.6,799.7 L511.9,798.3 L512.2,796.7 L512.5,795.2 L512.8,793.9 L513.2,792.9 L513.6,792.9 L514.0,794.0 L514.3,795.3 L514.6,796.9 L514.9,798.5 L515.2,799.9 L515.5,801.2 L515.9,802.6 L516.3,803.5 L516.7,804.1 L517.1,804.5 L517.5,804.7 L517.9,804.8 L518.3,804.9 L518.7,804.9 L519.1,805.0 L519.5,805.0 L519.9,805.0 L520.3,805.0 L520.7,805.1 L521.1,805.1 L521.5,805.1 L521.9,805.1 L522.3,805.1 L522.7,805.1 L523.1,805.1 L523.5,805.1 L523.9,805.1 L524.3,805.1 L524.7,805.1 L525.1,805.1 L525.5,805.1 L525.9,805.1 L526.3,805.1 L526.7,805.1 L527.1,805.1 L527.5,805.1 L527.9,805.1 L528.3,805.1 L528.7,805.0 L529.1,805.0 L529.5,805.0 L529.9,804.9 L530.3,804.8 L530.7,804.6 L531.1,804.4 L531.5,804.0 L531.9,803.6 L532.3,803.1 L532.7,802.5 L533.1,801.8 L533.5,801.2 L533.9,800.7 L534.3,800.5 L534.7,800.5 L535.1,800.7 L535.5,801.2 L535.9,801.8 L536.3,802.5 L536.7,803.1 L537.1,803.6 L537.5,804.0 L537.9,804.3 L538.3,804.6 L538.7,804.7 L539.1,804.8 L539.5,804.9 L539.9,804.9 L540.3,805.0 L540.7,805.0 L541.1,805.0 L541.5,805.0 L541.9,805.0 L542.3,805.0 L542.7,805.0 L543.1,805.0 L543.5,805.0 L543.9,805.0 L544.3,804.9 L544.7,804.9 L545.1,804.9 L545.5,804.9 L545.9,804.8 L546.3,804.7 L546.7,804.6 L547.1,804.4 L547.5,804.2 L547.9,803.9 L548.3,803.5 L548.7,803.0 L549.1,802.4 L549.5,801.8 L549.9,801.2 L550.3,800.6 L550.7,800.2 L551.1,800.0 L551.5,800.0 L551.9,800.2 L552.3,800.6 L552.7,801.2 L553.1,801.8 L553.5,802.4 L553.9,803.0 L554.3,803.4 L554.7,803.8 L555.1,804.1 L555.5,804.4 L555.9,804.5 L556.3,804.6 L556.7,804.7 L557.1,804.7 L557.5,804.7 L557.9,804.7 L558.3,804.6 L558.7,804.5 L559.1,804.3 L559.5,804.1 L559.9,803.8 L560.3,803.4 L560.7,802.9 L561.1,802.5 L561.5,802.0 L561.9,801.7 L562.3,801.5 L562.7,801.5 L563.1,801.7 L563.5,802.0 L563.9,802.5 L564.3,803.0 L564.7,803.4 L565.1,803.8 L565.5,804.1 L565.9,804.4 L566.3,804.5 L566.7,804.7 L567.1,804.7 L567.5,804.8 L567.9,804.8 L568.3,804.8 L568.7,804.9 L569.1,804.9 L569.5,804.9 L569.9,804.9 L570.3,804.9 L570.7,804.9 L571.1,804.9 L571.5,804.9 L571.9,804.9 L572.3,804.9 L572.7,804.9 L573.1,804.9 L573.5,804.9 L573.9,804.9 L574.3,804.9 L574.7,804.9 L575.1,804.9 L575.5,804.9 L575.9,804.9 L576.3,804.9 L576.7,804.9 L577.1,804.9 L577.5,804.9 L577.9,804.9 L578.3,804.9 L578.7,804.9 L579.1,804.9 L579.5,804.9 L579.9,804.9" fill="none" stroke="#3a9e9e" stroke-width="1.4" stroke-linejoin="round"/>
<path d="M204.2 807.6h0M205.2 807.4h0M206.3 807.3h0M207.3 807.3h0M208.4 807.2h0M209.4 807.3h0M210.5 807.7h0M211.5 807.6h0M212.6 807.9h0M213.6 807.2h0M214.7 807.2h0M215.7 807.4h0M216.8 807.2h0M217.8 807.3h0M218.9 807.2h0M219.9 807.1h0M221.0 807.1h0M222.0 807.3h0M223.1 807.4h0M224.1 807.3h0M225.2 807.6h0M226.2 807.2h0M227.3 807.4h0M228.3 807.5h0M229.4 807.6h0M230.4 807.7h0M231.5 807.3h0M232.5 807.1h0M233.6 807.2h0M234.6 807.5h0M235.7 807.3h0M236.7 807.6h0M237.8 807.1h0M238.8 807.4h0M239.9 807.1h0M240.9 807.6h0M242.0 807.3h0M243.0 807.1h0M244.1 807.2h0M245.1 807.5h0M246.2 807.2h0M247.2 807.0h0M248.3 807.5h0M249.3 807.5h0M250.4 806.9h0M251.4 807.0h0M252.5 807.2h0M253.5 807.3h0M254.6 807.3h0M255.6 807.5h0M256.7 807.4h0M257.7 806.8h0M258.8 807.4h0M259.8 807.1h0M260.9 806.9h0M261.9 807.4h0M263.0 806.7h0M264.0 806.9h0M265.1 807.1h0M266.1 806.7h0M267.2 806.6h0M268.2 806.9h0M269.3 806.8h0M270.4 806.7h0M271.4 806.6h0M272.5 806.4h0M273.5 806.3h0M274.6 806.2h0M275.6 805.5h0M276.7 803.1h0M277.0 800.7h0M277.4 796.7h0M277.7 790.2h0M278.1 783.9h0M278.4 775.1h0M278.8 764.7h0M279.1 758.9h0M279.5 756.1h0M279.8 758.9h0M280.2 766.4h0M280.5 775.8h0M280.9 785.4h0M281.2 792.2h0M281.6 797.6h0M281.9 800.0h0M282.3 802.3h0M283.3 802.4h0M284.4 801.4h0M285.4 803.0h0M286.5 804.8h0M287.5 805.9h0M288.6 806.3h0M289.6 806.3h0M290.7 806.0h0M291.7 805.9h0M292.8 804.6h0M293.5 802.4h0M293.8 800.3h0M294.2 796.7h0M294.5 791.7h0M294.9 784.2h0M295.2 776.8h0M295.6 768.3h0M295.9 764.8h0M296.6 768.2h0M297.0 775.5h0M297.3 783.7h0M297.7 789.9h0M298.0 795.3h0M298.4 799.1h0M298.7 801.3h0M299.8 803.1h0M300.5 801.0h0M300.8 798.4h0M301.2 793.7h0M301.5 786.2h0M301.9 779.5h0M302.2 769.2h0M302.6 759.4h0M302.9 753.2h0M303.3 755.6h0M303.6 759.2h0M304.0 766.8h0M304.3 776.1h0M304.7 783.7h0M305.0 787.7h0M305.7 783.5h0M306.1 774.5h0M306.4 761.3h0M306.8 746.6h0M307.1 729.7h0M307.5 719.5h0M307.8 723.4h0M308.2 732.9h0M308.5 747.0h0M308.9 764.2h0M309.2 779.4h0M309.6 789.2h0M309.9 796.5h0M310.3 800.4h0M310.6 802.1h0M311.3 804.0h0M312.4 804.8h0M313.4 805.0h0M314.5 805.2h0M315.5 805.3h0M316.6 805.4h0M317.6 805.0h0M318.7 804.8h0M319.7 803.1h0M320.1 801.7h0M320.4 799.7h0M320.8 797.5h0M321.1 793.5h0M321.5 788.5h0M321.8 783.0h0M322.2 774.4h0M322.5 769.5h0M322.9 763.1h0M323.2 757.0h0M323.6 755.6h0M323.9 760.6h0M324.3 765.2h0M324.6 770.4h0M325.0 777.6h0M325.3 783.4h0M325.7 789.6h0M326.0 794.6h0M326.4 798.4h0M326.7 800.5h0M327.1 802.5h0M327.8 804.3h0M328.8 805.1h0M329.9 805.6h0M330.9 805.7h0M332.0 805.9h0M333.0 806.4h0M334.1 806.0h0M335.1 806.1h0M336.2 806.1h0M337.2 806.5h0M338.3 806.6h0M339.3 806.7h0M340.4 806.7h0M341.4 806.7h0M342.5 806.5h0M343.5 806.2h0M344.6 806.4h0M345.6 806.4h0M346.7 806.2h0M347.7 806.4h0M348.8 806.5h0M349.8 806.2h0M350.9 806.5h0M351.9 806.1h0M353.0 806.5h0M354.0 806.4h0M355.1 806.4h0M356.1 806.1h0M357.2 806.2h0M358.2 806.1h0M359.3 806.7h0M360.3 806.0h0M361.4 806.5h0M362.4 806.6h0M363.5 806.6h0M364.5 806.3h0M365.6 806.1h0M366.6 806.5h0M367.7 806.5h0M368.7 806.3h0M369.8 806.1h0M370.8 806.5h0M371.9 806.0h0M372.9 806.3h0M374.0 806.0h0M375.0 805.9h0M376.1 805.1h0M376.8 802.0h0M377.1 798.9h0M377.5 795.4h0M377.8 790.6h0M378.2 786.3h0M379.2 790.3h0M379.6 795.0h0M379.9 798.9h0M380.3 801.8h0M380.6 803.2h0M381.3 804.8h0M382.4 803.8h0M383.1 800.8h0M383.4 799.0h0M383.8 797.3h0M384.1 795.0h0M384.8 793.4h0M385.5 795.8h0M386.2 799.4h0M386.6 800.9h0M386.9 802.5h0M387.6 804.9h0M388.7 806.0h0M389.7 805.6h0M390.8 806.1h0M391.8 806.3h0M392.9 806.4h0M393.9 806.1h0M395.0 806.1h0M396.0 806.0h0M397.1 806.0h0M398.1 806.0h0M399.2 806.1h0M400.2 806.0h0M401.3 806.0h0M402.3 806.1h0M403.4 806.0h0M404.4 806.0h0M405.5 806.0h0M406.5 805.9h0M407.6 806.0h0M408.6 805.8h0M409.7 805.6h0M410.7 805.7h0M411.8 804.7h0M412.8 804.2h0M413.9 802.7h0M414.9 802.3h0M416.0 801.8h0M417.0 802.2h0M418.1 802.7h0M419.1 803.7h0M420.2 804.9h0M421.2 805.6h0M422.3 805.5h0M423.3 805.7h0M424.4 805.5h0M425.4 805.5h0M426.5 805.6h0M427.5 805.9h0M428.6 805.4h0M429.6 805.5h0M430.7 805.3h0M431.7 804.6h0M432.8 800.9h0M433.1 797.5h0M433.5 792.7h0M433.8 785.5h0M434.2 781.0h0M434.5 776.7h0M434.9 779.1h0M435.2 782.4h0M435.6 788.4h0M435.9 794.7h0M436.3 798.6h0M436.6 801.9h0M437.0 804.0h0M438.0 805.2h0M439.1 805.6h0M440.1 805.6h0M441.2 805.1h0M442.2 804.4h0M443.3 802.9h0M444.0 801.3h0M444.7 799.7h0M445.7 800.1h0M446.4 801.6h0M447.1 803.2h0M447.8 804.9h0M448.9 805.5h0M449.9 805.6h0M451.0 805.9h0M452.0 805.5h0M453.1 805.3h0M454.1 805.7h0M455.2 805.7h0M456.2 805.9h0M457.3 805.6h0M458.3 805.7h0M459.4 805.6h0M460.4 805.2h0M461.5 805.4h0M462.5 804.6h0M463.6 803.3h0M464.3 800.9h0M465.0 798.5h0M465.7 796.2h0M466.7 796.7h0M467.4 799.2h0M468.1 801.8h0M469.2 803.9h0M470.2 804.5h0M471.3 804.7h0M472.0 802.9h0M472.3 801.4h0M472.7 798.4h0M473.0 794.1h0M473.4 788.3h0M473.7 783.7h0M474.1 780.8h0M474.8 783.4h0M475.1 790.2h0M475.5 794.6h0M475.8 799.1h0M476.2 801.8h0M476.9 804.0h0M477.9 804.9h0M479.0 804.9h0M480.0 805.1h0M481.1 805.4h0M482.1 805.3h0M483.2 805.5h0M484.2 805.2h0M485.3 805.1h0M486.3 805.0h0M487.4 804.8h0M488.4 804.2h0M489.5 803.5h0M490.2 801.9h0M491.2 799.1h0M491.9 796.8h0M492.6 794.5h0M493.3 792.3h0M494.4 791.2h0M495.1 793.1h0M495.8 794.9h0M496.5 797.0h0M497.2 798.8h0M497.5 800.2h0M498.2 801.6h0M499.3 803.3h0M500.3 804.0h0M501.4 804.4h0M502.4 804.8h0M503.5 804.4h0M504.2 802.5h0M504.5 800.6h0M504.9 797.9h0M505.2 793.2h0M505.6 786.5h0M505.9 782.1h0M506.3 777.3h0M507.0 781.5h0M507.3 788.4h0M507.7 793.5h0M508.0 798.2h0M508.4 800.8h0M508.7 802.3h0M509.4 804.0h0M510.5 803.5h0M511.2 801.8h0M511.9 799.4h0M512.2 796.8h0M512.9 794.0h0M514.0 794.6h0M514.3 796.3h0M515.0 799.7h0M515.7 801.8h0M516.1 803.4h0M517.1 804.2h0M518.2 805.1h0M519.2 804.9h0M520.3 804.9h0M521.3 804.7h0M522.4 805.3h0M523.4 805.4h0M524.5 804.8h0M525.5 804.9h0M526.6 805.3h0M527.6 805.3h0M528.7 804.8h0M529.7 805.0h0M530.8 804.4h0M531.8 804.1h0M532.9 802.5h0M533.9 801.1h0M535.0 801.3h0M536.0 802.4h0M537.1 803.3h0M538.1 804.6h0M539.2 804.6h0M540.2 805.0h0M541.3 804.8h0M542.3 804.7h0M543.4 804.8h0M544.4 805.1h0M545.5 805.1h0M546.5 804.8h0M547.6 804.6h0M548.6 803.4h0M549.3 802.0h0M550.4 800.7h0M551.4 800.4h0M552.5 801.1h0M553.5 802.7h0M554.6 803.7h0M555.6 804.3h0M556.7 804.8h0M557.7 804.9h0M558.8 804.4h0M559.8 803.7h0M560.9 803.0h0M561.9 801.6h0M563.0 801.6h0M564.0 803.0h0M565.1 804.1h0M566.1 804.5h0M567.2 804.6h0M568.2 805.2h0M569.3 804.9h0M570.3 804.7h0M571.4 804.7h0M572.4 804.9h0M573.5 804.6h0M574.5 804.8h0M575.6 805.2h0M576.6 805.0h0M577.7 804.9h0M578.7 805.0h0M579.8 805.2h0" fill="none" stroke="#000" stroke-width="3.5" stroke-linecap="round"/>
<path d="M204.0,821.4 L204.5,821.4 L205.0,821.4 L205.5,821.5 L206.0,821.4 L206.5,821.4 L207.0,821.4 L207.5,821.5 L207.8,826.3 L208.2,825.9 L208.8,825.9 L209.2,826.2 L209.8,826.1 L210.2,826.3 L210.8,825.9 L211.2,825.9 L211.8,825.8 L212.2,826.0 L212.8,825.8 L213.2,826.2 L213.8,825.7 L214.2,825.8 L214.8,826.0 L215.2,826.2 L215.8,825.7 L216.2,826.1 L216.8,825.8 L217.2,826.0 L217.8,825.7 L218.2,826.1 L218.8,825.6 L219.2,825.6 L219.8,825.9 L220.2,826.0 L220.8,825.8 L221.2,825.8 L221.8,825.7 L222.2,825.7 L222.8,825.7 L223.2,825.9 L223.8,826.1 L224.2,825.8 L224.8,825.8 L225.2,825.8 L225.8,825.6 L226.2,825.8 L226.8,825.7 L227.2,825.6 L227.8,826.1 L228.2,826.0 L228.8,826.0 L229.2,826.1 L229.8,825.6 L230.2,826.1 L230.8,826.1 L231.2,826.0 L231.8,825.8 L232.2,825.8 L232.8,826.0 L233.2,826.1 L233.8,826.1 L234.2,825.6 L234.8,825.7 L235.2,825.7 L235.8,825.8 L236.2,825.7 L236.8,825.8 L237.2,825.9 L237.8,825.7 L238.2,825.9 L238.8,825.8 L239.2,825.8 L239.8,825.7 L240.2,826.0 L240.8,825.7 L241.2,826.0 L241.8,825.6 L242.2,825.7 L242.8,825.8 L243.2,825.7 L243.8,825.7 L244.2,826.0 L244.8,826.0 L245.2,826.1 L245.8,825.8 L246.2,825.8 L246.8,826.0 L247.2,825.6 L247.8,825.5 L248.2,825.5 L248.8,826.0 L249.2,825.8 L249.8,825.7 L250.2,825.8 L250.8,825.8 L251.2,825.7 L251.8,825.8 L252.2,825.9 L252.8,825.9 L253.2,825.9 L253.8,825.8 L254.2,826.1 L254.8,825.9 L255.2,826.0 L255.8,825.9 L256.2,825.8 L256.8,826.0 L257.2,825.5 L257.8,825.9 L258.2,825.9 L258.8,825.7 L259.2,825.9 L259.8,825.9 L260.2,825.5 L260.8,825.7 L261.2,825.7 L261.8,825.8 L262.2,825.9 L262.8,825.9 L263.2,825.9 L263.8,825.7 L264.2,825.5 L264.8,825.9 L265.2,825.6 L265.8,825.6 L266.2,825.9 L266.8,825.4 L267.2,825.5 L267.8,825.5 L268.2,825.6 L268.8,825.5 L269.2,826.0 L269.8,825.7 L270.2,825.6 L270.8,825.4 L271.2,826.0 L271.8,825.7 L272.2,825.4 L272.8,826.0 L273.2,825.8 L273.8,825.6 L274.2,825.4 L274.8,826.0 L275.2,825.6 L275.8,826.5 L276.2,825.9 L276.8,826.6 L277.0,824.3 L277.5,822.5 L277.8,824.9 L278.2,822.8 L278.5,825.6 L278.8,824.0 L279.2,827.3 L279.5,829.0 L279.8,826.3 L280.0,828.3 L280.5,827.7 L281.0,826.3 L281.5,825.5 L281.8,826.9 L282.0,824.0 L282.5,824.2 L283.0,823.9 L283.5,824.5 L283.8,826.0 L284.0,824.4 L284.5,825.9 L284.8,827.4 L285.2,826.0 L285.8,826.0 L286.2,826.0 L286.8,825.2 L287.2,825.9 L287.8,825.9 L288.2,825.2 L288.8,825.8 L289.2,825.3 L289.8,825.3 L290.2,825.8 L290.8,825.5 L291.2,825.7 L291.8,825.4 L292.2,826.1 L292.8,826.1 L293.2,825.8 L293.8,824.0 L294.0,826.6 L294.5,824.0 L294.8,822.4 L295.2,821.4 L295.5,824.5 L295.8,822.5 L296.0,828.4 L296.5,824.4 L296.8,828.5 L297.2,825.6 L297.8,826.8 L298.0,825.3 L298.5,826.7 L298.8,825.1 L299.2,825.1 L299.8,825.0 L300.2,826.7 L300.5,823.9 L300.8,827.0 L301.2,822.5 L301.8,825.9 L302.0,819.8 L302.5,821.6 L302.8,824.0 L303.2,826.5 L303.5,829.2 L303.8,825.3 L304.0,832.2 L304.2,827.8 L304.5,831.6 L304.8,826.0 L305.0,830.4 L305.2,824.5 L305.8,821.3 L306.0,825.4 L306.2,819.6 L306.5,825.2 L306.8,822.2 L307.0,820.4 L307.2,825.3 L307.5,823.8 L308.0,827.2 L308.5,828.5 L309.0,826.8 L309.5,827.1 L310.0,826.9 L310.2,824.0 L310.8,825.1 L311.2,825.3 L311.8,825.0 L312.2,825.1 L312.8,825.4 L313.2,825.3 L313.8,825.2 L314.2,825.4 L314.8,825.7 L315.2,825.6 L315.8,825.6 L316.2,825.7 L316.8,825.2 L317.2,825.6 L317.8,825.4 L318.2,825.6 L318.8,826.3 L319.2,826.0 L319.8,826.0 L320.0,824.7 L320.2,826.4 L320.5,824.4 L320.8,825.8 L321.2,824.2 L321.5,823.0 L321.8,825.2 L322.0,822.6 L322.5,823.7 L323.0,822.6 L323.2,826.6 L323.5,823.7 L323.8,825.7 L324.0,827.5 L324.2,825.8 L324.8,826.9 L325.2,827.9 L325.8,825.9 L326.2,826.5 L326.5,824.6 L327.0,825.4 L327.5,825.1 L328.0,825.1 L328.5,825.2 L329.0,825.0 L329.5,825.2 L330.0,825.3 L330.5,825.3 L331.0,825.4 L331.5,825.5 L332.0,825.6 L332.5,825.5 L333.0,825.6 L333.5,825.4 L334.0,825.2 L334.5,825.4 L335.0,825.4 L335.5,825.1 L336.0,825.1 L336.5,825.6 L337.0,825.6 L337.5,825.3 L338.0,825.4 L338.5,825.4 L339.0,825.2 L339.5,825.7 L340.0,825.2 L340.5,825.5 L341.0,825.2 L341.5,825.5 L342.0,825.5 L342.5,825.2 L343.0,825.6 L343.5,825.3 L344.0,825.6 L344.5,825.4 L345.0,825.2 L345.5,825.4 L346.0,825.4 L346.5,825.6 L347.0,825.3 L347.5,825.2 L348.0,825.6 L348.5,825.2 L349.0,825.5 L349.5,825.4 L350.0,825.4 L350.5,825.1 L351.0,825.2 L351.5,825.4 L352.0,825.4 L352.5,825.2 L353.0,825.1 L353.5,825.1 L354.0,825.4 L354.5,825.6 L355.0,825.1 L355.5,825.1 L356.0,825.3 L356.5,825.5 L357.0,825.3 L357.5,825.0 L358.0,825.2 L358.5,825.1 L359.0,825.2 L359.5,825.2 L360.0,825.5 L360.5,825.5 L361.0,825.4 L361.5,825.0 L362.0,825.4 L362.5,825.2 L363.0,825.0 L363.5,825.1 L364.0,825.4 L364.5,825.5 L365.0,825.4 L365.5,825.3 L366.0,825.4 L366.5,825.3 L367.0,825.4 L367.5,825.2 L368.0,825.3 L368.5,825.0 L369.0,825.4 L369.5,825.2 L370.0,825.1 L370.5,825.4 L371.0,825.3 L371.5,825.4 L372.0,825.0 L372.5,825.1 L373.0,825.2 L373.5,825.3 L374.0,825.4 L374.5,825.5 L375.0,825.3 L375.5,825.3 L376.0,824.8 L376.5,824.8 L377.0,824.2 L377.5,825.2 L377.8,823.6 L378.2,823.6 L378.5,825.3 L379.0,825.2 L379.5,825.3 L380.0,825.5 L380.5,825.2 L381.0,825.1 L381.5,825.3 L382.0,825.4 L382.5,824.2 L383.0,824.5 L383.5,824.1 L384.0,823.7 L384.5,825.7 L385.0,824.8 L385.5,825.9 L386.0,825.3 L386.5,825.6 L387.0,825.5 L387.5,824.9 L388.0,825.4 L388.5,824.7 L389.0,825.1 L389.5,825.2 L390.0,824.9 L390.5,825.4 L391.0,824.9 L391.5,825.0 L392.0,825.3 L392.5,825.1 L393.0,825.2 L393.5,825.4 L394.0,825.4 L394.5,825.2 L395.0,825.2 L395.5,825.0 L396.0,825.1 L396.5,825.0 L397.0,825.1 L397.5,825.1 L398.0,825.2 L398.5,825.2 L399.0,825.3 L399.5,824.8 L400.0,825.1 L400.5,825.3 L401.0,824.8 L401.5,825.0 L402.0,825.3 L402.5,825.1 L403.0,824.9 L403.5,825.3 L404.0,825.0 L404.5,824.8 L405.0,825.1 L405.5,825.1 L406.0,825.2 L406.5,825.3 L407.0,825.1 L407.5,825.2 L408.0,825.4 L408.5,825.4 L409.0,825.4 L409.5,825.0 L410.0,825.4 L410.5,824.9 L411.0,824.6 L411.5,824.8 L412.0,825.1 L412.5,824.3 L413.0,824.9 L413.5,824.8 L414.0,824.6 L414.5,824.9 L415.0,825.4 L415.5,825.1 L416.0,824.5 L416.5,825.4 L417.0,825.7 L417.5,825.1 L418.0,825.1 L418.5,825.4 L419.0,825.3 L419.5,825.6 L420.0,825.5 L420.5,825.3 L421.0,825.1 L421.5,824.5 L422.0,824.8 L422.5,824.7 L423.0,825.3 L423.5,824.6 L424.0,824.7 L424.5,824.9 L425.0,825.0 L425.5,825.0 L426.0,825.2 L426.5,824.7 L427.0,825.1 L427.5,825.3 L428.0,825.1 L428.5,825.1 L429.0,825.0 L429.5,825.1 L430.0,824.9 L430.5,825.0 L431.0,825.0 L431.5,824.8 L432.0,825.2 L432.5,824.6 L433.0,825.0 L433.5,823.5 L434.0,822.9 L434.2,825.5 L434.5,824.2 L435.0,826.0 L435.5,826.7 L436.0,825.7 L436.5,824.3 L437.0,824.3 L437.5,824.7 L438.0,825.1 L438.5,825.0 L439.0,824.8 L439.5,825.0 L440.0,824.9 L440.5,825.2 L441.0,825.1 L441.5,825.0 L442.0,824.9 L442.5,824.5 L443.0,824.8 L443.5,824.8 L444.0,824.0 L444.5,824.3 L445.0,824.8 L445.5,825.5 L446.0,825.4 L446.5,825.3 L447.0,825.4 L447.5,825.2 L448.0,825.0 L448.5,824.7 L449.0,824.8 L449.5,824.7 L450.0,824.6 L450.5,824.8 L451.0,824.7 L451.5,824.8 L452.0,824.7 L452.5,825.1 L453.0,824.9 L453.5,825.0 L454.0,825.1 L454.5,824.8 L455.0,824.8 L455.5,824.8 L456.0,824.8 L456.5,824.8 L457.0,824.9 L457.5,825.1 L458.0,824.9 L458.5,825.0 L459.0,824.6 L459.5,824.7 L460.0,825.1 L460.5,825.2 L461.0,824.9 L461.5,825.3 L462.0,825.1 L462.5,824.9 L463.0,824.7 L463.5,825.0 L464.0,824.1 L464.5,824.1 L465.0,824.1 L465.5,824.3 L466.0,825.0 L466.5,825.1 L467.0,825.5 L467.5,825.1 L468.0,825.5 L468.5,824.8 L469.0,824.7 L469.5,824.6 L470.0,824.7 L470.5,824.6 L471.0,824.7 L471.5,824.7 L472.0,824.6 L472.5,824.0 L473.0,824.4 L473.5,823.0 L474.0,824.0 L474.5,824.0 L474.8,825.8 L475.2,826.6 L475.8,825.2 L476.2,825.5 L476.8,824.6 L477.2,824.2 L477.8,824.4 L478.2,824.5 L478.8,824.8 L479.2,824.9 L479.8,824.8 L480.2,825.0 L480.8,824.7 L481.2,824.8 L481.8,824.8 L482.2,824.5 L482.8,824.5 L483.2,825.0 L483.8,825.0 L484.2,824.6 L484.8,824.5 L485.2,824.9 L485.8,824.5 L486.2,824.6 L486.8,824.7 L487.2,824.7 L487.8,824.7 L488.2,824.7 L488.8,824.9 L489.2,824.5 L489.8,824.5 L490.2,824.0 L490.8,824.2 L491.2,824.5 L491.8,823.8 L492.2,824.2 L492.8,824.5 L493.2,824.5 L493.8,824.2 L494.2,824.4 L494.8,825.3 L495.2,824.2 L495.8,825.1 L496.2,825.7 L496.8,825.4 L497.2,825.0 L497.8,824.7 L498.2,825.0 L498.8,825.2 L499.2,824.9 L499.8,824.4 L500.2,824.7 L500.8,824.4 L501.2,824.6 L501.8,824.3 L502.2,824.4 L502.8,824.5 L503.2,825.2 L503.8,825.0 L504.2,824.6 L504.8,823.9 L505.2,823.2 L505.8,824.0 L506.2,824.8 L506.8,824.6 L507.0,826.0 L507.5,826.4 L508.0,825.1 L508.5,825.3 L509.0,824.6 L509.5,824.4 L510.0,824.2 L510.5,824.6 L511.0,824.3 L511.5,824.2 L512.0,824.5 L512.5,824.5 L513.0,824.2 L513.5,825.2 L514.0,824.5 L514.5,825.3 L515.0,825.3 L515.5,824.5 L516.0,824.9 L516.5,824.7 L517.0,824.5 L517.5,824.3 L518.0,824.6 L518.5,824.5 L519.0,824.4 L519.5,824.8 L520.0,824.6 L520.5,824.8 L521.0,824.4 L521.5,824.8 L522.0,824.5 L522.5,824.7 L523.0,824.3 L523.5,824.8 L524.0,824.5 L524.5,824.3 L525.0,824.3 L525.5,824.8 L526.0,824.4 L526.5,824.7 L527.0,824.3 L527.5,824.4 L528.0,824.7 L528.5,824.4 L529.0,824.7 L529.5,824.7 L530.0,824.3 L530.5,824.3 L531.0,824.7 L531.5,823.9 L532.0,823.9 L532.5,824.0 L533.0,823.5 L533.5,824.0 L534.0,824.1 L534.5,824.3 L535.0,824.9 L535.5,824.3 L536.0,824.9 L536.5,824.7 L537.0,825.1 L537.5,825.1 L538.0,825.1 L538.5,824.6 L539.0,824.4 L539.5,824.7 L540.0,824.1 L540.5,824.5 L541.0,824.4 L541.5,824.2 L542.0,824.4 L542.5,824.2 L543.0,824.5 L543.5,824.6 L544.0,824.4 L544.5,824.6 L545.0,824.3 L545.5,824.3 L546.0,824.5 L546.5,824.8 L547.0,824.6 L547.5,824.0 L548.0,824.4 L548.5,824.1 L549.0,824.2 L549.5,824.7 L550.0,824.7 L550.5,824.4 L551.0,824.1 L551.5,824.4 L552.0,825.2 L552.5,825.3 L553.0,825.0 L553.5,825.1 L554.0,825.2 L554.5,825.0 L555.0,825.0 L555.5,824.4 L556.0,824.5 L556.5,824.3 L557.0,824.6 L557.5,824.6 L558.0,824.2 L558.5,824.3 L559.0,824.3 L559.5,824.3 L560.0,823.9 L560.5,824.2 L561.0,823.9 L561.5,823.6 L562.0,824.1 L562.5,824.8 L563.0,825.3 L563.5,824.6 L564.0,825.6 L564.5,825.3 L565.0,824.5 L565.5,824.7 L566.0,824.0 L566.5,824.0 L567.0,824.5 L567.5,824.2 L568.0,824.3 L568.5,824.5 L569.0,824.4 L569.5,824.3 L570.0,824.3 L570.5,824.5 L571.0,824.1 L571.5,824.2 L572.0,824.1 L572.5,824.6 L573.0,824.5 L573.5,824.2 L574.0,824.2 L574.5,824.4 L575.0,824.2 L575.5,824.2 L576.0,824.4 L576.5,824.5 L577.0,824.0 L577.5,824.6 L578.0,824.4 L578.5,824.4 L579.0,824.3 L579.5,824.5 L580.0,824.1" fill="none" stroke="#35359a" stroke-width="1.1" stroke-linejoin="round"/>
<path d="M204.0,944.3 L204.5,944.3 L205.0,944.3 L205.5,944.3 L206.0,944.3 L206.5,944.3 L207.0,944.3 L207.5,944.3 L208.0,944.3 L208.5,944.3 L209.0,944.3 L209.5,944.3 L210.0,944.3 L210.5,944.3 L211.0,944.3 L211.5,944.3 L212.0,944.3 L212.5,944.3 L213.0,944.3 L213.5,944.3 L214.0,944.3 L214.5,944.3 L215.0,944.3 L215.5,944.3 L216.0,944.3 L216.5,944.3 L217.0,944.3 L217.5,944.3 L218.0,944.3 L218.5,944.3 L219.0,944.3 L219.5,944.3 L220.0,944.3 L220.5,944.3 L221.0,944.3 L221.5,944.3 L222.0,944.3 L222.5,944.3 L223.0,944.3 L223.5,944.3 L224.0,944.3 L224.5,944.3 L225.0,944.3 L225.5,944.3 L226.0,944.3 L226.5,944.3 L227.0,944.3 L227.5,944.3 L228.0,944.3 L228.5,944.3 L229.0,944.3 L229.5,944.3 L230.0,944.3 L230.5,944.3 L231.0,944.3 L231.5,944.3 L232.0,944.3 L232.5,944.3 L233.0,944.3 L233.5,944.3 L234.0,944.3 L234.5,944.3 L235.0,944.3 L235.5,944.3 L236.0,944.3 L236.5,944.3 L237.0,944.3 L237.5,944.3 L238.0,944.3 L238.5,944.3 L239.0,944.3 L239.5,944.3 L240.0,944.3 L240.5,944.3 L241.0,944.3 L241.5,944.3 L242.0,944.3 L242.5,944.3 L243.0,944.3 L243.5,944.3 L244.0,944.3 L244.5,944.3 L245.0,944.3 L245.5,944.3 L246.0,944.3 L246.5,944.3 L247.0,944.3 L247.5,944.3 L248.0,944.3 L248.5,944.3 L249.0,944.3 L249.5,944.3 L250.0,944.3 L250.5,944.2 L251.0,944.2 L251.5,944.2 L252.0,944.2 L252.5,944.2 L253.0,944.1 L253.5,944.1 L254.0,944.1 L254.5,944.0 L255.0,944.0 L255.5,943.9 L256.0,943.8 L256.4,943.6 L256.8,943.3 L257.2,942.9 L257.6,942.1 L258.0,940.9 L258.3,939.5 L258.6,937.8 L258.8,936.4 L259.0,934.9 L259.2,933.2 L259.4,931.5 L259.6,929.8 L259.8,928.1 L260.0,926.6 L260.2,925.3 L260.5,924.1 L260.9,924.0 L261.2,925.3 L261.4,926.5 L261.6,928.0 L261.8,929.7 L262.0,931.5 L262.2,933.2 L262.4,934.8 L262.6,936.3 L262.8,937.7 L263.1,939.4 L263.4,940.8 L263.8,942.0 L264.2,942.7 L264.6,943.2 L265.0,943.4 L265.4,943.5 L265.8,943.6 L266.2,943.7 L266.6,943.7 L267.0,943.7 L267.4,943.6 L267.8,943.6 L268.2,943.5 L268.6,943.4 L269.0,943.1 L269.4,942.7 L269.8,942.1 L270.2,941.3 L270.6,940.2 L271.0,938.9 L271.4,937.5 L271.8,936.1 L272.2,935.0 L272.6,934.3 L273.0,934.0 L273.4,933.9 L273.8,933.4 L274.2,932.1 L274.5,930.4 L274.7,928.9 L274.9,927.1 L275.1,925.1 L275.3,922.8 L275.5,920.5 L275.7,918.3 L275.9,916.2 L276.1,914.4 L276.3,913.1 L276.7,912.6 L277.0,914.0 L277.2,915.7 L277.4,917.8 L277.6,920.3 L277.7,921.6 L277.8,922.9 L277.9,924.2 L278.0,925.5 L278.1,926.8 L278.2,928.0 L278.3,929.2 L278.5,931.5 L278.7,933.5 L278.9,935.3 L279.1,936.7 L279.4,938.4 L279.8,939.6 L280.2,939.8 L280.6,939.1 L280.9,937.8 L281.2,936.0 L281.4,934.3 L281.6,932.4 L281.8,930.3 L282.0,927.9 L282.1,926.6 L282.2,925.3 L282.3,924.0 L282.4,922.7 L282.5,921.3 L282.6,920.0 L282.7,918.8 L282.9,916.5 L283.1,914.5 L283.3,913.1 L283.7,912.4 L284.0,913.8 L284.2,915.5 L284.4,917.7 L284.5,918.9 L284.6,920.2 L284.7,921.5 L284.8,922.9 L284.9,924.2 L285.0,925.6 L285.1,926.9 L285.2,928.2 L285.3,929.4 L285.4,930.6 L285.6,932.9 L285.8,934.8 L286.0,936.5 L286.2,938.0 L286.5,939.7 L286.9,941.2 L287.3,942.1 L287.7,942.6 L288.1,942.8 L288.5,942.9 L288.9,942.9 L289.3,942.8 L289.7,942.5 L290.1,941.9 L290.5,940.9 L290.9,939.3 L291.2,937.6 L291.4,936.2 L291.6,934.7 L291.8,933.0 L292.0,931.1 L292.2,929.3 L292.4,927.4 L292.6,925.7 L292.8,924.2 L293.1,922.6 L293.5,922.0 L293.9,923.6 L294.1,924.9 L294.3,926.6 L294.5,928.4 L294.7,930.3 L294.9,932.1 L295.1,933.9 L295.3,935.5 L295.5,937.0 L295.7,938.3 L296.0,939.9 L296.4,941.3 L296.8,942.3 L297.2,942.8 L297.6,943.1 L298.0,943.2 L298.4,943.3 L298.8,943.3 L299.2,943.3 L299.6,943.2 L300.0,943.1 L300.4,943.0 L300.8,942.8 L301.2,942.6 L301.6,942.2 L302.0,941.5 L302.4,940.1 L302.6,938.9 L302.8,937.1 L303.0,934.6 L303.1,932.9 L303.2,931.0 L303.3,928.8 L303.4,926.2 L303.5,923.3 L303.6,920.0 L303.7,916.4 L303.8,912.4 L303.9,908.1 L304.0,903.5 L304.1,898.6 L304.2,893.6 L304.3,888.5 L304.4,883.3 L304.5,878.3 L304.6,873.6 L304.7,869.2 L304.8,865.3 L304.9,862.2 L305.0,859.8 L305.1,858.3 L305.4,859.8 L305.5,862.2 L305.6,865.4 L305.7,869.2 L305.8,873.6 L305.9,878.4 L306.0,883.4 L306.1,888.5 L306.2,893.6 L306.3,898.7 L306.4,903.5 L306.5,908.1 L306.6,912.5 L306.7,916.4 L306.8,920.1 L306.9,923.4 L307.0,926.3 L307.1,928.8 L307.2,931.1 L307.3,933.0 L307.4,934.7 L307.5,936.1 L307.7,938.2 L307.9,939.7 L308.2,941.1 L308.6,942.1 L309.0,942.6 L309.4,943.0 L309.8,943.2 L310.2,943.4 L310.6,943.5 L311.0,943.7 L311.4,943.8 L311.8,943.8 L312.2,943.9 L312.6,944.0 L313.0,944.0 L313.4,944.1 L313.8,944.1 L314.2,944.1 L314.6,944.1 L315.0,944.1 L315.4,944.1 L315.8,944.1 L316.2,944.0 L316.6,943.9 L317.0,943.8 L317.4,943.5 L317.8,943.2 L318.2,942.7 L318.6,942.2 L319.0,941.5 L319.4,940.8 L319.8,940.2 L320.2,939.6 L320.6,939.4 L321.0,939.4 L321.4,939.7 L321.8,940.2 L322.2,940.9 L322.6,941.6 L323.0,942.3 L323.4,942.9 L323.8,943.3 L324.2,943.7 L324.6,944.0 L325.0,944.1 L325.4,944.3 L325.8,944.3 L326.2,944.4 L326.6,944.4 L327.0,944.5 L327.4,944.5 L327.8,944.5 L328.2,944.5 L328.6,944.5 L329.0,944.5 L329.4,944.5 L329.8,944.5 L330.2,944.5 L330.6,944.6 L331.0,944.6 L331.4,944.6 L331.8,944.6 L332.2,944.6 L332.6,944.6 L333.0,944.6 L333.4,944.6 L333.8,944.6 L334.2,944.6 L334.6,944.6 L335.0,944.6 L335.4,944.6 L335.8,944.6 L336.2,944.6 L336.6,944.6 L337.0,944.6 L337.4,944.6 L337.8,944.6 L338.2,944.6 L338.6,944.6 L339.0,944.6 L339.4,944.6 L339.8,944.6 L340.2,944.6 L340.6,944.6 L341.0,944.6 L341.4,944.6 L341.8,944.6 L342.2,944.6 L342.6,944.6 L343.0,944.6 L343.4,944.6 L343.8,944.6 L344.2,944.6 L344.6,944.6 L345.0,944.6 L345.4,944.6 L345.8,944.6 L346.2,944.6 L346.6,944.6 L347.0,944.6 L347.4,944.6 L347.8,944.6 L348.2,944.6 L348.6,944.6 L349.0,944.6 L349.4,944.6 L349.8,944.6 L350.2,944.6 L350.6,944.6 L351.0,944.6 L351.4,944.6 L351.8,944.5 L352.2,944.5 L352.6,944.5 L353.0,944.4 L353.4,944.3 L353.8,944.2 L354.2,943.9 L354.6,943.4 L355.0,942.7 L355.4,941.7 L355.8,940.4 L356.2,938.8 L356.5,937.6 L356.9,936.2 L357.3,935.3 L357.7,935.3 L358.1,936.2 L358.5,937.6 L358.8,938.8 L359.2,940.4 L359.6,941.7 L360.0,942.7 L360.4,943.4 L360.8,943.9 L361.2,944.2 L361.6,944.3 L362.0,944.4 L362.4,944.5 L362.8,944.5 L363.2,944.5 L363.6,944.6 L364.0,944.6 L364.4,944.6 L364.8,944.6 L365.2,944.6 L365.6,944.6 L366.0,944.6 L366.4,944.6 L366.8,944.6 L367.2,944.6 L367.6,944.6 L368.0,944.6 L368.4,944.6 L368.8,944.6 L369.2,944.5 L369.6,944.5 L370.0,944.5 L370.4,944.4 L370.8,944.3 L371.2,944.2 L371.6,943.9 L372.0,943.4 L372.4,942.6 L372.8,941.5 L373.2,940.0 L373.5,938.7 L373.8,937.3 L374.1,935.9 L374.4,934.7 L374.8,933.7 L375.2,933.7 L375.6,934.7 L375.9,935.9 L376.2,937.3 L376.5,938.7 L376.8,940.0 L377.2,941.5 L377.6,942.7 L378.0,943.4 L378.4,943.9 L378.8,944.2 L379.2,944.4 L379.6,944.5 L380.0,944.5 L380.4,944.6 L380.8,944.6 L381.2,944.6 L381.6,944.6 L382.0,944.6 L382.4,944.7 L382.8,944.7 L383.2,944.7 L383.6,944.7 L384.0,944.7 L384.4,944.7 L384.8,944.7 L385.2,944.7 L385.6,944.7 L386.0,944.7 L386.4,944.7 L386.8,944.7 L387.2,944.7 L387.6,944.7 L388.0,944.7 L388.4,944.7 L388.8,944.7 L389.2,944.7 L389.6,944.7 L390.0,944.7 L390.4,944.6 L390.8,944.6 L391.2,944.5 L391.6,944.4 L392.0,944.3 L392.4,944.1 L392.8,943.8 L393.2,943.5 L393.6,943.1 L394.0,942.7 L394.4,942.3 L394.8,942.0 L395.2,941.8 L395.6,941.8 L396.0,941.9 L396.4,942.2 L396.8,942.6 L397.2,942.9 L397.6,943.2 L398.0,943.4 L398.4,943.4 L398.8,943.3 L399.2,942.9 L399.6,942.4 L400.0,941.7 L400.4,940.8 L400.8,939.7 L401.2,938.7 L401.6,937.7 L402.0,937.1 L402.4,936.9 L402.8,937.1 L403.2,937.8 L403.6,938.7 L404.0,939.8 L404.4,940.8 L404.8,941.8 L405.2,942.6 L405.6,943.3 L406.0,943.7 L406.4,944.1 L406.8,944.3 L407.2,944.4 L407.6,944.5 L408.0,944.6 L408.4,944.6 L408.8,944.6 L409.2,944.6 L409.6,944.7 L410.0,944.7 L410.4,944.7 L410.8,944.7 L411.2,944.7 L411.6,944.7 L412.0,944.7 L412.4,944.7 L412.8,944.7 L413.2,944.6 L413.6,944.6 L414.0,944.6 L414.4,944.5 L414.8,944.3 L415.2,944.1 L415.6,943.8 L416.0,943.3 L416.4,942.6 L416.8,941.7 L417.2,940.7 L417.6,939.6 L418.0,938.5 L418.4,937.8 L418.8,937.5 L419.2,937.8 L419.6,938.5 L420.0,939.5 L420.4,940.6 L420.8,941.7 L421.2,942.6 L421.6,943.2 L422.0,943.7 L422.4,944.1 L422.8,944.3 L423.2,944.4 L423.6,944.5 L424.0,944.5 L424.4,944.5 L424.8,944.5 L425.2,944.5 L425.6,944.5 L426.0,944.5 L426.4,944.5 L426.8,944.5 L427.2,944.4 L427.6,944.4 L428.0,944.3 L428.4,944.1 L428.8,943.9 L429.2,943.6 L429.6,942.9 L430.0,941.8 L430.3,940.6 L430.6,939.0 L430.8,937.7 L431.0,936.2 L431.2,934.5 L431.4,932.7 L431.6,930.8 L431.8,928.9 L432.0,927.0 L432.2,925.3 L432.4,923.9 L432.7,922.6 L433.1,922.6 L433.4,923.9 L433.6,925.3 L433.8,927.0 L434.0,928.8 L434.2,930.8 L434.4,932.7 L434.6,934.5 L434.8,936.1 L435.0,937.6 L435.2,939.0 L435.5,940.6 L435.8,941.8 L436.2,942.9 L436.6,943.5 L437.0,943.9 L437.4,944.1 L437.8,944.2 L438.2,944.3 L438.6,944.3 L439.0,944.4 L439.4,944.4 L439.8,944.4 L440.2,944.4 L440.6,944.4 L441.0,944.3 L441.4,944.3 L441.8,944.2 L442.2,944.0 L442.6,943.8 L443.0,943.4 L443.4,942.8 L443.8,941.9 L444.2,940.6 L444.6,939.0 L444.9,937.5 L445.2,935.9 L445.5,934.3 L445.8,932.6 L446.1,931.1 L446.5,929.7 L446.9,929.2 L447.3,929.7 L447.7,931.1 L448.0,932.6 L448.3,934.2 L448.6,935.9 L448.9,937.4 L449.2,938.9 L449.5,940.1 L449.9,941.5 L450.3,942.4 L450.7,943.1 L451.1,943.5 L451.5,943.7 L451.9,943.8 L452.3,943.8 L452.7,943.7 L453.1,943.5 L453.5,943.2 L453.9,942.7 L454.3,941.9 L454.7,940.7 L455.1,939.2 L455.4,937.8 L455.7,936.1 L455.9,934.9 L456.1,933.6 L456.3,932.3 L456.5,930.9 L456.7,929.6 L456.9,928.3 L457.1,927.0 L457.4,925.5 L457.8,924.1 L458.2,923.8 L458.6,924.7 L458.9,926.0 L459.2,927.7 L459.4,928.9 L459.6,930.3 L459.8,931.7 L460.0,933.0 L460.2,934.3 L460.4,935.6 L460.7,937.3 L461.0,938.9 L461.3,940.1 L461.7,941.5 L462.1,942.5 L462.5,943.1 L462.9,943.6 L463.3,943.9 L463.7,944.1 L464.1,944.2 L464.5,944.3 L464.9,944.3 L465.3,944.4 L465.7,944.4 L466.1,944.4 L466.5,944.3 L466.9,944.3 L467.3,944.2 L467.7,944.0 L468.1,943.7 L468.5,943.2 L468.9,942.4 L469.3,941.4 L469.7,940.0 L470.0,938.7 L470.3,937.3 L470.6,935.8 L470.9,934.3 L471.2,932.9 L471.6,931.5 L472.0,930.8 L472.4,931.0 L472.8,932.2 L473.1,933.4 L473.4,934.9 L473.7,936.4 L474.0,937.9 L474.3,939.2 L474.6,940.5 L475.0,941.8 L475.4,942.8 L475.8,943.4 L476.2,943.9 L476.6,944.2 L477.0,944.4 L477.4,944.5 L477.8,944.5 L478.2,944.6 L478.6,944.6 L479.0,944.6 L479.4,944.6 L479.8,944.6 L480.2,944.6 L480.6,944.6 L481.0,944.5 L481.4,944.4 L481.8,944.2 L482.2,943.9 L482.6,943.5 L483.0,942.8 L483.4,941.9 L483.8,940.6 L484.2,939.2 L484.5,937.9 L484.8,936.7 L485.2,935.1 L485.6,933.9 L486.0,933.4 L486.4,933.6 L486.8,934.5 L487.2,935.9 L487.5,937.1 L487.8,938.4 L488.1,939.6 L488.5,941.0 L488.9,942.2 L489.3,943.1 L489.7,943.7 L490.1,944.1 L490.5,944.4 L490.9,944.6 L491.3,944.7 L491.7,944.7 L492.1,944.8 L492.5,944.8 L492.9,944.8 L493.3,944.9 L493.7,944.9 L494.1,944.9 L494.5,944.9 L494.9,944.9 L495.3,944.9 L495.7,944.9 L496.1,944.9 L496.5,944.9 L496.9,944.9 L497.3,944.8 L497.7,944.8 L498.1,944.8 L498.5,944.7 L498.9,944.6 L499.3,944.5 L499.7,944.2 L500.1,943.8 L500.5,943.1 L500.9,942.2 L501.3,941.0 L501.7,939.4 L502.0,938.1 L502.3,936.7 L502.6,935.3 L503.0,933.8 L503.4,932.9 L503.8,932.9 L504.2,933.8 L504.6,935.3 L504.9,936.6 L505.2,938.0 L505.5,939.3 L505.9,940.8 L506.3,942.0 L506.7,942.8 L507.1,943.2 L507.5,943.3 L507.9,943.0 L508.3,942.5 L508.7,941.6 L509.1,940.5 L509.5,939.3 L509.9,938.3 L510.3,937.6 L510.7,937.5 L511.1,937.9 L511.5,938.9 L511.9,940.1 L512.3,941.3 L512.7,942.4 L513.1,943.2 L513.5,943.8 L513.9,944.3 L514.3,944.5 L514.7,944.7 L515.1,944.8 L515.5,944.8 L515.9,944.8 L516.3,944.7 L516.7,944.6 L517.1,944.4 L517.5,944.2 L517.9,943.9 L518.3,943.6 L518.7,943.4 L519.1,943.2 L519.5,943.1 L519.9,943.1 L520.3,943.2 L520.7,943.4 L521.1,943.7 L521.5,944.0 L521.9,944.3 L522.3,944.5 L522.7,944.7 L523.1,944.9 L523.5,945.0 L523.9,945.0 L524.3,945.1 L524.7,945.1 L525.1,945.1 L525.5,945.2 L525.9,945.2 L526.3,945.2 L526.7,945.2 L527.1,945.2 L527.5,945.2 L527.9,945.2 L528.3,945.1 L528.7,945.1 L529.1,945.0 L529.5,945.0 L529.9,944.8 L530.3,944.7 L530.7,944.5 L531.1,944.3 L531.5,944.1 L531.9,944.0 L532.3,943.9 L532.7,943.8 L533.1,943.9 L533.5,944.0 L533.9,944.2 L534.3,944.3 L534.7,944.5 L535.1,944.7 L535.5,944.9 L535.9,945.0 L536.3,945.1 L536.7,945.1 L537.1,945.2 L537.5,945.2 L537.9,945.2 L538.3,945.2 L538.7,945.2 L539.1,945.2 L539.5,945.2 L539.9,945.2 L540.3,945.2 L540.7,945.2 L541.1,945.2 L541.5,945.2 L541.9,945.2 L542.3,945.1 L542.7,945.1 L543.1,945.0 L543.5,944.9 L543.9,944.7 L544.3,944.5 L544.7,944.1 L545.1,943.7 L545.5,943.1 L545.9,942.4 L546.3,941.6 L546.7,940.9 L547.1,940.2 L547.5,939.8 L547.9,939.8 L548.3,940.0 L548.7,940.5 L549.1,941.2 L549.5,942.0 L549.9,942.7 L550.3,943.4 L550.7,943.9 L551.1,944.3 L551.5,944.6 L551.9,944.8 L552.3,945.0 L552.7,945.1 L553.1,945.1 L553.5,945.2 L553.9,945.2 L554.3,945.2 L554.7,945.2 L555.1,945.2 L555.5,945.2 L555.9,945.2 L556.3,945.2 L556.7,945.1 L557.1,945.0 L557.5,944.9 L557.9,944.8 L558.3,944.5 L558.7,944.2 L559.1,943.8 L559.5,943.3 L559.9,942.8 L560.3,942.2 L560.7,941.8 L561.1,941.5 L561.5,941.5 L561.9,941.6 L562.3,942.0 L562.7,942.5 L563.1,943.0 L563.5,943.6 L563.9,944.0 L564.3,944.4 L564.7,944.7 L565.1,944.9 L565.5,945.1 L565.9,945.2 L566.3,945.2 L566.7,945.3 L567.1,945.3 L567.5,945.3 L567.9,945.3 L568.3,945.4 L568.7,945.4 L569.1,945.4 L569.5,945.4 L569.9,945.4 L570.3,945.4 L570.7,945.4 L571.1,945.4 L571.5,945.4 L571.9,945.4 L572.3,945.4 L572.7,945.4 L573.1,945.4 L573.5,945.4 L573.9,945.4 L574.3,945.4 L574.7,945.4 L575.1,945.4 L575.5,945.4 L575.9,945.4 L576.3,945.5 L576.7,945.5 L577.1,945.5 L577.5,945.5 L577.9,945.5 L578.3,945.5 L578.7,945.5 L579.1,945.5 L579.5,945.5 L579.9,945.5" fill="none" stroke="#3a9e9e" stroke-width="1.4" stroke-linejoin="round"/>
<path d="M204.2 944.1h0M205.2 944.0h0M206.3 944.1h0M207.3 944.0h0M208.4 944.6h0M209.4 944.3h0M210.5 944.5h0M211.5 944.0h0M212.6 944.1h0M213.6 944.1h0M214.7 944.6h0M215.7 944.5h0M216.8 944.6h0M217.8 944.1h0M218.9 944.4h0M219.9 944.1h0M221.0 944.4h0M222.0 944.0h0M223.1 944.0h0M224.1 944.3h0M225.2 944.0h0M226.2 944.6h0M227.3 944.1h0M228.3 944.4h0M229.4 944.2h0M230.4 944.6h0M231.5 944.2h0M232.5 944.1h0M233.6 944.0h0M234.6 944.2h0M235.7 944.4h0M236.7 944.6h0M237.8 944.2h0M238.8 944.5h0M239.9 944.3h0M240.9 944.1h0M242.0 944.3h0M243.0 944.2h0M244.1 944.3h0M245.1 944.2h0M246.2 944.1h0M247.2 944.3h0M248.3 944.6h0M249.3 944.0h0M250.4 944.1h0M251.4 944.0h0M252.5 943.9h0M253.5 944.3h0M254.6 944.1h0M255.6 944.2h0M256.7 943.8h0M257.7 942.0h0M258.1 940.4h0M258.8 937.3h0M259.1 934.2h0M259.5 931.7h0M259.8 928.1h0M260.2 926.0h0M261.2 926.2h0M261.6 929.0h0M261.9 931.3h0M262.3 934.3h0M262.6 936.8h0M263.0 939.0h0M263.3 940.4h0M263.7 942.0h0M264.7 943.6h0M265.8 943.9h0M266.8 943.6h0M267.9 943.4h0M268.9 943.4h0M270.0 942.0h0M270.7 939.9h0M271.4 938.0h0M272.1 936.0h0M272.8 934.4h0M273.9 934.1h0M274.6 931.2h0M274.9 928.7h0M275.3 925.0h0M275.6 921.1h0M276.0 918.0h0M276.3 914.9h0M277.4 918.8h0M277.7 923.3h0M278.1 927.4h0M278.4 931.4h0M278.8 934.8h0M279.1 937.5h0M279.5 939.2h0M280.5 939.8h0M280.9 938.1h0M281.2 936.6h0M281.6 933.6h0M281.9 930.1h0M282.3 925.4h0M282.6 921.9h0M283.0 917.9h0M283.3 914.1h0M284.0 916.0h0M284.4 919.3h0M284.7 923.3h0M285.1 927.6h0M285.4 931.5h0M285.8 935.3h0M286.1 937.5h0M286.5 940.0h0M287.2 942.0h0M288.2 942.8h0M289.3 943.0h0M290.3 941.8h0M291.0 939.0h0M291.4 937.0h0M291.7 934.3h0M292.1 931.2h0M292.4 928.3h0M292.8 926.4h0M293.1 924.7h0M294.2 925.9h0M294.5 929.7h0M294.9 932.6h0M295.2 935.2h0M295.6 937.6h0M295.9 939.7h0M296.6 942.1h0M297.7 943.1h0M298.7 943.6h0M299.8 943.1h0M300.8 942.9h0M301.9 942.2h0M302.6 939.8h0M302.9 936.6h0M303.3 931.4h0M303.6 921.7h0M304.0 908.9h0M304.3 893.2h0M304.7 876.4h0M305.0 863.4h0M305.4 861.9h0M305.7 874.7h0M306.1 890.4h0M306.4 905.2h0M306.8 919.8h0M307.1 929.3h0M307.5 936.1h0M307.8 939.4h0M308.2 941.0h0M309.2 943.0h0M310.3 943.7h0M311.3 944.1h0M312.4 943.8h0M313.4 943.8h0M314.5 944.2h0M315.5 943.9h0M316.6 943.9h0M317.6 943.2h0M318.7 942.0h0M319.7 940.8h0M320.8 939.5h0M321.8 940.3h0M322.9 942.1h0M323.9 943.3h0M325.0 944.3h0M326.0 944.2h0M327.1 944.2h0M328.1 944.4h0M329.2 944.3h0M330.2 944.6h0M331.3 944.5h0M332.3 944.8h0M333.4 944.9h0M334.4 944.6h0M335.5 944.9h0M336.5 944.6h0M337.6 944.9h0M338.6 944.5h0M339.7 944.6h0M340.7 945.0h0M341.8 944.9h0M342.8 944.4h0M343.9 944.5h0M344.9 944.4h0M346.0 944.8h0M347.0 944.9h0M348.1 944.4h0M349.1 944.9h0M350.2 944.7h0M351.2 944.4h0M352.3 944.2h0M353.3 944.5h0M354.4 943.9h0M355.4 941.8h0M356.1 939.7h0M356.8 936.9h0M357.5 935.5h0M358.2 937.2h0M358.9 939.4h0M359.3 941.0h0M360.0 943.0h0M361.0 943.8h0M362.1 944.4h0M363.1 944.8h0M364.2 944.4h0M365.2 944.6h0M366.3 944.7h0M367.3 944.7h0M368.4 944.7h0M369.4 944.6h0M370.5 944.2h0M371.5 944.3h0M372.6 942.4h0M373.3 940.4h0M373.6 938.4h0M374.3 935.6h0M375.0 933.8h0M375.7 935.4h0M376.1 937.1h0M376.8 939.7h0M377.1 941.2h0M377.8 943.0h0M378.9 944.5h0M379.9 944.3h0M381.0 944.5h0M382.0 944.5h0M383.1 945.0h0M384.1 944.6h0M385.2 944.5h0M386.2 944.9h0M387.3 944.8h0M388.3 944.7h0M389.4 944.5h0M390.4 944.9h0M391.5 944.3h0M392.5 944.2h0M393.6 943.2h0M394.6 942.0h0M395.7 941.7h0M396.7 942.3h0M397.8 943.3h0M398.8 943.4h0M399.9 942.0h0M400.9 940.0h0M401.6 937.8h0M402.7 937.7h0M403.7 939.7h0M404.4 941.1h0M405.1 942.8h0M406.2 944.1h0M407.2 944.1h0M408.3 944.7h0M409.3 944.6h0M410.4 944.8h0M411.4 944.6h0M412.5 944.6h0M413.5 944.7h0M414.6 944.5h0M415.6 943.8h0M416.7 942.3h0M417.4 940.4h0M418.1 938.6h0M419.1 937.9h0M419.8 939.6h0M420.5 941.4h0M421.6 943.2h0M422.6 944.1h0M423.7 944.8h0M424.7 944.6h0M425.8 944.4h0M426.8 944.2h0M427.9 944.4h0M428.9 943.9h0M430.0 942.2h0M430.7 938.8h0M431.0 936.8h0M431.4 933.8h0M431.7 930.9h0M432.1 927.6h0M432.4 925.4h0M432.8 923.5h0M433.5 926.1h0M433.8 928.4h0M434.2 931.5h0M434.5 934.1h0M434.9 936.7h0M435.2 939.2h0M435.6 941.0h0M436.3 943.0h0M437.3 944.2h0M438.4 944.2h0M439.4 944.1h0M440.5 944.1h0M441.5 944.5h0M442.6 944.0h0M443.6 942.8h0M444.3 940.7h0M444.7 939.2h0M445.0 937.2h0M445.4 935.7h0M445.7 933.7h0M446.1 932.1h0M446.4 930.4h0M447.5 931.1h0M448.2 933.9h0M448.5 935.8h0M448.9 937.8h0M449.2 939.4h0M449.9 941.6h0M451.0 943.2h0M452.0 944.0h0M453.1 943.6h0M454.1 942.9h0M454.8 940.8h0M455.2 939.3h0M455.5 937.7h0M455.9 935.8h0M456.2 933.8h0M456.6 931.4h0M456.9 929.5h0M457.3 928.0h0M457.6 925.7h0M458.7 926.4h0M459.4 929.6h0M459.7 932.0h0M460.1 934.3h0M460.4 936.6h0M460.8 938.4h0M461.5 940.7h0M462.2 942.8h0M463.2 943.8h0M464.3 944.6h0M465.3 944.2h0M466.4 944.7h0M467.4 944.0h0M468.5 943.3h0M469.2 941.7h0M469.9 939.8h0M470.2 938.1h0M470.6 936.5h0M470.9 934.7h0M471.6 932.2h0M472.7 932.4h0M473.4 935.2h0M473.7 937.1h0M474.4 939.9h0M475.1 942.2h0M476.2 944.1h0M477.2 944.2h0M478.3 944.9h0M479.3 944.8h0M480.4 944.8h0M481.4 944.2h0M482.5 943.8h0M483.5 941.8h0M484.2 939.5h0M484.9 936.4h0M485.6 934.9h0M486.7 934.7h0M487.4 937.5h0M488.1 940.0h0M488.8 941.9h0M489.8 943.9h0M490.9 944.3h0M491.9 944.9h0M493.0 944.6h0M494.0 945.0h0M495.1 944.9h0M496.1 945.0h0M497.2 944.6h0M498.2 945.0h0M499.3 944.3h0M500.3 943.7h0M501.4 940.9h0M502.1 938.2h0M502.8 935.1h0M503.5 933.7h0M504.5 935.8h0M505.2 938.0h0M505.6 939.8h0M506.3 942.2h0M507.3 943.5h0M508.4 942.6h0M509.1 941.1h0M509.8 939.3h0M510.8 937.8h0M511.5 939.6h0M512.6 942.6h0M513.6 944.1h0M514.7 944.4h0M515.7 944.7h0M516.8 944.6h0M517.8 943.8h0M518.9 943.8h0M519.9 942.9h0M521.0 943.6h0M522.0 944.5h0M523.1 944.7h0M524.1 945.3h0M525.2 945.3h0M526.2 945.5h0M527.3 945.0h0M528.3 945.4h0M529.4 944.7h0M530.4 944.5h0M531.5 944.3h0M532.5 944.1h0M533.6 944.0h0M534.6 944.8h0M535.7 944.7h0M536.7 945.0h0M537.8 945.1h0M538.8 945.5h0M539.9 945.5h0M540.9 945.2h0M542.0 945.3h0M543.0 945.1h0M544.1 944.4h0M545.1 944.1h0M545.8 942.6h0M546.9 940.6h0M547.9 940.0h0M549.0 941.6h0M550.0 942.7h0M551.1 944.1h0M552.1 944.7h0M553.2 945.0h0M554.2 945.5h0M555.3 944.9h0M556.3 945.3h0M557.4 945.0h0M558.4 944.4h0M559.5 943.6h0M560.5 942.5h0M561.6 941.5h0M562.6 942.8h0M563.7 944.1h0M564.7 944.6h0M565.8 945.4h0M566.8 945.7h0M567.9 945.6h0M568.9 945.6h0M570.0 945.7h0M571.0 945.6h0M572.1 945.6h0M573.1 945.2h0M574.2 945.8h0M575.2 945.3h0M576.3 945.4h0M577.3 945.3h0M578.4 945.8h0M579.4 945.5h0" fill="none" stroke="#000" stroke-width="3.5" stroke-linecap="round"/>
<path d="M204.0,962.1 L204.5,962.5 L205.0,962.4 L205.5,962.4 L206.0,962.3 L206.5,962.2 L207.0,962.4 L207.5,962.3 L208.0,962.4 L208.5,962.7 L209.0,962.4 L209.5,962.2 L210.0,962.6 L210.5,962.6 L211.0,962.2 L211.5,962.5 L212.0,962.5 L212.5,962.7 L213.0,962.3 L213.5,962.2 L214.0,962.6 L214.5,962.6 L215.0,962.2 L215.5,962.6 L216.0,962.7 L216.5,962.2 L217.0,962.2 L217.5,962.7 L218.0,962.4 L218.5,962.6 L219.0,962.1 L219.5,962.2 L220.0,962.6 L220.5,962.1 L221.0,962.6 L221.5,962.3 L222.0,962.1 L222.5,962.6 L223.0,962.4 L223.5,962.2 L224.0,962.2 L224.5,962.3 L225.0,962.1 L225.5,962.6 L226.0,962.2 L226.5,962.2 L227.0,962.2 L227.5,962.1 L228.0,962.2 L228.5,962.6 L229.0,962.4 L229.5,962.3 L230.0,962.1 L230.5,962.6 L231.0,962.7 L231.5,962.5 L232.0,962.4 L232.5,962.2 L233.0,962.6 L233.5,962.6 L234.0,962.6 L234.5,962.5 L235.0,962.6 L235.5,962.2 L236.0,962.4 L236.5,962.1 L237.0,962.6 L237.5,962.5 L238.0,962.7 L238.5,962.5 L239.0,962.5 L239.5,962.6 L240.0,962.2 L240.5,962.6 L241.0,962.3 L241.5,962.5 L242.0,962.3 L242.5,962.5 L243.0,962.7 L243.5,962.7 L244.0,962.5 L244.5,962.4 L245.0,962.3 L245.5,962.1 L246.0,962.7 L246.5,962.5 L247.0,962.5 L247.5,962.1 L248.0,962.4 L248.5,962.3 L249.0,962.1 L249.5,962.1 L250.0,962.2 L250.5,962.7 L251.0,962.4 L251.5,962.5 L252.0,962.2 L252.5,962.6 L253.0,962.5 L253.5,962.6 L254.0,962.2 L254.5,962.5 L255.0,962.5 L255.5,962.5 L256.0,962.4 L256.5,962.2 L257.0,962.9 L257.5,962.5 L258.0,961.8 L258.5,961.3 L259.0,961.5 L259.5,960.4 L260.0,962.1 L260.5,960.8 L260.8,963.3 L261.2,962.7 L261.8,962.9 L262.2,962.6 L262.8,962.9 L263.2,963.1 L263.8,962.7 L264.2,962.4 L264.8,962.3 L265.2,962.1 L265.8,962.3 L266.2,962.3 L266.8,962.2 L267.2,962.5 L267.8,962.7 L268.2,962.9 L268.8,962.2 L269.2,961.8 L269.8,961.6 L270.2,962.6 L270.8,961.8 L271.2,961.2 L271.5,962.5 L272.0,962.5 L272.2,963.9 L272.5,962.6 L272.8,964.1 L273.0,962.7 L273.5,963.3 L273.8,962.0 L274.0,963.5 L274.2,961.2 L274.8,960.3 L275.2,963.3 L275.5,960.5 L275.8,962.0 L276.0,959.6 L276.2,964.0 L276.5,962.6 L276.8,965.4 L277.2,961.4 L277.5,964.7 L278.0,963.4 L278.2,966.2 L278.5,964.5 L278.8,962.0 L279.0,963.4 L279.5,962.7 L279.8,964.2 L280.0,962.1 L280.5,961.7 L281.0,960.9 L281.5,960.0 L281.8,961.7 L282.2,960.2 L282.5,958.6 L282.8,960.8 L283.2,959.1 L283.5,963.6 L283.8,960.7 L284.0,965.9 L284.2,961.5 L284.5,963.6 L284.8,965.9 L285.0,962.7 L285.2,964.7 L285.8,964.2 L286.2,963.1 L286.8,961.7 L287.0,963.2 L287.2,961.6 L287.8,962.1 L288.2,962.5 L288.8,962.3 L289.2,962.3 L289.8,962.7 L290.2,962.0 L290.8,961.2 L291.2,962.8 L291.8,961.6 L292.2,961.8 L292.8,961.3 L293.2,961.9 L293.8,963.4 L294.2,961.8 L294.5,964.8 L294.8,962.7 L295.0,964.4 L295.5,963.9 L295.8,962.5 L296.0,963.8 L296.2,962.4 L296.8,962.3 L297.2,962.4 L297.8,962.4 L298.2,962.3 L298.8,962.6 L299.2,962.3 L299.8,962.3 L300.2,962.5 L300.8,962.2 L301.2,962.6 L301.5,963.9 L302.0,964.5 L302.2,961.9 L302.5,963.8 L302.8,961.3 L303.2,964.0 L303.5,960.5 L303.8,951.5 L304.0,957.0 L304.5,961.4 L304.8,956.2 L305.0,951.5 L305.2,956.0 L305.5,974.0 L305.8,976.0 L306.0,971.4 L306.2,968.1 L306.5,963.6 L306.8,969.1 L307.0,970.4 L307.2,961.2 L307.5,965.6 L307.8,959.9 L308.0,962.1 L308.5,960.9 L309.0,961.9 L309.5,962.0 L310.0,962.5 L310.5,962.2 L311.0,962.3 L311.5,962.5 L312.0,962.2 L312.5,962.2 L313.0,962.4 L313.5,962.2 L314.0,962.4 L314.5,962.7 L315.0,962.4 L315.5,962.4 L316.0,962.2 L316.5,962.7 L317.0,962.4 L317.5,962.4 L318.0,961.8 L318.5,962.0 L319.0,961.8 L319.5,961.7 L320.0,961.6 L320.5,961.8 L321.0,962.5 L321.5,962.7 L322.0,962.9 L322.5,962.6 L323.0,962.3 L323.5,962.8 L324.0,962.9 L324.5,962.6 L325.0,962.1 L325.5,962.1 L326.0,962.0 L326.5,962.3 L327.0,962.4 L327.5,962.6 L328.0,962.3 L328.5,962.5 L329.0,962.6 L329.5,962.3 L330.0,962.7 L330.5,962.2 L331.0,962.5 L331.5,962.6 L332.0,962.5 L332.5,962.5 L333.0,962.3 L333.5,962.3 L334.0,962.2 L334.5,962.3 L335.0,962.2 L335.5,962.3 L336.0,962.6 L336.5,962.4 L337.0,962.2 L337.5,962.3 L338.0,962.4 L338.5,962.5 L339.0,962.7 L339.5,962.5 L340.0,962.2 L340.5,962.5 L341.0,962.6 L341.5,962.4 L342.0,962.3 L342.5,962.5 L343.0,962.2 L343.5,962.5 L344.0,962.3 L344.5,962.5 L345.0,962.4 L345.5,962.3 L346.0,962.3 L346.5,962.2 L347.0,962.2 L347.5,962.6 L348.0,962.5 L348.5,962.4 L349.0,962.1 L349.5,962.4 L350.0,962.5 L350.5,962.7 L351.0,962.5 L351.5,962.6 L352.0,962.3 L352.5,962.7 L353.0,962.5 L353.5,962.6 L354.0,962.4 L354.5,962.7 L355.0,962.1 L355.5,962.1 L356.0,961.8 L356.5,961.6 L357.0,962.7 L357.5,961.7 L358.0,962.4 L358.5,962.8 L359.0,962.4 L359.5,962.8 L360.0,962.3 L360.5,962.8 L361.0,962.7 L361.5,962.6 L362.0,962.1 L362.5,962.5 L363.0,962.1 L363.5,962.4 L364.0,962.5 L364.5,962.5 L365.0,962.2 L365.5,962.6 L366.0,962.1 L366.5,962.3 L367.0,962.5 L367.5,962.7 L368.0,962.1 L368.5,962.2 L369.0,962.2 L369.5,962.4 L370.0,962.4 L370.5,962.5 L371.0,962.8 L371.5,962.4 L372.0,962.0 L372.5,961.9 L373.0,962.5 L373.5,962.3 L374.0,962.5 L374.5,961.5 L374.8,962.8 L375.2,963.0 L375.8,962.2 L376.2,962.5 L376.8,962.6 L377.2,962.4 L377.8,962.6 L378.2,962.5 L378.8,962.2 L379.2,962.4 L379.8,962.6 L380.2,962.4 L380.8,962.2 L381.2,962.7 L381.8,962.3 L382.2,962.5 L382.8,962.6 L383.2,962.4 L383.8,962.1 L384.2,962.6 L384.8,962.1 L385.2,962.3 L385.8,962.2 L386.2,962.3 L386.8,962.1 L387.2,962.5 L387.8,962.6 L388.2,962.4 L388.8,962.2 L389.2,962.3 L389.8,962.5 L390.2,962.5 L390.8,962.2 L391.2,962.6 L391.8,962.2 L392.2,961.9 L392.8,961.8 L393.2,962.6 L393.8,961.7 L394.2,962.3 L394.8,961.9 L395.2,962.8 L395.8,961.9 L396.2,962.9 L396.8,962.8 L397.2,962.8 L397.8,962.6 L398.2,962.9 L398.8,962.3 L399.2,962.3 L399.8,962.1 L400.2,961.3 L400.8,961.3 L401.2,962.2 L401.8,962.7 L402.2,962.1 L402.8,961.8 L403.0,963.1 L403.5,962.2 L404.0,963.0 L404.5,963.4 L405.0,962.9 L405.5,962.9 L406.0,962.3 L406.5,962.6 L407.0,962.3 L407.5,962.3 L408.0,962.0 L408.5,962.0 L409.0,962.6 L409.5,962.6 L410.0,962.2 L410.5,962.4 L411.0,962.4 L411.5,962.3 L412.0,962.4 L412.5,962.4 L413.0,962.6 L413.5,962.6 L414.0,962.7 L414.5,962.8 L415.0,962.4 L415.5,962.3 L416.0,961.9 L416.5,961.5 L417.0,961.8 L417.5,961.2 L417.8,962.7 L418.2,961.7 L418.8,962.6 L419.2,963.2 L419.5,961.9 L419.8,963.6 L420.2,963.3 L420.8,962.7 L421.2,962.6 L421.8,962.7 L422.2,962.4 L422.8,962.4 L423.2,962.5 L423.8,962.3 L424.2,962.6 L424.8,962.4 L425.2,962.1 L425.8,962.5 L426.2,962.5 L426.8,962.7 L427.2,962.7 L427.8,962.7 L428.2,962.7 L428.8,962.8 L429.2,962.3 L429.8,962.3 L430.2,962.5 L430.8,962.0 L431.2,961.6 L431.8,961.8 L432.2,961.3 L432.8,963.0 L433.2,962.7 L433.8,963.6 L434.2,962.3 L434.8,963.3 L435.2,963.2 L435.8,962.9 L436.2,962.6 L436.8,962.0 L437.2,962.1 L437.8,962.4 L438.2,962.2 L438.8,962.1 L439.2,962.5 L439.8,962.3 L440.2,962.5 L440.8,962.6 L441.2,962.8 L441.8,962.5 L442.2,962.6 L442.8,962.6 L443.2,962.9 L443.8,962.5 L444.2,961.8 L444.8,962.6 L445.2,962.1 L445.8,961.7 L446.2,962.4 L446.8,961.7 L447.0,963.0 L447.5,963.1 L448.0,962.6 L448.5,962.4 L449.0,963.5 L449.5,962.2 L450.0,962.4 L450.5,962.3 L451.0,962.5 L451.5,962.4 L452.0,962.3 L452.5,962.3 L453.0,962.6 L453.5,962.3 L454.0,962.4 L454.5,961.8 L455.0,962.0 L455.5,961.4 L456.0,962.3 L456.2,961.1 L456.8,962.4 L457.2,962.6 L457.5,961.3 L457.8,962.5 L458.2,963.2 L458.8,962.7 L459.2,962.2 L459.8,963.4 L460.2,962.3 L460.8,963.1 L461.2,963.3 L461.8,962.7 L462.2,962.0 L462.8,961.8 L463.2,962.5 L463.8,962.0 L464.2,962.1 L464.8,962.3 L465.2,962.2 L465.8,962.6 L466.2,962.4 L466.8,962.4 L467.2,962.5 L467.8,962.5 L468.2,962.5 L468.8,962.8 L469.2,962.0 L469.8,962.0 L470.2,961.6 L470.8,961.3 L471.2,962.1 L471.8,963.0 L472.2,963.0 L472.8,962.6 L473.2,962.7 L473.8,962.7 L474.2,962.8 L474.8,963.0 L475.2,962.9 L475.8,962.2 L476.2,962.4 L476.8,962.4 L477.2,962.4 L477.8,962.2 L478.2,962.4 L478.8,962.5 L479.2,962.2 L479.8,962.5 L480.2,962.2 L480.8,962.7 L481.2,962.3 L481.8,962.6 L482.2,962.3 L482.8,962.3 L483.2,961.9 L483.8,962.4 L484.2,961.9 L484.8,962.2 L485.2,962.1 L485.8,962.9 L486.2,962.5 L486.8,962.5 L487.2,963.3 L487.8,963.1 L488.2,962.7 L488.8,962.7 L489.2,962.3 L489.8,962.8 L490.2,962.0 L490.8,962.4 L491.2,962.0 L491.8,962.0 L492.2,962.4 L492.8,962.2 L493.2,962.3 L493.8,962.4 L494.2,962.7 L494.8,962.4 L495.2,962.3 L495.8,962.4 L496.2,962.2 L496.8,962.2 L497.2,962.2 L497.8,962.7 L498.2,962.6 L498.8,962.2 L499.2,962.4 L499.8,962.5 L500.2,962.3 L500.8,962.2 L501.2,962.3 L501.8,962.0 L502.2,961.9 L502.8,961.7 L503.2,962.1 L503.8,962.9 L504.2,962.8 L504.8,963.2 L505.2,962.3 L505.8,962.9 L506.2,962.3 L506.8,963.1 L507.2,962.0 L507.8,962.2 L508.2,961.5 L508.8,962.0 L509.2,961.8 L509.8,962.2 L510.2,962.1 L510.8,963.0 L511.2,962.5 L511.8,963.1 L512.2,963.1 L512.8,962.3 L513.2,962.2 L513.8,962.6 L514.2,962.5 L514.8,962.1 L515.2,962.3 L515.8,962.3 L516.2,962.5 L516.8,962.4 L517.2,962.3 L517.8,961.9 L518.2,961.6 L518.8,962.5 L519.2,961.7 L519.8,962.5 L520.2,962.6 L520.8,962.6 L521.2,962.9 L521.8,962.4 L522.2,962.4 L522.8,962.6 L523.2,962.4 L523.8,962.8 L524.2,962.4 L524.8,962.2 L525.2,962.2 L525.8,962.4 L526.2,962.3 L526.8,962.3 L527.2,962.2 L527.8,962.5 L528.2,962.5 L528.8,962.3 L529.2,962.2 L529.8,962.4 L530.2,961.8 L530.8,962.1 L531.2,962.2 L531.8,962.0 L532.2,961.9 L532.8,962.3 L533.2,962.6 L533.8,962.7 L534.2,962.3 L534.8,962.6 L535.2,962.4 L535.8,962.5 L536.2,962.5 L536.8,962.2 L537.2,962.3 L537.8,962.4 L538.2,962.1 L538.8,962.4 L539.2,962.2 L539.8,962.5 L540.2,962.7 L540.8,962.1 L541.2,962.3 L541.8,962.7 L542.2,962.7 L542.8,962.6 L543.2,962.4 L543.8,962.4 L544.2,962.3 L544.8,962.3 L545.2,962.1 L545.8,962.2 L546.2,962.2 L546.8,961.8 L547.2,962.0 L547.8,962.0 L548.2,962.2 L548.8,962.8 L549.2,963.0 L549.8,962.8 L550.2,962.3 L550.8,962.8 L551.2,962.3 L551.8,962.5 L552.2,962.6 L552.8,962.3 L553.2,962.3 L553.8,962.1 L554.2,962.2 L554.8,962.2 L555.2,962.3 L555.8,962.7 L556.2,962.6 L556.8,962.4 L557.2,962.1 L557.8,962.5 L558.2,962.2 L558.8,962.6 L559.2,961.9 L559.8,962.1 L560.2,962.3 L560.8,962.0 L561.2,962.6 L561.8,962.3 L562.2,962.5 L562.8,962.8 L563.2,962.9 L563.8,962.6 L564.2,962.9 L564.8,962.4 L565.2,962.2 L565.8,962.7 L566.2,962.2 L566.8,962.2 L567.2,962.1 L567.8,962.4 L568.2,962.6 L568.8,962.4 L569.2,962.3 L569.8,962.3 L570.2,962.3 L570.8,962.4 L571.2,962.3 L571.8,962.2 L572.2,962.5 L572.8,962.2 L573.2,962.2 L573.8,962.2 L574.2,962.1 L574.8,962.1 L575.2,962.4 L575.8,962.2 L576.2,962.4 L576.8,962.7 L577.2,962.4 L577.8,962.4 L578.2,962.6 L578.8,962.5 L579.2,962.4 L579.8,962.5" fill="none" stroke="#35359a" stroke-width="1.1" stroke-linejoin="round"/>
<path d="M204.0,1089.2 L204.5,1089.2 L205.0,1089.2 L205.5,1089.2 L206.0,1089.2 L206.5,1089.2 L207.0,1089.2 L207.5,1089.2 L208.0,1089.2 L208.5,1089.2 L209.0,1089.2 L209.5,1089.2 L210.0,1089.2 L210.5,1089.2 L211.0,1089.2 L211.5,1089.2 L212.0,1089.2 L212.5,1089.2 L213.0,1089.2 L213.5,1089.2 L214.0,1089.2 L214.5,1089.2 L215.0,1089.2 L215.5,1089.2 L216.0,1089.2 L216.5,1089.2 L217.0,1089.2 L217.5,1089.2 L218.0,1089.2 L218.5,1089.2 L219.0,1089.2 L219.5,1089.2 L220.0,1089.2 L220.5,1089.1 L221.0,1089.1 L221.5,1089.1 L222.0,1089.1 L222.5,1089.1 L223.0,1089.1 L223.5,1089.1 L224.0,1089.1 L224.5,1089.1 L225.0,1089.1 L225.5,1089.1 L226.0,1089.1 L226.5,1089.1 L227.0,1089.1 L227.5,1089.1 L228.0,1089.1 L228.5,1089.1 L229.0,1089.1 L229.5,1089.1 L230.0,1089.1 L230.5,1089.1 L231.0,1089.1 L231.5,1089.1 L232.0,1089.1 L232.5,1089.1 L233.0,1089.1 L233.5,1089.1 L234.0,1089.1 L234.5,1089.1 L235.0,1089.1 L235.5,1089.1 L236.0,1089.1 L236.5,1089.1 L237.0,1089.1 L237.5,1089.1 L238.0,1089.1 L238.5,1089.1 L239.0,1089.1 L239.5,1089.1 L240.0,1089.1 L240.5,1089.1 L241.0,1089.1 L241.5,1089.1 L242.0,1089.1 L242.5,1089.1 L243.0,1089.1 L243.5,1089.1 L244.0,1089.1 L244.5,1089.1 L245.0,1089.1 L245.5,1089.1 L246.0,1089.1 L246.5,1089.1 L247.0,1089.1 L247.5,1089.1 L248.0,1089.1 L248.5,1089.1 L249.0,1089.1 L249.5,1089.1 L250.0,1089.1 L250.5,1089.1 L251.0,1089.1 L251.5,1089.1 L252.0,1089.1 L252.5,1089.0 L253.0,1089.0 L253.5,1089.0 L254.0,1089.0 L254.5,1089.0 L255.0,1089.0 L255.5,1089.0 L256.0,1089.0 L256.4,1089.0 L256.8,1089.0 L257.2,1089.0 L257.6,1089.0 L258.0,1089.0 L258.4,1089.0 L258.8,1089.0 L259.2,1089.0 L259.6,1089.0 L260.0,1089.0 L260.4,1089.0 L260.8,1089.0 L261.2,1089.0 L261.6,1089.0 L262.0,1089.0 L262.4,1089.0 L262.8,1089.0 L263.2,1089.0 L263.6,1089.0 L264.0,1089.0 L264.4,1089.0 L264.8,1089.0 L265.2,1089.0 L265.6,1088.9 L266.0,1088.9 L266.4,1088.9 L266.8,1088.9 L267.2,1088.9 L267.6,1088.9 L268.0,1088.9 L268.4,1088.9 L268.8,1088.9 L269.2,1088.9 L269.6,1088.9 L270.0,1088.8 L270.4,1088.8 L270.8,1088.8 L271.2,1088.8 L271.6,1088.8 L272.0,1088.7 L272.4,1088.7 L272.8,1088.6 L273.2,1088.6 L273.6,1088.5 L274.0,1088.5 L274.4,1088.4 L274.8,1088.2 L275.2,1088.1 L275.6,1087.8 L276.0,1087.4 L276.4,1086.5 L276.7,1085.1 L276.9,1083.6 L277.1,1081.6 L277.2,1080.3 L277.3,1078.8 L277.4,1077.1 L277.5,1075.1 L277.6,1073.0 L277.7,1070.7 L277.8,1068.1 L277.9,1065.5 L278.0,1062.6 L278.1,1059.8 L278.2,1056.8 L278.3,1054.0 L278.4,1051.2 L278.5,1048.7 L278.6,1046.4 L278.7,1044.5 L278.8,1043.1 L279.2,1043.1 L279.3,1044.5 L279.4,1046.4 L279.5,1048.7 L279.6,1051.2 L279.7,1054.0 L279.8,1056.8 L279.9,1059.7 L280.0,1062.6 L280.1,1065.4 L280.2,1068.1 L280.3,1070.7 L280.4,1073.0 L280.5,1075.1 L280.6,1077.0 L280.7,1078.7 L280.8,1080.2 L280.9,1081.5 L281.1,1083.6 L281.3,1085.1 L281.6,1086.4 L282.0,1087.3 L282.4,1087.8 L282.8,1088.0 L283.2,1088.2 L283.6,1088.3 L284.0,1088.4 L284.4,1088.4 L284.8,1088.5 L285.2,1088.5 L285.6,1088.6 L286.0,1088.6 L286.4,1088.6 L286.8,1088.6 L287.2,1088.7 L287.6,1088.7 L288.0,1088.7 L288.4,1088.7 L288.8,1088.7 L289.2,1088.7 L289.6,1088.6 L290.0,1088.6 L290.4,1088.6 L290.8,1088.6 L291.2,1088.5 L291.6,1088.5 L292.0,1088.4 L292.4,1088.2 L292.8,1087.9 L293.2,1087.2 L293.6,1085.9 L293.9,1084.3 L294.1,1083.0 L294.3,1081.5 L294.5,1079.9 L294.7,1078.3 L294.9,1076.7 L295.1,1075.5 L295.5,1074.3 L295.9,1075.4 L296.1,1076.7 L296.3,1078.3 L296.5,1079.9 L296.7,1081.5 L296.9,1083.0 L297.1,1084.3 L297.4,1085.8 L297.8,1087.1 L298.2,1087.8 L298.6,1088.1 L299.0,1088.2 L299.4,1088.3 L299.8,1088.3 L300.2,1088.3 L300.6,1088.3 L301.0,1088.3 L301.4,1088.2 L301.8,1088.2 L302.2,1088.1 L302.6,1088.0 L303.0,1087.9 L303.4,1087.6 L303.8,1087.2 L304.2,1086.4 L304.6,1084.8 L304.8,1083.5 L305.0,1081.6 L305.2,1079.3 L305.3,1077.9 L305.4,1076.3 L305.5,1074.6 L305.6,1072.7 L305.7,1070.7 L305.8,1068.6 L305.9,1066.4 L306.0,1064.2 L306.1,1061.9 L306.2,1059.6 L306.3,1057.4 L306.4,1055.4 L306.5,1053.5 L306.6,1051.8 L306.7,1050.4 L306.9,1048.8 L307.3,1050.4 L307.4,1051.7 L307.5,1053.3 L307.6,1055.2 L307.7,1057.3 L307.8,1059.4 L307.9,1061.7 L308.0,1063.9 L308.1,1066.1 L308.2,1068.3 L308.3,1070.4 L308.4,1072.3 L308.5,1074.2 L308.6,1075.8 L308.7,1077.4 L308.8,1078.7 L308.9,1079.9 L309.1,1081.9 L309.3,1083.3 L309.6,1084.6 L310.0,1085.0 L310.4,1084.0 L310.7,1082.2 L310.9,1080.3 L311.1,1077.9 L311.2,1076.4 L311.3,1074.8 L311.4,1073.1 L311.5,1071.3 L311.6,1069.3 L311.7,1067.2 L311.8,1065.1 L311.9,1063.0 L312.0,1060.9 L312.1,1058.8 L312.2,1056.9 L312.3,1055.1 L312.4,1053.5 L312.5,1052.3 L312.7,1050.7 L313.1,1052.3 L313.2,1053.7 L313.3,1055.2 L313.4,1057.0 L313.5,1059.0 L313.6,1061.1 L313.7,1063.2 L313.8,1065.4 L313.9,1067.6 L314.0,1069.6 L314.1,1071.6 L314.2,1073.5 L314.3,1075.3 L314.4,1076.9 L314.5,1078.4 L314.6,1079.8 L314.8,1082.0 L315.0,1083.7 L315.2,1085.0 L315.5,1086.3 L315.9,1087.2 L316.3,1087.7 L316.7,1087.9 L317.1,1088.1 L317.5,1088.2 L317.9,1088.3 L318.3,1088.3 L318.7,1088.4 L319.1,1088.5 L319.5,1088.5 L319.9,1088.5 L320.3,1088.6 L320.7,1088.6 L321.1,1088.6 L321.5,1088.6 L321.9,1088.7 L322.3,1088.7 L322.7,1088.7 L323.1,1088.7 L323.5,1088.7 L323.9,1088.7 L324.3,1088.7 L324.7,1088.7 L325.1,1088.7 L325.5,1088.7 L325.9,1088.7 L326.3,1088.7 L326.7,1088.8 L327.1,1088.8 L327.5,1088.8 L327.9,1088.8 L328.3,1088.8 L328.7,1088.8 L329.1,1088.8 L329.5,1088.8 L329.9,1088.8 L330.3,1088.8 L330.7,1088.8 L331.1,1088.8 L331.5,1088.8 L331.9,1088.8 L332.3,1088.8 L332.7,1088.8 L333.1,1088.8 L333.5,1088.8 L333.9,1088.8 L334.3,1088.8 L334.7,1088.8 L335.1,1088.8 L335.5,1088.7 L335.9,1088.7 L336.3,1088.7 L336.7,1088.7 L337.1,1088.7 L337.5,1088.7 L337.9,1088.7 L338.3,1088.7 L338.7,1088.7 L339.1,1088.7 L339.5,1088.7 L339.9,1088.7 L340.3,1088.7 L340.7,1088.6 L341.1,1088.6 L341.5,1088.6 L341.9,1088.6 L342.3,1088.6 L342.7,1088.5 L343.1,1088.5 L343.5,1088.5 L343.9,1088.4 L344.3,1088.4 L344.7,1088.3 L345.1,1088.2 L345.5,1088.1 L345.9,1088.0 L346.3,1087.9 L346.7,1087.7 L347.1,1087.3 L347.5,1086.8 L347.9,1085.6 L348.2,1083.9 L348.4,1082.0 L348.5,1080.8 L348.6,1079.4 L348.7,1077.7 L348.8,1075.8 L348.9,1073.7 L349.0,1071.2 L349.1,1068.5 L349.2,1065.5 L349.3,1062.3 L349.4,1058.9 L349.5,1055.3 L349.6,1051.6 L349.7,1047.9 L349.8,1044.3 L349.9,1040.8 L350.0,1037.5 L350.1,1034.6 L350.2,1032.3 L350.3,1030.5 L350.5,1029.0 L350.7,1030.5 L350.8,1032.3 L350.9,1034.6 L351.0,1037.5 L351.1,1040.8 L351.2,1044.3 L351.3,1047.9 L351.4,1051.6 L351.5,1055.3 L351.6,1058.9 L351.7,1062.3 L351.8,1065.5 L351.9,1068.5 L352.0,1071.2 L352.1,1073.7 L352.2,1075.8 L352.3,1077.7 L352.4,1079.4 L352.5,1080.8 L352.6,1082.0 L352.8,1083.9 L353.0,1085.1 L353.4,1086.6 L353.8,1087.2 L354.2,1087.6 L354.6,1087.8 L355.0,1088.0 L355.4,1088.1 L355.8,1088.2 L356.2,1088.3 L356.6,1088.3 L357.0,1088.4 L357.4,1088.4 L357.8,1088.5 L358.2,1088.5 L358.6,1088.5 L359.0,1088.6 L359.4,1088.6 L359.8,1088.6 L360.2,1088.6 L360.6,1088.6 L361.0,1088.6 L361.4,1088.6 L361.8,1088.7 L362.2,1088.7 L362.6,1088.7 L363.0,1088.7 L363.4,1088.7 L363.8,1088.7 L364.2,1088.7 L364.6,1088.7 L365.0,1088.7 L365.4,1088.7 L365.8,1088.7 L366.2,1088.7 L366.6,1088.7 L367.0,1088.7 L367.4,1088.7 L367.8,1088.7 L368.2,1088.7 L368.6,1088.7 L369.0,1088.7 L369.4,1088.7 L369.8,1088.7 L370.2,1088.7 L370.6,1088.7 L371.0,1088.7 L371.4,1088.7 L371.8,1088.7 L372.2,1088.7 L372.6,1088.6 L373.0,1088.6 L373.4,1088.6 L373.8,1088.6 L374.2,1088.5 L374.6,1088.5 L375.0,1088.4 L375.4,1088.3 L375.8,1088.0 L376.2,1087.4 L376.6,1086.2 L376.9,1084.7 L377.1,1083.5 L377.3,1082.1 L377.5,1080.7 L377.7,1079.3 L377.9,1078.1 L378.3,1077.0 L378.7,1078.1 L378.9,1079.3 L379.1,1080.7 L379.3,1082.2 L379.5,1083.5 L379.7,1084.7 L380.0,1086.2 L380.4,1087.4 L380.8,1088.0 L381.2,1088.3 L381.6,1088.4 L382.0,1088.5 L382.4,1088.5 L382.8,1088.6 L383.2,1088.6 L383.6,1088.6 L384.0,1088.6 L384.4,1088.6 L384.8,1088.7 L385.2,1088.7 L385.6,1088.7 L386.0,1088.7 L386.4,1088.7 L386.8,1088.7 L387.2,1088.7 L387.6,1088.7 L388.0,1088.7 L388.4,1088.7 L388.8,1088.7 L389.2,1088.7 L389.6,1088.7 L390.0,1088.7 L390.4,1088.7 L390.8,1088.7 L391.2,1088.7 L391.6,1088.7 L392.0,1088.7 L392.4,1088.7 L392.8,1088.7 L393.2,1088.7 L393.6,1088.7 L394.0,1088.7 L394.4,1088.7 L394.8,1088.7 L395.2,1088.7 L395.6,1088.7 L396.0,1088.7 L396.4,1088.7 L396.8,1088.7 L397.2,1088.7 L397.6,1088.7 L398.0,1088.7 L398.4,1088.7 L398.8,1088.7 L399.2,1088.7 L399.6,1088.7 L400.0,1088.7 L400.4,1088.7 L400.8,1088.7 L401.2,1088.7 L401.6,1088.7 L402.0,1088.7 L402.4,1088.7 L402.8,1088.7 L403.2,1088.7 L403.6,1088.7 L404.0,1088.7 L404.4,1088.7 L404.8,1088.7 L405.2,1088.7 L405.6,1088.7 L406.0,1088.7 L406.4,1088.7 L406.8,1088.7 L407.2,1088.7 L407.6,1088.7 L408.0,1088.7 L408.4,1088.7 L408.8,1088.7 L409.2,1088.7 L409.6,1088.7 L410.0,1088.7 L410.4,1088.7 L410.8,1088.7 L411.2,1088.7 L411.6,1088.7 L412.0,1088.7 L412.4,1088.7 L412.8,1088.7 L413.2,1088.7 L413.6,1088.7 L414.0,1088.7 L414.4,1088.7 L414.8,1088.7 L415.2,1088.7 L415.6,1088.7 L416.0,1088.7 L416.4,1088.7 L416.8,1088.7 L417.2,1088.6 L417.6,1088.6 L418.0,1088.6 L418.4,1088.6 L418.8,1088.6 L419.2,1088.6 L419.6,1088.6 L420.0,1088.6 L420.4,1088.6 L420.8,1088.6 L421.2,1088.6 L421.6,1088.6 L422.0,1088.6 L422.4,1088.6 L422.8,1088.6 L423.2,1088.6 L423.6,1088.6 L424.0,1088.6 L424.4,1088.6 L424.8,1088.6 L425.2,1088.6 L425.6,1088.6 L426.0,1088.6 L426.4,1088.6 L426.8,1088.5 L427.2,1088.5 L427.6,1088.5 L428.0,1088.5 L428.4,1088.5 L428.8,1088.5 L429.2,1088.4 L429.6,1088.4 L430.0,1088.4 L430.4,1088.3 L430.8,1088.3 L431.2,1088.2 L431.6,1088.1 L432.0,1088.0 L432.4,1087.8 L432.8,1087.3 L433.2,1086.3 L433.5,1084.9 L433.7,1083.5 L433.9,1081.6 L434.1,1079.2 L434.2,1077.9 L434.3,1076.4 L434.4,1074.8 L434.5,1073.2 L434.6,1071.5 L434.7,1069.7 L434.8,1068.0 L434.9,1066.4 L435.0,1064.9 L435.1,1063.6 L435.3,1061.7 L435.7,1061.7 L435.9,1063.6 L436.0,1064.9 L436.1,1066.4 L436.2,1068.0 L436.3,1069.7 L436.4,1071.5 L436.5,1073.2 L436.6,1074.8 L436.7,1076.4 L436.8,1077.9 L436.9,1079.2 L437.0,1080.5 L437.2,1082.6 L437.4,1084.3 L437.6,1085.5 L438.0,1086.9 L438.4,1087.6 L438.8,1087.9 L439.2,1088.0 L439.6,1088.2 L440.0,1088.2 L440.4,1088.3 L440.8,1088.3 L441.2,1088.4 L441.6,1088.4 L442.0,1088.4 L442.4,1088.4 L442.8,1088.5 L443.2,1088.5 L443.6,1088.5 L444.0,1088.5 L444.4,1088.5 L444.8,1088.5 L445.2,1088.5 L445.6,1088.5 L446.0,1088.5 L446.4,1088.5 L446.8,1088.5 L447.2,1088.5 L447.6,1088.5 L448.0,1088.5 L448.4,1088.5 L448.8,1088.5 L449.2,1088.5 L449.6,1088.5 L450.0,1088.5 L450.4,1088.5 L450.8,1088.5 L451.2,1088.5 L451.6,1088.5 L452.0,1088.5 L452.4,1088.5 L452.8,1088.5 L453.2,1088.5 L453.6,1088.5 L454.0,1088.5 L454.4,1088.5 L454.8,1088.5 L455.2,1088.5 L455.6,1088.5 L456.0,1088.5 L456.4,1088.5 L456.8,1088.5 L457.2,1088.5 L457.6,1088.5 L458.0,1088.5 L458.4,1088.5 L458.8,1088.5 L459.2,1088.5 L459.6,1088.5 L460.0,1088.5 L460.4,1088.5 L460.8,1088.5 L461.2,1088.5 L461.6,1088.5 L462.0,1088.5 L462.4,1088.5 L462.8,1088.5 L463.2,1088.4 L463.6,1088.4 L464.0,1088.4 L464.4,1088.4 L464.8,1088.4 L465.2,1088.4 L465.6,1088.4 L466.0,1088.3 L466.4,1088.3 L466.8,1088.3 L467.2,1088.3 L467.6,1088.2 L468.0,1088.2 L468.4,1088.1 L468.8,1088.0 L469.2,1087.9 L469.6,1087.8 L470.0,1087.6 L470.4,1087.2 L470.8,1086.4 L471.2,1084.8 L471.4,1083.3 L471.6,1081.3 L471.7,1080.1 L471.8,1078.6 L471.9,1077.0 L472.0,1075.3 L472.1,1073.3 L472.2,1071.2 L472.3,1069.0 L472.4,1066.7 L472.5,1064.3 L472.6,1061.8 L472.7,1059.5 L472.8,1057.2 L472.9,1055.1 L473.0,1053.2 L473.1,1051.6 L473.3,1049.7 L473.7,1051.6 L473.8,1053.2 L473.9,1055.1 L474.0,1057.2 L474.1,1059.5 L474.2,1061.8 L474.3,1064.3 L474.4,1066.7 L474.5,1069.0 L474.6,1071.2 L474.7,1073.3 L474.8,1075.3 L474.9,1077.0 L475.0,1078.6 L475.1,1080.1 L475.2,1081.3 L475.4,1083.3 L475.6,1084.7 L475.9,1086.1 L476.3,1087.1 L476.7,1087.5 L477.1,1087.7 L477.5,1087.9 L477.9,1088.0 L478.3,1088.0 L478.7,1088.1 L479.1,1088.2 L479.5,1088.2 L479.9,1088.2 L480.3,1088.3 L480.7,1088.3 L481.1,1088.3 L481.5,1088.3 L481.9,1088.3 L482.3,1088.4 L482.7,1088.4 L483.1,1088.4 L483.5,1088.4 L483.9,1088.4 L484.3,1088.4 L484.7,1088.4 L485.1,1088.4 L485.5,1088.4 L485.9,1088.4 L486.3,1088.4 L486.7,1088.4 L487.1,1088.4 L487.5,1088.4 L487.9,1088.4 L488.3,1088.4 L488.7,1088.4 L489.1,1088.4 L489.5,1088.4 L489.9,1088.4 L490.3,1088.4 L490.7,1088.4 L491.1,1088.3 L491.5,1088.3 L491.9,1088.3 L492.3,1088.3 L492.7,1088.2 L493.1,1088.1 L493.5,1087.9 L493.9,1087.5 L494.3,1087.0 L494.7,1086.3 L495.1,1085.4 L495.5,1084.6 L495.9,1084.0 L496.3,1083.7 L496.7,1084.0 L497.1,1084.6 L497.5,1085.4 L497.9,1086.2 L498.3,1086.9 L498.7,1087.4 L499.1,1087.8 L499.5,1088.0 L499.9,1088.1 L500.3,1088.1 L500.7,1088.2 L501.1,1088.2 L501.5,1088.1 L501.9,1088.1 L502.3,1088.1 L502.7,1088.0 L503.1,1087.9 L503.5,1087.6 L503.9,1087.0 L504.3,1085.9 L504.6,1084.6 L504.9,1082.7 L505.1,1081.3 L505.3,1079.7 L505.5,1078.1 L505.7,1076.6 L505.9,1075.3 L506.3,1074.2 L506.7,1075.3 L506.9,1076.6 L507.1,1078.1 L507.3,1079.7 L507.5,1081.3 L507.7,1082.7 L507.9,1084.0 L508.2,1085.4 L508.6,1086.7 L509.0,1087.4 L509.4,1087.7 L509.8,1087.8 L510.2,1087.8 L510.6,1087.7 L511.0,1087.5 L511.4,1086.9 L511.8,1085.9 L512.2,1084.3 L512.5,1082.8 L512.8,1081.3 L513.1,1080.1 L513.5,1079.4 L513.9,1080.1 L514.2,1081.4 L514.5,1082.9 L514.8,1084.4 L515.1,1085.6 L515.5,1086.8 L515.9,1087.5 L516.3,1087.9 L516.7,1088.1 L517.1,1088.1 L517.5,1088.2 L517.9,1088.2 L518.3,1088.3 L518.7,1088.3 L519.1,1088.3 L519.5,1088.3 L519.9,1088.3 L520.3,1088.3 L520.7,1088.3 L521.1,1088.3 L521.5,1088.3 L521.9,1088.4 L522.3,1088.4 L522.7,1088.4 L523.1,1088.4 L523.5,1088.4 L523.9,1088.4 L524.3,1088.4 L524.7,1088.4 L525.1,1088.4 L525.5,1088.4 L525.9,1088.4 L526.3,1088.4 L526.7,1088.4 L527.1,1088.4 L527.5,1088.4 L527.9,1088.4 L528.3,1088.4 L528.7,1088.4 L529.1,1088.4 L529.5,1088.4 L529.9,1088.4 L530.3,1088.4 L530.7,1088.4 L531.1,1088.4 L531.5,1088.4 L531.9,1088.4 L532.3,1088.4 L532.7,1088.4 L533.1,1088.4 L533.5,1088.4 L533.9,1088.4 L534.3,1088.4 L534.7,1088.4 L535.1,1088.4 L535.5,1088.4 L535.9,1088.4 L536.3,1088.4 L536.7,1088.4 L537.1,1088.4 L537.5,1088.3 L537.9,1088.3 L538.3,1088.3 L538.7,1088.3 L539.1,1088.3 L539.5,1088.3 L539.9,1088.3 L540.3,1088.3 L540.7,1088.3 L541.1,1088.3 L541.5,1088.3 L541.9,1088.3 L542.3,1088.3 L542.7,1088.3 L543.1,1088.3 L543.5,1088.3 L543.9,1088.3 L544.3,1088.3 L544.7,1088.2 L545.1,1088.2 L545.5,1088.2 L545.9,1088.2 L546.3,1088.2 L546.7,1088.1 L547.1,1088.1 L547.5,1088.0 L547.9,1087.9 L548.3,1087.7 L548.7,1087.3 L549.1,1086.7 L549.5,1085.7 L549.9,1084.3 L550.2,1083.1 L550.5,1081.6 L550.8,1080.2 L551.1,1079.0 L551.5,1077.9 L551.9,1077.9 L552.3,1079.0 L552.6,1080.2 L552.9,1081.6 L553.2,1083.0 L553.5,1084.3 L553.9,1085.7 L554.3,1086.7 L554.7,1087.3 L555.1,1087.7 L555.5,1087.9 L555.9,1088.0 L556.3,1088.0 L556.7,1088.1 L557.1,1088.1 L557.5,1088.1 L557.9,1088.1 L558.3,1088.1 L558.7,1088.1 L559.1,1088.1 L559.5,1088.1 L559.9,1088.1 L560.3,1088.0 L560.7,1087.8 L561.1,1087.6 L561.5,1087.2 L561.9,1086.6 L562.3,1086.0 L562.7,1085.4 L563.1,1084.9 L563.5,1084.7 L563.9,1084.9 L564.3,1085.4 L564.7,1086.0 L565.1,1086.6 L565.5,1087.2 L565.9,1087.6 L566.3,1087.8 L566.7,1088.0 L567.1,1088.1 L567.5,1088.1 L567.9,1088.1 L568.3,1088.2 L568.7,1088.2 L569.1,1088.2 L569.5,1088.2 L569.9,1088.2 L570.3,1088.2 L570.7,1088.2 L571.1,1088.1 L571.5,1088.1 L571.9,1088.1 L572.3,1088.1 L572.7,1088.0 L573.1,1087.9 L573.5,1087.7 L573.9,1087.4 L574.3,1086.9 L574.7,1086.1 L575.1,1085.1 L575.5,1083.7 L575.9,1082.4 L576.3,1081.2 L576.7,1080.6 L577.1,1080.8 L577.5,1081.7 L577.9,1083.0 L578.3,1084.4 L578.7,1085.6 L579.1,1086.6 L579.5,1087.2 L579.9,1087.6" fill="none" stroke="#3a9e9e" stroke-width="1.4" stroke-linejoin="round"/>
<path d="M204.2 1088.9h0M205.2 1089.4h0M206.3 1088.9h0M207.3 1089.3h0M208.4 1088.9h0M209.4 1089.5h0M210.5 1089.2h0M211.5 1089.0h0M212.6 1089.4h0M213.6 1089.2h0M214.7 1089.2h0M215.7 1089.4h0M216.8 1088.8h0M217.8 1089.5h0M218.9 1089.0h0M219.9 1089.0h0M221.0 1088.9h0M222.0 1089.4h0M223.1 1089.5h0M224.1 1089.5h0M225.2 1089.0h0M226.2 1088.9h0M227.3 1089.0h0M228.3 1088.9h0M229.4 1089.2h0M230.4 1088.8h0M231.5 1088.8h0M232.5 1089.1h0M233.6 1089.3h0M234.6 1089.1h0M235.7 1088.9h0M236.7 1089.4h0M237.8 1089.0h0M238.8 1089.2h0M239.9 1088.8h0M240.9 1089.4h0M242.0 1089.0h0M243.0 1089.3h0M244.1 1089.2h0M245.1 1089.3h0M246.2 1089.0h0M247.2 1089.3h0M248.3 1088.9h0M249.3 1089.1h0M250.4 1088.7h0M251.4 1088.9h0M252.5 1089.3h0M253.5 1088.7h0M254.6 1088.8h0M255.6 1089.2h0M256.7 1089.3h0M257.7 1088.9h0M258.8 1088.7h0M259.8 1088.7h0M260.9 1089.3h0M261.9 1089.3h0M263.0 1088.7h0M264.0 1089.3h0M265.1 1088.9h0M266.1 1088.7h0M267.2 1088.8h0M268.2 1088.7h0M269.3 1089.0h0M270.4 1088.7h0M271.4 1088.8h0M272.5 1088.7h0M273.5 1088.6h0M274.6 1088.7h0M275.6 1088.1h0M276.7 1085.7h0M277.0 1082.9h0M277.4 1078.4h0M277.7 1071.7h0M278.1 1063.0h0M278.4 1054.2h0M278.8 1047.7h0M279.5 1050.0h0M279.8 1059.4h0M280.2 1068.5h0M280.5 1075.8h0M280.9 1081.2h0M281.2 1084.5h0M281.6 1086.6h0M282.6 1087.7h0M283.7 1088.1h0M284.7 1088.5h0M285.8 1088.3h0M286.8 1088.9h0M287.9 1088.9h0M288.9 1088.8h0M290.0 1088.8h0M291.0 1088.5h0M292.1 1088.4h0M293.1 1087.3h0M293.8 1085.5h0M294.2 1083.0h0M294.5 1080.1h0M294.9 1078.2h0M295.2 1075.8h0M296.3 1079.0h0M296.6 1081.2h0M297.0 1083.4h0M297.3 1085.4h0M297.7 1087.0h0M298.7 1088.3h0M299.8 1088.4h0M300.8 1088.1h0M301.9 1088.3h0M302.9 1088.0h0M304.0 1086.9h0M304.7 1084.6h0M305.0 1081.8h0M305.4 1077.6h0M305.7 1072.4h0M306.1 1064.2h0M306.4 1056.8h0M306.8 1052.3h0M307.1 1050.4h0M307.5 1054.5h0M307.8 1060.9h0M308.2 1068.7h0M308.5 1074.8h0M308.9 1079.9h0M309.2 1083.1h0M309.9 1085.0h0M310.6 1083.6h0M311.0 1080.5h0M311.3 1075.8h0M311.7 1069.6h0M312.0 1062.6h0M312.4 1056.6h0M312.7 1052.5h0M313.4 1058.7h0M313.8 1066.0h0M314.1 1073.0h0M314.5 1078.0h0M314.8 1082.0h0M315.2 1084.9h0M315.9 1087.3h0M316.9 1087.8h0M318.0 1088.3h0M319.0 1088.2h0M320.1 1088.4h0M321.1 1088.6h0M322.2 1088.4h0M323.2 1088.7h0M324.3 1088.7h0M325.3 1088.9h0M326.4 1088.9h0M327.4 1088.5h0M328.5 1088.6h0M329.5 1088.9h0M330.6 1088.9h0M331.6 1088.9h0M332.7 1089.0h0M333.7 1088.5h0M334.8 1088.6h0M335.8 1088.6h0M336.9 1088.5h0M337.9 1088.6h0M339.0 1089.1h0M340.0 1089.0h0M341.1 1088.4h0M342.1 1088.4h0M343.2 1088.3h0M344.2 1088.6h0M345.3 1088.5h0M346.3 1088.0h0M347.4 1087.3h0M348.1 1085.0h0M348.4 1082.6h0M348.8 1077.5h0M349.1 1069.7h0M349.5 1059.5h0M349.8 1046.8h0M350.2 1036.8h0M350.5 1032.8h0M350.9 1037.7h0M351.2 1046.7h0M351.6 1059.2h0M351.9 1069.9h0M352.3 1077.6h0M352.6 1082.4h0M353.0 1084.7h0M353.3 1086.5h0M354.0 1087.9h0M355.1 1088.0h0M356.1 1088.0h0M357.2 1088.2h0M358.2 1088.7h0M359.3 1088.5h0M360.3 1088.8h0M361.4 1088.7h0M362.4 1088.5h0M363.5 1088.9h0M364.5 1088.9h0M365.6 1088.9h0M366.6 1089.0h0M367.7 1088.6h0M368.7 1088.4h0M369.8 1088.8h0M370.8 1088.8h0M371.9 1088.9h0M372.9 1088.8h0M374.0 1088.3h0M375.0 1088.3h0M376.1 1087.6h0M376.8 1085.6h0M377.1 1083.6h0M377.5 1081.5h0M377.8 1079.6h0M378.2 1078.0h0M378.9 1079.6h0M379.2 1081.7h0M379.6 1084.3h0M379.9 1085.8h0M380.3 1087.4h0M381.3 1088.7h0M382.4 1088.9h0M383.4 1088.5h0M384.5 1088.8h0M385.5 1088.6h0M386.6 1088.9h0M387.6 1088.8h0M388.7 1088.7h0M389.7 1088.9h0M390.8 1089.0h0M391.8 1088.6h0M392.9 1089.0h0M393.9 1088.6h0M395.0 1088.4h0M396.0 1088.7h0M397.1 1088.5h0M398.1 1088.4h0M399.2 1088.8h0M400.2 1088.5h0M401.3 1088.5h0M402.3 1088.3h0M403.4 1089.0h0M404.4 1089.0h0M405.5 1088.6h0M406.5 1088.9h0M407.6 1088.9h0M408.6 1088.4h0M409.7 1088.4h0M410.7 1088.5h0M411.8 1088.8h0M412.8 1088.7h0M413.9 1088.4h0M414.9 1088.8h0M416.0 1088.4h0M417.0 1088.9h0M418.1 1088.4h0M419.1 1088.4h0M420.2 1088.5h0M421.2 1088.4h0M422.3 1088.8h0M423.3 1088.3h0M424.4 1088.7h0M425.4 1088.4h0M426.5 1088.3h0M427.5 1088.5h0M428.6 1088.6h0M429.6 1088.2h0M430.7 1088.4h0M431.7 1088.3h0M432.8 1087.4h0M433.5 1085.6h0M433.8 1082.8h0M434.2 1079.4h0M434.5 1073.9h0M434.9 1068.3h0M435.2 1064.0h0M435.6 1062.0h0M435.9 1065.2h0M436.3 1069.9h0M436.6 1076.1h0M437.0 1080.3h0M437.3 1083.6h0M437.7 1085.6h0M438.0 1087.1h0M439.1 1088.3h0M440.1 1088.6h0M441.2 1088.6h0M442.2 1088.2h0M443.3 1088.3h0M444.3 1088.5h0M445.4 1088.2h0M446.4 1088.3h0M447.5 1088.8h0M448.5 1088.2h0M449.6 1088.4h0M450.6 1088.5h0M451.7 1088.8h0M452.7 1088.4h0M453.8 1088.4h0M454.8 1088.5h0M455.9 1088.5h0M456.9 1088.8h0M458.0 1088.5h0M459.0 1088.7h0M460.1 1088.5h0M461.1 1088.4h0M462.2 1088.7h0M463.2 1088.6h0M464.3 1088.2h0M465.3 1088.2h0M466.4 1088.3h0M467.4 1088.4h0M468.5 1088.0h0M469.5 1087.9h0M470.6 1087.0h0M471.3 1085.1h0M471.6 1081.4h0M472.0 1076.8h0M472.3 1070.5h0M472.7 1061.7h0M473.0 1056.5h0M473.4 1051.4h0M473.7 1054.2h0M474.1 1060.6h0M474.4 1068.4h0M474.8 1074.6h0M475.1 1080.2h0M475.5 1084.0h0M475.8 1085.6h0M476.5 1087.3h0M477.6 1088.1h0M478.6 1088.1h0M479.7 1088.5h0M480.7 1088.1h0M481.8 1088.4h0M482.8 1088.2h0M483.9 1088.7h0M484.9 1088.4h0M486.0 1088.5h0M487.0 1088.3h0M488.1 1088.4h0M489.1 1088.4h0M490.2 1088.4h0M491.2 1088.4h0M492.3 1088.0h0M493.3 1088.3h0M494.4 1087.0h0M495.1 1085.5h0M496.1 1084.0h0M497.2 1085.0h0M498.2 1086.6h0M499.3 1088.2h0M500.3 1088.2h0M501.4 1088.5h0M502.4 1088.3h0M503.5 1087.8h0M504.5 1085.1h0M504.9 1083.5h0M505.2 1081.1h0M505.6 1078.6h0M505.9 1075.9h0M507.0 1078.2h0M507.3 1080.1h0M507.7 1082.6h0M508.0 1084.9h0M508.4 1086.5h0M509.4 1087.8h0M510.5 1087.7h0M511.5 1086.9h0M512.2 1084.9h0M512.6 1082.8h0M513.3 1080.5h0M514.3 1082.1h0M514.7 1084.0h0M515.0 1085.4h0M515.7 1087.4h0M516.8 1088.1h0M517.8 1088.2h0M518.9 1088.2h0M519.9 1088.1h0M521.0 1088.7h0M522.0 1088.3h0M523.1 1088.2h0M524.1 1088.0h0M525.2 1088.5h0M526.2 1088.7h0M527.3 1088.1h0M528.3 1088.6h0M529.4 1088.7h0M530.4 1088.1h0M531.5 1088.4h0M532.5 1088.2h0M533.6 1088.2h0M534.6 1088.6h0M535.7 1088.7h0M536.7 1088.0h0M537.8 1088.5h0M538.8 1088.1h0M539.9 1088.1h0M540.9 1088.4h0M542.0 1088.2h0M543.0 1088.5h0M544.1 1088.4h0M545.1 1088.3h0M546.2 1088.1h0M547.2 1087.9h0M548.3 1087.6h0M549.3 1086.6h0M550.0 1084.3h0M550.4 1082.6h0M551.1 1079.7h0M551.8 1078.3h0M552.5 1080.0h0M553.2 1082.9h0M553.5 1084.9h0M554.2 1086.9h0M555.3 1087.4h0M556.3 1088.1h0M557.4 1087.8h0M558.4 1088.1h0M559.5 1088.2h0M560.5 1087.8h0M561.6 1087.1h0M562.6 1085.7h0M563.7 1085.1h0M564.7 1086.2h0M565.8 1087.8h0M566.8 1088.0h0M567.9 1087.8h0M568.9 1088.3h0M570.0 1088.4h0M571.0 1088.4h0M572.1 1087.8h0M573.1 1087.8h0M574.2 1087.5h0M574.9 1085.9h0M575.6 1084.2h0M575.9 1082.6h0M577.0 1081.3h0M578.0 1083.6h0M578.4 1085.0h0M579.1 1086.6h0" fill="none" stroke="#000" stroke-width="3.5" stroke-linecap="round"/>
<path d="M204.0,1107.1 L204.5,1107.3 L205.0,1107.3 L205.5,1107.4 L206.0,1107.4 L206.5,1107.1 L207.0,1107.3 L207.5,1107.3 L208.0,1107.1 L208.5,1107.1 L209.0,1107.2 L209.5,1107.4 L210.0,1107.5 L210.5,1107.0 L211.0,1107.1 L211.5,1107.3 L212.0,1107.2 L212.5,1107.0 L213.0,1107.3 L213.5,1107.1 L214.0,1107.2 L214.5,1107.0 L215.0,1107.4 L215.5,1107.0 L216.0,1107.4 L216.5,1107.5 L217.0,1106.9 L217.5,1107.2 L218.0,1107.4 L218.5,1107.5 L219.0,1107.4 L219.5,1106.9 L220.0,1107.0 L220.5,1107.2 L221.0,1107.5 L221.5,1107.0 L222.0,1107.4 L222.5,1107.3 L223.0,1107.2 L223.5,1107.1 L224.0,1107.0 L224.5,1107.4 L225.0,1107.1 L225.5,1107.0 L226.0,1107.1 L226.5,1107.3 L227.0,1106.9 L227.5,1107.1 L228.0,1107.0 L228.5,1107.2 L229.0,1107.1 L229.5,1107.2 L230.0,1107.4 L230.5,1107.0 L231.0,1106.9 L231.5,1107.1 L232.0,1106.9 L232.5,1107.2 L233.0,1106.9 L233.5,1107.1 L234.0,1107.3 L234.5,1107.1 L235.0,1107.2 L235.5,1107.2 L236.0,1107.2 L236.5,1107.4 L237.0,1107.1 L237.5,1107.2 L238.0,1106.9 L238.5,1107.5 L239.0,1107.5 L239.5,1107.3 L240.0,1107.0 L240.5,1107.5 L241.0,1107.0 L241.5,1107.2 L242.0,1107.3 L242.5,1107.1 L243.0,1107.2 L243.5,1107.4 L244.0,1107.4 L244.5,1107.2 L245.0,1107.5 L245.5,1106.9 L246.0,1107.0 L246.5,1107.2 L247.0,1106.9 L247.5,1107.3 L248.0,1107.3 L248.5,1107.2 L249.0,1107.1 L249.5,1107.2 L250.0,1107.4 L250.5,1107.0 L251.0,1107.4 L251.5,1107.0 L252.0,1107.1 L252.5,1106.9 L253.0,1107.3 L253.5,1107.1 L254.0,1107.4 L254.5,1107.1 L255.0,1106.9 L255.5,1107.5 L256.0,1107.4 L256.5,1107.4 L257.0,1107.2 L257.5,1107.3 L258.0,1107.0 L258.5,1107.3 L259.0,1107.1 L259.5,1107.1 L260.0,1107.4 L260.5,1106.9 L261.0,1107.0 L261.5,1106.9 L262.0,1107.3 L262.5,1107.2 L263.0,1107.4 L263.5,1107.2 L264.0,1107.1 L264.5,1107.2 L265.0,1107.2 L265.5,1107.3 L266.0,1107.3 L266.5,1107.3 L267.0,1107.2 L267.5,1106.9 L268.0,1107.4 L268.5,1107.3 L269.0,1107.2 L269.5,1107.0 L270.0,1107.4 L270.5,1107.3 L271.0,1106.9 L271.5,1107.4 L272.0,1107.0 L272.5,1107.3 L273.0,1107.0 L273.5,1107.2 L274.0,1107.1 L274.5,1107.1 L275.0,1106.8 L275.5,1107.8 L276.0,1107.7 L276.2,1110.5 L276.5,1109.1 L276.8,1106.6 L277.2,1109.1 L277.5,1098.5 L277.8,1097.3 L278.0,1107.4 L278.2,1105.8 L278.5,1100.4 L278.8,1111.4 L279.2,1106.1 L279.5,1104.2 L279.8,1106.6 L280.0,1114.4 L280.2,1110.8 L280.8,1108.4 L281.0,1106.3 L281.2,1104.8 L281.8,1107.4 L282.0,1104.7 L282.2,1107.1 L282.5,1105.9 L283.0,1107.1 L283.5,1107.5 L284.0,1107.6 L284.5,1107.0 L285.0,1107.4 L285.5,1107.2 L286.0,1107.5 L286.5,1107.5 L287.0,1107.5 L287.5,1107.4 L288.0,1107.4 L288.5,1107.3 L289.0,1107.0 L289.5,1107.2 L290.0,1107.5 L290.5,1107.0 L291.0,1107.0 L291.5,1107.4 L292.0,1107.1 L292.5,1107.9 L293.0,1107.7 L293.5,1107.3 L294.0,1106.0 L294.5,1106.5 L294.8,1104.7 L295.2,1105.0 L295.5,1107.2 L295.8,1109.6 L296.0,1107.4 L296.5,1107.5 L296.8,1109.9 L297.0,1108.4 L297.5,1107.2 L298.0,1106.3 L298.5,1107.0 L299.0,1107.2 L299.5,1107.2 L300.0,1107.3 L300.5,1107.3 L301.0,1107.2 L301.5,1107.4 L302.0,1107.1 L302.5,1107.6 L303.0,1108.3 L303.5,1108.1 L304.0,1109.5 L304.5,1109.3 L304.8,1104.5 L305.2,1103.8 L305.8,1101.5 L306.0,1099.3 L306.2,1101.3 L306.5,1109.1 L307.0,1105.4 L307.5,1111.0 L307.8,1114.6 L308.2,1115.8 L308.5,1113.6 L308.8,1108.6 L309.2,1109.0 L309.5,1105.4 L309.8,1106.6 L310.0,1104.9 L310.5,1106.9 L310.8,1104.5 L311.0,1107.7 L311.2,1106.5 L311.5,1104.2 L311.8,1100.4 L312.0,1103.6 L312.2,1102.4 L312.8,1105.1 L313.0,1113.0 L313.2,1105.1 L313.5,1108.2 L313.8,1116.1 L314.0,1113.6 L314.2,1107.3 L314.8,1106.9 L315.2,1108.8 L315.5,1105.7 L315.8,1107.3 L316.2,1106.6 L316.8,1107.3 L317.2,1106.9 L317.8,1107.5 L318.2,1107.0 L318.8,1107.2 L319.2,1107.0 L319.8,1107.1 L320.2,1107.4 L320.8,1107.1 L321.2,1107.2 L321.8,1107.0 L322.2,1107.4 L322.8,1106.9 L323.2,1107.0 L323.8,1107.3 L324.2,1107.2 L324.8,1107.3 L325.2,1106.9 L325.8,1107.3 L326.2,1107.1 L326.8,1107.1 L327.2,1107.4 L327.8,1106.9 L328.2,1107.5 L328.8,1106.9 L329.2,1107.0 L329.8,1107.4 L330.2,1107.4 L330.8,1107.4 L331.2,1107.4 L331.8,1107.0 L332.2,1107.4 L332.8,1107.2 L333.2,1107.0 L333.8,1107.2 L334.2,1107.3 L334.8,1107.3 L335.2,1107.2 L335.8,1107.4 L336.2,1107.0 L336.8,1107.4 L337.2,1107.4 L337.8,1107.0 L338.2,1107.1 L338.8,1107.0 L339.2,1107.2 L339.8,1107.2 L340.2,1107.0 L340.8,1107.4 L341.2,1107.0 L341.8,1107.5 L342.2,1107.1 L342.8,1107.3 L343.2,1107.3 L343.8,1107.4 L344.2,1107.3 L344.8,1106.9 L345.2,1107.1 L345.8,1107.0 L346.2,1107.2 L346.8,1107.9 L347.2,1108.7 L347.8,1107.9 L348.2,1105.6 L348.8,1103.0 L349.2,1106.7 L349.8,1105.3 L350.0,1107.7 L350.2,1101.5 L350.5,1106.5 L350.8,1104.0 L351.0,1111.5 L351.2,1110.2 L351.5,1115.5 L351.8,1109.8 L352.2,1111.0 L352.8,1106.9 L353.0,1105.4 L353.5,1106.5 L354.0,1106.8 L354.5,1107.3 L355.0,1107.4 L355.5,1107.3 L356.0,1107.1 L356.5,1107.1 L357.0,1107.1 L357.5,1107.0 L358.0,1107.4 L358.5,1107.4 L359.0,1107.3 L359.5,1107.2 L360.0,1107.1 L360.5,1107.1 L361.0,1107.2 L361.5,1107.0 L362.0,1107.2 L362.5,1107.0 L363.0,1107.3 L363.5,1107.2 L364.0,1106.9 L364.5,1107.4 L365.0,1107.3 L365.5,1107.3 L366.0,1107.3 L366.5,1106.9 L367.0,1107.2 L367.5,1107.1 L368.0,1107.2 L368.5,1107.0 L369.0,1107.4 L369.5,1107.4 L370.0,1107.1 L370.5,1107.1 L371.0,1107.4 L371.5,1106.9 L372.0,1107.4 L372.5,1106.9 L373.0,1107.4 L373.5,1107.4 L374.0,1107.0 L374.5,1107.0 L375.0,1107.2 L375.5,1107.6 L376.0,1107.1 L376.5,1106.4 L377.0,1106.7 L377.5,1106.8 L378.0,1106.3 L378.5,1106.8 L379.0,1107.3 L379.2,1108.7 L379.5,1107.4 L380.0,1107.0 L380.5,1107.0 L381.0,1107.2 L381.5,1107.2 L382.0,1107.3 L382.5,1107.4 L383.0,1107.1 L383.5,1107.4 L384.0,1107.0 L384.5,1107.3 L385.0,1107.0 L385.5,1107.0 L386.0,1107.3 L386.5,1107.2 L387.0,1107.0 L387.5,1107.4 L388.0,1106.9 L388.5,1107.3 L389.0,1107.5 L389.5,1107.4 L390.0,1107.2 L390.5,1107.3 L391.0,1107.1 L391.5,1107.2 L392.0,1107.4 L392.5,1107.3 L393.0,1107.0 L393.5,1107.0 L394.0,1107.3 L394.5,1107.4 L395.0,1106.9 L395.5,1107.0 L396.0,1107.0 L396.5,1107.4 L397.0,1107.0 L397.5,1107.2 L398.0,1107.3 L398.5,1106.9 L399.0,1107.0 L399.5,1107.1 L400.0,1107.4 L400.5,1107.0 L401.0,1107.2 L401.5,1107.0 L402.0,1107.3 L402.5,1107.4 L403.0,1107.2 L403.5,1107.1 L404.0,1107.1 L404.5,1107.1 L405.0,1107.2 L405.5,1106.9 L406.0,1107.4 L406.5,1107.2 L407.0,1107.2 L407.5,1107.4 L408.0,1107.4 L408.5,1107.0 L409.0,1107.0 L409.5,1107.2 L410.0,1106.9 L410.5,1107.0 L411.0,1107.4 L411.5,1106.9 L412.0,1107.2 L412.5,1107.4 L413.0,1107.4 L413.5,1107.3 L414.0,1107.2 L414.5,1107.4 L415.0,1107.3 L415.5,1106.9 L416.0,1107.1 L416.5,1107.3 L417.0,1107.4 L417.5,1107.5 L418.0,1107.3 L418.5,1107.0 L419.0,1107.2 L419.5,1107.3 L420.0,1107.2 L420.5,1107.0 L421.0,1107.0 L421.5,1107.2 L422.0,1107.2 L422.5,1107.4 L423.0,1107.1 L423.5,1107.2 L424.0,1107.1 L424.5,1107.4 L425.0,1107.2 L425.5,1107.1 L426.0,1107.2 L426.5,1107.0 L427.0,1107.5 L427.5,1107.2 L428.0,1107.3 L428.5,1107.2 L429.0,1107.1 L429.5,1106.9 L430.0,1107.3 L430.5,1107.4 L431.0,1107.1 L431.5,1107.0 L432.0,1107.5 L432.5,1108.1 L433.0,1107.4 L433.5,1107.5 L433.8,1106.1 L434.2,1106.5 L434.5,1105.1 L435.0,1104.3 L435.2,1108.2 L435.8,1108.0 L436.2,1107.0 L436.8,1109.0 L437.2,1107.9 L437.8,1106.7 L438.2,1106.7 L438.8,1106.9 L439.2,1107.2 L439.8,1107.2 L440.2,1107.1 L440.8,1107.1 L441.2,1107.0 L441.8,1107.0 L442.2,1107.4 L442.8,1107.0 L443.2,1107.3 L443.8,1107.4 L444.2,1107.5 L444.8,1107.0 L445.2,1107.0 L445.8,1107.0 L446.2,1106.9 L446.8,1107.1 L447.2,1107.0 L447.8,1107.1 L448.2,1107.3 L448.8,1107.3 L449.2,1107.3 L449.8,1107.3 L450.2,1107.1 L450.8,1107.3 L451.2,1106.9 L451.8,1107.2 L452.2,1107.0 L452.8,1107.0 L453.2,1107.5 L453.8,1107.4 L454.2,1107.4 L454.8,1107.0 L455.2,1107.4 L455.8,1107.3 L456.2,1106.9 L456.8,1107.2 L457.2,1107.1 L457.8,1107.4 L458.2,1107.5 L458.8,1107.1 L459.2,1107.0 L459.8,1106.9 L460.2,1107.4 L460.8,1107.3 L461.2,1107.3 L461.8,1107.5 L462.2,1107.5 L462.8,1107.3 L463.2,1107.3 L463.8,1107.3 L464.2,1107.2 L464.8,1107.5 L465.2,1107.0 L465.8,1107.1 L466.2,1107.0 L466.8,1107.5 L467.2,1107.3 L467.8,1106.9 L468.2,1107.3 L468.8,1106.9 L469.2,1107.1 L469.8,1107.2 L470.2,1107.8 L470.8,1108.0 L471.2,1106.5 L471.8,1107.1 L472.2,1104.2 L472.8,1106.6 L473.0,1108.1 L473.2,1104.4 L473.5,1105.8 L473.8,1108.8 L474.2,1108.0 L474.5,1110.1 L474.8,1107.4 L475.2,1108.3 L475.8,1106.6 L476.2,1107.1 L476.8,1106.9 L477.2,1107.2 L477.8,1106.9 L478.2,1107.1 L478.8,1106.9 L479.2,1107.2 L479.8,1107.4 L480.2,1107.1 L480.8,1107.1 L481.2,1107.0 L481.8,1107.3 L482.2,1107.1 L482.8,1107.3 L483.2,1107.1 L483.8,1107.5 L484.2,1106.9 L484.8,1107.4 L485.2,1107.0 L485.8,1107.0 L486.2,1107.0 L486.8,1107.5 L487.2,1107.0 L487.8,1107.3 L488.2,1107.1 L488.8,1107.2 L489.2,1107.1 L489.8,1107.3 L490.2,1107.2 L490.8,1107.3 L491.2,1107.2 L491.8,1107.0 L492.2,1107.3 L492.8,1107.2 L493.2,1107.4 L493.8,1107.1 L494.2,1107.1 L494.8,1106.4 L495.2,1106.2 L495.8,1106.3 L496.2,1106.5 L496.8,1107.0 L497.2,1108.0 L497.8,1107.6 L498.2,1107.7 L498.8,1107.5 L499.2,1107.6 L499.8,1107.2 L500.2,1107.0 L500.8,1107.2 L501.2,1107.1 L501.8,1107.1 L502.2,1107.2 L502.8,1107.2 L503.2,1107.3 L503.8,1108.0 L504.2,1106.9 L504.8,1106.8 L505.2,1106.3 L505.8,1105.8 L506.0,1107.0 L506.2,1105.8 L506.5,1107.7 L507.0,1108.6 L507.5,1108.1 L507.8,1106.8 L508.2,1106.7 L508.8,1106.9 L509.2,1106.6 L509.8,1107.3 L510.2,1107.3 L510.8,1107.2 L511.2,1107.1 L511.8,1106.3 L512.2,1105.9 L512.8,1106.6 L513.2,1106.3 L513.8,1107.6 L514.2,1108.9 L514.8,1108.2 L515.2,1107.3 L515.8,1107.5 L516.2,1107.5 L516.8,1107.1 L517.2,1107.2 L517.8,1107.3 L518.2,1107.2 L518.8,1107.4 L519.2,1107.3 L519.8,1107.1 L520.2,1107.0 L520.8,1107.5 L521.2,1107.2 L521.8,1107.4 L522.2,1107.1 L522.8,1107.4 L523.2,1107.0 L523.8,1107.2 L524.2,1107.2 L524.8,1107.2 L525.2,1107.2 L525.8,1107.3 L526.2,1107.3 L526.8,1107.1 L527.2,1106.9 L527.8,1107.2 L528.2,1107.3 L528.8,1107.0 L529.2,1106.9 L529.8,1107.4 L530.2,1107.2 L530.8,1107.2 L531.2,1107.0 L531.8,1107.4 L532.2,1107.3 L532.8,1107.0 L533.2,1107.2 L533.8,1107.2 L534.2,1107.0 L534.8,1107.2 L535.2,1107.0 L535.8,1107.4 L536.2,1107.3 L536.8,1106.9 L537.2,1107.5 L537.8,1107.0 L538.2,1107.4 L538.8,1107.0 L539.2,1107.5 L539.8,1107.3 L540.2,1107.0 L540.8,1107.0 L541.2,1107.1 L541.8,1107.3 L542.2,1106.9 L542.8,1107.1 L543.2,1107.0 L543.8,1107.4 L544.2,1107.2 L544.8,1107.4 L545.2,1106.9 L545.8,1107.1 L546.2,1107.4 L546.8,1107.2 L547.2,1107.5 L547.8,1107.5 L548.2,1107.1 L548.8,1107.0 L549.2,1106.9 L549.8,1107.3 L550.2,1106.9 L550.8,1107.4 L551.2,1107.3 L551.8,1107.1 L552.2,1107.2 L552.8,1107.7 L553.2,1107.8 L553.8,1108.0 L554.2,1107.4 L554.8,1107.4 L555.2,1107.5 L555.8,1107.2 L556.2,1106.9 L556.8,1107.3 L557.2,1107.1 L557.8,1107.1 L558.2,1107.4 L558.8,1107.2 L559.2,1107.2 L559.8,1107.0 L560.2,1107.1 L560.8,1106.9 L561.2,1107.2 L561.8,1106.9 L562.2,1106.6 L562.8,1106.8 L563.2,1106.8 L563.8,1107.0 L564.2,1107.2 L564.8,1107.8 L565.2,1107.5 L565.8,1107.6 L566.2,1107.5 L566.8,1107.2 L567.2,1107.2 L567.8,1107.1 L568.2,1106.9 L568.8,1107.2 L569.2,1107.4 L569.8,1107.5 L570.2,1106.9 L570.8,1107.4 L571.2,1107.4 L571.8,1107.1 L572.2,1107.3 L572.8,1107.2 L573.2,1107.6 L573.8,1107.0 L574.2,1107.3 L574.8,1106.5 L575.2,1107.4 L575.8,1106.5 L576.2,1106.8 L576.8,1107.4 L577.2,1107.5 L577.8,1107.5 L578.2,1107.3 L578.8,1107.8 L579.2,1107.8 L579.8,1107.3" fill="none" stroke="#35359a" stroke-width="1.1" stroke-linejoin="round"/>
<rect x="204" y="562.5" width="376" height="565.1" fill="none" stroke="#2a2a2a" stroke-width="2"/>
<path d="M204 703.4H580" stroke="#2a2a2a" stroke-width="1.8"/>
<path d="M204 844.8H580" stroke="#2a2a2a" stroke-width="1.8"/>
<path d="M204 986.3H580" stroke="#2a2a2a" stroke-width="1.8"/>
<path d="M266.6 562.5v8M266.6 703.4v8M266.6 844.8v8M266.6 986.3v8M266.6 703.4v-8M266.6 844.8v-8M266.6 986.3v-8M266.6 1127.6v-8M329.3 562.5v8M329.3 703.4v8M329.3 844.8v8M329.3 986.3v8M329.3 703.4v-8M329.3 844.8v-8M329.3 986.3v-8M329.3 1127.6v-8M392.0 562.5v8M392.0 703.4v8M392.0 844.8v8M392.0 986.3v8M392.0 703.4v-8M392.0 844.8v-8M392.0 986.3v-8M392.0 1127.6v-8M454.7 562.5v8M454.7 703.4v8M454.7 844.8v8M454.7 986.3v8M454.7 703.4v-8M454.7 844.8v-8M454.7 986.3v-8M454.7 1127.6v-8M517.4 562.5v8M517.4 703.4v8M517.4 844.8v8M517.4 986.3v8M517.4 703.4v-8M517.4 844.8v-8M517.4 986.3v-8M517.4 1127.6v-8" stroke="#333" stroke-width="1"/>
<path d="M205 609.0h7.5M579 609.0h-7.5M205 719.4h7.5M579 719.4h-7.5M205 767.6h7.5M579 767.6h-7.5M205 815.3h7.5M579 815.3h-7.5M205 865.0h7.5M579 865.0h-7.5M205 905.3h7.5M579 905.3h-7.5M205 1003.9h7.5M579 1003.9h-7.5M205 1046.8h7.5M579 1046.8h-7.5" stroke="#888" stroke-width="1.2"/>
<g font-family="Liberation Serif" font-size="15.6" fill="#111"><rect x="429.8" y="579.5" width="2.6" height="2.6" fill="#000"/><path d="M413.8 598.8H448.5" stroke="#62aeab" stroke-width="1.7"/><path d="M413.8 617.1H448.5" stroke="#44448a" stroke-width="1.5"/><text x="453.3" y="584.7">ZnO (measured)</text><text x="453.3" y="603.1">ZnO (calculated)</text><text x="453.3" y="620.7">Residual</text><rect x="400.2" y="720.4" width="2.6" height="2.6" fill="#000"/><path d="M384.1 739.7H418.8" stroke="#62aeab" stroke-width="1.7"/><path d="M384.1 758.0H418.8" stroke="#44448a" stroke-width="1.5"/><text x="423.6" y="725.6">ZnOCuO (measured)</text><text x="423.6" y="744.0">ZnOCuO (calculated)</text><text x="423.6" y="761.6">Residual</text><rect x="394.9" y="861.8" width="2.6" height="2.6" fill="#000"/><path d="M378.9 881.1H413.6" stroke="#62aeab" stroke-width="1.7"/><path d="M378.9 899.4H413.6" stroke="#44448a" stroke-width="1.5"/><text x="418.4" y="867.0">ZnMn<tspan font-size="11" dy="2.5">3</tspan><tspan dy="-2.5">O</tspan><tspan font-size="11" dy="2.5">4</tspan><tspan dy="-2.5"> </tspan> (measured)</text><text x="418.4" y="885.4">ZnMn<tspan font-size="11" dy="2.5">3</tspan><tspan dy="-2.5">O</tspan><tspan font-size="11" dy="2.5">4</tspan><tspan dy="-2.5"> </tspan> (calculated)</text><text x="418.4" y="903.0">Residual</text><rect x="401.7" y="1003.3" width="2.6" height="2.6" fill="#000"/><path d="M385.7 1022.6H420.4" stroke="#62aeab" stroke-width="1.7"/><path d="M385.7 1040.9H420.4" stroke="#44448a" stroke-width="1.5"/><text x="425.2" y="1008.5">ZnFe<tspan font-size="11" dy="2.5">2</tspan><tspan dy="-2.5">O</tspan><tspan font-size="11" dy="2.5">3</tspan><tspan dy="-2.5"> </tspan> (measured)</text><text x="425.2" y="1026.9">ZnFe<tspan font-size="11" dy="2.5">2</tspan><tspan dy="-2.5">O</tspan><tspan font-size="11" dy="2.5">3</tspan><tspan dy="-2.5"> </tspan> (calculated)</text><text x="425.2" y="1044.5">Residual</text></g>
<g font-family="Liberation Serif" font-size="21" fill="#111" text-anchor="middle"><text x="203.9" y="1148.6">20</text><text x="266.6" y="1148.6">30</text><text x="329.3" y="1148.6">40</text><text x="392.0" y="1148.6">50</text><text x="454.7" y="1148.6">60</text><text x="517.4" y="1148.6">70</text><text x="580.1" y="1148.6">80</text></g>
<text x="355.6" y="1184.3" font-family="Liberation Serif" font-size="29" fill="#111">2<tspan font-style="italic">&#952;</tspan></text>
<text x="395.8" y="1184.3" font-family="Liberation Serif" font-size="29" fill="#111">(&#176;)</text>
<text transform="translate(173.6,977.6) rotate(-90)" font-family="Liberation Serif" font-size="30" fill="#111" textLength="269.5" lengthAdjust="spacingAndGlyphs">Intensity (arb. units)</text>
</svg>
</body></html>
